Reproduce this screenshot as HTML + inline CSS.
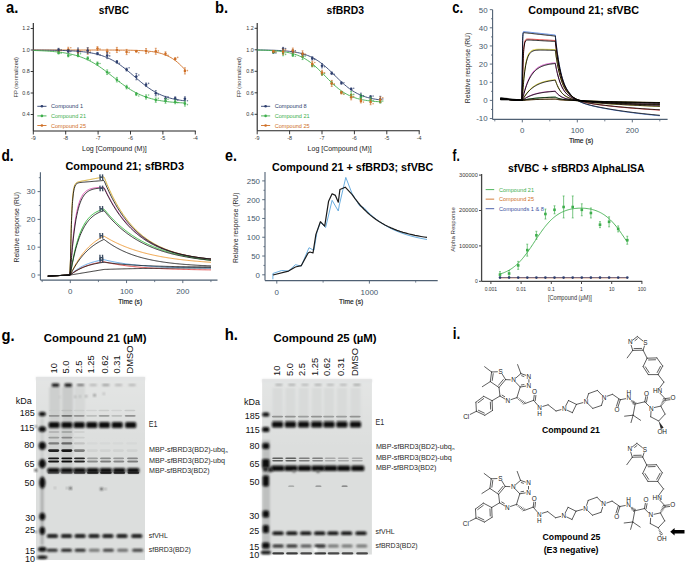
<!DOCTYPE html>
<html><head><meta charset="utf-8"><style>
html,body{margin:0;padding:0;background:#fff;}
svg{display:block;font-family:"Liberation Sans", sans-serif;}
</style></head><body>
<svg width="685" height="563" viewBox="0 0 685 563">
<rect width="685" height="563" fill="#fff"/>
<text x="6.1" y="13.1" font-size="16" fill="#000" font-weight="bold" text-anchor="start" textLength="12.3" lengthAdjust="spacingAndGlyphs" >a.</text>
<text x="98.8" y="13.6" font-size="11.5" fill="#000" font-weight="bold" text-anchor="start" textLength="30.2" lengthAdjust="spacingAndGlyphs" >sfVBC</text>
<text x="215.0" y="12.6" font-size="16" fill="#000" font-weight="bold" text-anchor="start" textLength="13.1" lengthAdjust="spacingAndGlyphs" >b.</text>
<text x="326.6" y="13.7" font-size="11.5" fill="#000" font-weight="bold" text-anchor="start" textLength="37.4" lengthAdjust="spacingAndGlyphs" >sfBRD3</text>
<text x="452.2" y="12.8" font-size="16" fill="#000" font-weight="bold" text-anchor="start" textLength="10.9" lengthAdjust="spacingAndGlyphs" >c.</text>
<text x="528.3" y="13.5" font-size="11.5" fill="#000" font-weight="bold" text-anchor="start" textLength="110.8" lengthAdjust="spacingAndGlyphs" >Compound 21; sfVBC</text>
<line x1="33.30" y1="23.12" x2="33.30" y2="131.00" stroke="#222" stroke-width="1.1" />
<line x1="33.30" y1="131.00" x2="195.80" y2="131.00" stroke="#222" stroke-width="1.1" />
<line x1="30.70" y1="114.50" x2="33.30" y2="114.50" stroke="#222" stroke-width="0.9" />
<text x="29.8" y="116.4" font-size="5.4" fill="#333" font-weight="normal" text-anchor="end" >0.4</text>
<line x1="30.70" y1="93.00" x2="33.30" y2="93.00" stroke="#222" stroke-width="0.9" />
<text x="29.8" y="94.9" font-size="5.4" fill="#333" font-weight="normal" text-anchor="end" >0.6</text>
<line x1="30.70" y1="71.50" x2="33.30" y2="71.50" stroke="#222" stroke-width="0.9" />
<text x="29.8" y="73.4" font-size="5.4" fill="#333" font-weight="normal" text-anchor="end" >0.8</text>
<line x1="30.70" y1="50.00" x2="33.30" y2="50.00" stroke="#222" stroke-width="0.9" />
<text x="29.8" y="51.9" font-size="5.4" fill="#333" font-weight="normal" text-anchor="end" >1.0</text>
<line x1="30.70" y1="28.50" x2="33.30" y2="28.50" stroke="#222" stroke-width="0.9" />
<text x="29.8" y="30.4" font-size="5.4" fill="#333" font-weight="normal" text-anchor="end" >1.2</text>
<line x1="33.30" y1="131.00" x2="33.30" y2="134.50" stroke="#222" stroke-width="0.9" />
<text x="33.3" y="140.3" font-size="5.4" fill="#333" font-weight="normal" text-anchor="middle" >-9</text>
<line x1="65.70" y1="131.00" x2="65.70" y2="134.50" stroke="#222" stroke-width="0.9" />
<text x="65.7" y="140.3" font-size="5.4" fill="#333" font-weight="normal" text-anchor="middle" >-8</text>
<line x1="98.10" y1="131.00" x2="98.10" y2="134.50" stroke="#222" stroke-width="0.9" />
<text x="98.1" y="140.3" font-size="5.4" fill="#333" font-weight="normal" text-anchor="middle" >-7</text>
<line x1="130.50" y1="131.00" x2="130.50" y2="134.50" stroke="#222" stroke-width="0.9" />
<text x="130.5" y="140.3" font-size="5.4" fill="#333" font-weight="normal" text-anchor="middle" >-6</text>
<line x1="162.90" y1="131.00" x2="162.90" y2="134.50" stroke="#222" stroke-width="0.9" />
<text x="162.9" y="140.3" font-size="5.4" fill="#333" font-weight="normal" text-anchor="middle" >-5</text>
<line x1="195.30" y1="131.00" x2="195.30" y2="134.50" stroke="#222" stroke-width="0.9" />
<text x="195.3" y="140.3" font-size="5.4" fill="#333" font-weight="normal" text-anchor="middle" >-4</text>
<text transform="translate(15.3,77.3) rotate(-90)" x="0" y="2.2" font-size="6.2" fill="#333" font-weight="normal" text-anchor="middle" textLength="40.3" lengthAdjust="spacingAndGlyphs">FP (normalized)</text>
<text x="82.0" y="151.2" font-size="6.6" fill="#222" font-weight="normal" text-anchor="start" textLength="64.7" lengthAdjust="spacingAndGlyphs" >Log [Compound (M)]</text>
<path d="M33.30,50.00 L34.92,50.00 L36.54,50.00 L38.16,50.00 L39.78,50.00 L41.40,50.00 L43.02,50.00 L44.64,50.00 L46.26,50.00 L47.88,50.00 L49.50,50.00 L51.12,50.00 L52.74,50.00 L54.36,50.00 L55.98,50.00 L57.60,50.00 L59.22,50.00 L60.84,50.00 L62.46,50.00 L64.08,50.00 L65.70,50.00 L67.32,50.00 L68.94,50.00 L70.56,50.00 L72.18,50.00 L73.80,50.00 L75.42,50.00 L77.04,50.00 L78.66,50.00 L80.28,50.00 L81.90,50.00 L83.52,50.00 L85.14,50.00 L86.76,50.00 L88.38,50.01 L90.00,50.01 L91.62,50.01 L93.24,50.01 L94.86,50.01 L96.48,50.01 L98.10,50.01 L99.72,50.02 L101.34,50.02 L102.96,50.02 L104.58,50.02 L106.20,50.03 L107.82,50.03 L109.44,50.04 L111.06,50.04 L112.68,50.05 L114.30,50.06 L115.92,50.07 L117.54,50.08 L119.16,50.09 L120.78,50.10 L122.40,50.12 L124.02,50.13 L125.64,50.16 L127.26,50.18 L128.88,50.21 L130.50,50.24 L132.12,50.28 L133.74,50.32 L135.36,50.37 L136.98,50.43 L138.60,50.49 L140.22,50.57 L141.84,50.65 L143.46,50.75 L145.08,50.87 L146.70,51.00 L148.32,51.16 L149.94,51.33 L151.56,51.53 L153.18,51.76 L154.80,52.03 L156.42,52.33 L158.04,52.67 L159.66,53.07 L161.28,53.51 L162.90,54.02 L164.52,54.59 L166.14,55.23 L167.76,55.96 L169.38,56.77 L171.00,57.67 L172.62,58.67 L174.24,59.77 L175.86,60.98 L177.48,62.30 L179.10,63.73 L180.72,65.26 L182.34,66.88 L183.96,68.60 L185.58,70.40" stroke="#cf6f26" stroke-width="0.9" fill="none" stroke-linejoin="round" />
<path d="M33.30,50.07 L34.92,50.08 L36.54,50.09 L38.16,50.10 L39.78,50.11 L41.40,50.12 L43.02,50.13 L44.64,50.15 L46.26,50.16 L47.88,50.18 L49.50,50.20 L51.12,50.23 L52.74,50.25 L54.36,50.28 L55.98,50.31 L57.60,50.34 L59.22,50.38 L60.84,50.42 L62.46,50.47 L64.08,50.52 L65.70,50.58 L67.32,50.65 L68.94,50.72 L70.56,50.80 L72.18,50.88 L73.80,50.98 L75.42,51.09 L77.04,51.21 L78.66,51.34 L80.28,51.49 L81.90,51.65 L83.52,51.83 L85.14,52.02 L86.76,52.24 L88.38,52.48 L90.00,52.74 L91.62,53.03 L93.24,53.35 L94.86,53.70 L96.48,54.09 L98.10,54.50 L99.72,54.96 L101.34,55.46 L102.96,56.00 L104.58,56.59 L106.20,57.23 L107.82,57.92 L109.44,58.66 L111.06,59.46 L112.68,60.31 L114.30,61.22 L115.92,62.19 L117.54,63.21 L119.16,64.29 L120.78,65.42 L122.40,66.61 L124.02,67.84 L125.64,69.11 L127.26,70.42 L128.88,71.77 L130.50,73.13 L132.12,74.52 L133.74,75.92 L135.36,77.32 L136.98,78.71 L138.60,80.09 L140.22,81.45 L141.84,82.78 L143.46,84.08 L145.08,85.34 L146.70,86.55 L148.32,87.71 L149.94,88.82 L151.56,89.88 L153.18,90.88 L154.80,91.83 L156.42,92.71 L158.04,93.54 L159.66,94.32 L161.28,95.04 L162.90,95.71 L164.52,96.32 L166.14,96.89 L167.76,97.42 L169.38,97.90 L171.00,98.34 L172.62,98.75 L174.24,99.12 L175.86,99.45 L177.48,99.76 L179.10,100.04 L180.72,100.29 L182.34,100.52 L183.96,100.73 L185.58,100.92" stroke="#2e3f6e" stroke-width="0.9" fill="none" stroke-linejoin="round" />
<path d="M33.30,50.48 L34.92,50.53 L36.54,50.58 L38.16,50.64 L39.78,50.71 L41.40,50.78 L43.02,50.85 L44.64,50.94 L46.26,51.03 L47.88,51.13 L49.50,51.24 L51.12,51.36 L52.74,51.49 L54.36,51.64 L55.98,51.80 L57.60,51.97 L59.22,52.16 L60.84,52.37 L62.46,52.59 L64.08,52.84 L65.70,53.11 L67.32,53.40 L68.94,53.72 L70.56,54.06 L72.18,54.44 L73.80,54.84 L75.42,55.28 L77.04,55.75 L78.66,56.26 L80.28,56.81 L81.90,57.40 L83.52,58.03 L85.14,58.71 L86.76,59.43 L88.38,60.19 L90.00,61.00 L91.62,61.86 L93.24,62.77 L94.86,63.73 L96.48,64.72 L98.10,65.77 L99.72,66.85 L101.34,67.98 L102.96,69.14 L104.58,70.33 L106.20,71.55 L107.82,72.80 L109.44,74.06 L111.06,75.34 L112.68,76.62 L114.30,77.90 L115.92,79.18 L117.54,80.45 L119.16,81.70 L120.78,82.93 L122.40,84.14 L124.02,85.31 L125.64,86.45 L127.26,87.55 L128.88,88.61 L130.50,89.63 L132.12,90.60 L133.74,91.53 L135.36,92.41 L136.98,93.24 L138.60,94.02 L140.22,94.76 L141.84,95.45 L143.46,96.10 L145.08,96.71 L146.70,97.27 L148.32,97.80 L149.94,98.28 L151.56,98.74 L153.18,99.15 L154.80,99.54 L156.42,99.90 L158.04,100.22 L159.66,100.53 L161.28,100.80 L162.90,101.06 L164.52,101.29 L166.14,101.51 L167.76,101.70 L169.38,101.88 L171.00,102.05 L172.62,102.20 L174.24,102.34 L175.86,102.46 L177.48,102.58 L179.10,102.68 L180.72,102.78 L182.34,102.86 L183.96,102.94 L185.58,103.02" stroke="#3eae4c" stroke-width="0.9" fill="none" stroke-linejoin="round" />
<line x1="58.57" y1="49.02" x2="58.57" y2="53.23" stroke="#cf6f26" stroke-width="0.7" />
<line x1="57.57" y1="49.02" x2="59.57" y2="49.02" stroke="#cf6f26" stroke-width="0.6" />
<line x1="57.57" y1="53.23" x2="59.57" y2="53.23" stroke="#cf6f26" stroke-width="0.6" />
<circle cx="58.6" cy="51.1" r="1.3" fill="#cf6f26"/>
<circle cx="61.1" cy="50.6" r="0.8" fill="#cf6f26" opacity="0.7"/>
<line x1="68.29" y1="47.25" x2="68.29" y2="51.86" stroke="#cf6f26" stroke-width="0.7" />
<line x1="67.29" y1="47.25" x2="69.29" y2="47.25" stroke="#cf6f26" stroke-width="0.6" />
<line x1="67.29" y1="51.86" x2="69.29" y2="51.86" stroke="#cf6f26" stroke-width="0.6" />
<circle cx="68.3" cy="49.6" r="1.3" fill="#cf6f26"/>
<circle cx="70.8" cy="47.8" r="0.8" fill="#cf6f26" opacity="0.7"/>
<line x1="78.01" y1="49.29" x2="78.01" y2="54.91" stroke="#cf6f26" stroke-width="0.7" />
<line x1="77.01" y1="49.29" x2="79.01" y2="49.29" stroke="#cf6f26" stroke-width="0.6" />
<line x1="77.01" y1="54.91" x2="79.01" y2="54.91" stroke="#cf6f26" stroke-width="0.6" />
<circle cx="78.0" cy="52.1" r="1.3" fill="#cf6f26"/>
<circle cx="80.5" cy="51.1" r="0.8" fill="#cf6f26" opacity="0.7"/>
<line x1="87.73" y1="47.96" x2="87.73" y2="54.34" stroke="#cf6f26" stroke-width="0.7" />
<line x1="86.73" y1="47.96" x2="88.73" y2="47.96" stroke="#cf6f26" stroke-width="0.6" />
<line x1="86.73" y1="54.34" x2="88.73" y2="54.34" stroke="#cf6f26" stroke-width="0.6" />
<circle cx="87.7" cy="51.1" r="1.3" fill="#cf6f26"/>
<circle cx="90.2" cy="51.0" r="0.8" fill="#cf6f26" opacity="0.7"/>
<line x1="97.45" y1="46.62" x2="97.45" y2="50.51" stroke="#cf6f26" stroke-width="0.7" />
<line x1="96.45" y1="46.62" x2="98.45" y2="46.62" stroke="#cf6f26" stroke-width="0.6" />
<line x1="96.45" y1="50.51" x2="98.45" y2="50.51" stroke="#cf6f26" stroke-width="0.6" />
<circle cx="97.5" cy="48.6" r="1.3" fill="#cf6f26"/>
<circle cx="100.0" cy="49.1" r="0.8" fill="#cf6f26" opacity="0.7"/>
<line x1="107.17" y1="49.21" x2="107.17" y2="53.86" stroke="#cf6f26" stroke-width="0.7" />
<line x1="106.17" y1="49.21" x2="108.17" y2="49.21" stroke="#cf6f26" stroke-width="0.6" />
<line x1="106.17" y1="53.86" x2="108.17" y2="53.86" stroke="#cf6f26" stroke-width="0.6" />
<circle cx="107.2" cy="51.5" r="1.3" fill="#cf6f26"/>
<circle cx="109.7" cy="53.0" r="0.8" fill="#cf6f26" opacity="0.7"/>
<line x1="116.89" y1="47.39" x2="116.89" y2="52.55" stroke="#cf6f26" stroke-width="0.7" />
<line x1="115.89" y1="47.39" x2="117.89" y2="47.39" stroke="#cf6f26" stroke-width="0.6" />
<line x1="115.89" y1="52.55" x2="117.89" y2="52.55" stroke="#cf6f26" stroke-width="0.6" />
<circle cx="116.9" cy="50.0" r="1.3" fill="#cf6f26"/>
<circle cx="119.4" cy="50.7" r="0.8" fill="#cf6f26" opacity="0.7"/>
<line x1="126.61" y1="49.42" x2="126.61" y2="54.66" stroke="#cf6f26" stroke-width="0.7" />
<line x1="125.61" y1="49.42" x2="127.61" y2="49.42" stroke="#cf6f26" stroke-width="0.6" />
<line x1="125.61" y1="54.66" x2="127.61" y2="54.66" stroke="#cf6f26" stroke-width="0.6" />
<circle cx="126.6" cy="52.0" r="1.3" fill="#cf6f26"/>
<circle cx="129.1" cy="52.4" r="0.8" fill="#cf6f26" opacity="0.7"/>
<line x1="136.33" y1="50.38" x2="136.33" y2="52.13" stroke="#cf6f26" stroke-width="0.7" />
<line x1="135.33" y1="50.38" x2="137.33" y2="50.38" stroke="#cf6f26" stroke-width="0.6" />
<line x1="135.33" y1="52.13" x2="137.33" y2="52.13" stroke="#cf6f26" stroke-width="0.6" />
<circle cx="136.3" cy="51.3" r="1.3" fill="#cf6f26"/>
<circle cx="138.8" cy="52.7" r="0.8" fill="#cf6f26" opacity="0.7"/>
<line x1="146.05" y1="48.54" x2="146.05" y2="53.59" stroke="#cf6f26" stroke-width="0.7" />
<line x1="145.05" y1="48.54" x2="147.05" y2="48.54" stroke="#cf6f26" stroke-width="0.6" />
<line x1="145.05" y1="53.59" x2="147.05" y2="53.59" stroke="#cf6f26" stroke-width="0.6" />
<circle cx="146.1" cy="51.1" r="1.3" fill="#cf6f26"/>
<circle cx="148.6" cy="52.6" r="0.8" fill="#cf6f26" opacity="0.7"/>
<line x1="155.77" y1="48.27" x2="155.77" y2="54.29" stroke="#cf6f26" stroke-width="0.7" />
<line x1="154.77" y1="48.27" x2="156.77" y2="48.27" stroke="#cf6f26" stroke-width="0.6" />
<line x1="154.77" y1="54.29" x2="156.77" y2="54.29" stroke="#cf6f26" stroke-width="0.6" />
<circle cx="155.8" cy="51.3" r="1.3" fill="#cf6f26"/>
<circle cx="158.3" cy="50.9" r="0.8" fill="#cf6f26" opacity="0.7"/>
<line x1="165.49" y1="51.81" x2="165.49" y2="55.54" stroke="#cf6f26" stroke-width="0.7" />
<line x1="164.49" y1="51.81" x2="166.49" y2="51.81" stroke="#cf6f26" stroke-width="0.6" />
<line x1="164.49" y1="55.54" x2="166.49" y2="55.54" stroke="#cf6f26" stroke-width="0.6" />
<circle cx="165.5" cy="53.7" r="1.3" fill="#cf6f26"/>
<circle cx="168.0" cy="55.4" r="0.8" fill="#cf6f26" opacity="0.7"/>
<line x1="175.21" y1="57.82" x2="175.21" y2="59.89" stroke="#cf6f26" stroke-width="0.7" />
<line x1="174.21" y1="57.82" x2="176.21" y2="57.82" stroke="#cf6f26" stroke-width="0.6" />
<line x1="174.21" y1="59.89" x2="176.21" y2="59.89" stroke="#cf6f26" stroke-width="0.6" />
<circle cx="175.2" cy="58.9" r="1.3" fill="#cf6f26"/>
<circle cx="177.7" cy="57.4" r="0.8" fill="#cf6f26" opacity="0.7"/>
<line x1="184.93" y1="67.77" x2="184.93" y2="74.01" stroke="#cf6f26" stroke-width="0.7" />
<line x1="183.93" y1="67.77" x2="185.93" y2="67.77" stroke="#cf6f26" stroke-width="0.6" />
<line x1="183.93" y1="74.01" x2="185.93" y2="74.01" stroke="#cf6f26" stroke-width="0.6" />
<circle cx="184.9" cy="70.9" r="1.3" fill="#cf6f26"/>
<circle cx="187.4" cy="70.6" r="0.8" fill="#cf6f26" opacity="0.7"/>
<line x1="58.57" y1="48.30" x2="58.57" y2="51.34" stroke="#2e3f6e" stroke-width="0.7" />
<line x1="57.57" y1="48.30" x2="59.57" y2="48.30" stroke="#2e3f6e" stroke-width="0.6" />
<line x1="57.57" y1="51.34" x2="59.57" y2="51.34" stroke="#2e3f6e" stroke-width="0.6" />
<circle cx="58.6" cy="49.8" r="1.3" fill="#2e3f6e"/>
<circle cx="61.1" cy="49.9" r="0.8" fill="#2e3f6e" opacity="0.7"/>
<line x1="68.29" y1="49.54" x2="68.29" y2="52.82" stroke="#2e3f6e" stroke-width="0.7" />
<line x1="67.29" y1="49.54" x2="69.29" y2="49.54" stroke="#2e3f6e" stroke-width="0.6" />
<line x1="67.29" y1="52.82" x2="69.29" y2="52.82" stroke="#2e3f6e" stroke-width="0.6" />
<circle cx="68.3" cy="51.2" r="1.3" fill="#2e3f6e"/>
<circle cx="70.8" cy="51.5" r="0.8" fill="#2e3f6e" opacity="0.7"/>
<line x1="78.01" y1="47.95" x2="78.01" y2="53.89" stroke="#2e3f6e" stroke-width="0.7" />
<line x1="77.01" y1="47.95" x2="79.01" y2="47.95" stroke="#2e3f6e" stroke-width="0.6" />
<line x1="77.01" y1="53.89" x2="79.01" y2="53.89" stroke="#2e3f6e" stroke-width="0.6" />
<circle cx="78.0" cy="50.9" r="1.3" fill="#2e3f6e"/>
<circle cx="80.5" cy="51.7" r="0.8" fill="#2e3f6e" opacity="0.7"/>
<line x1="87.73" y1="47.68" x2="87.73" y2="53.39" stroke="#2e3f6e" stroke-width="0.7" />
<line x1="86.73" y1="47.68" x2="88.73" y2="47.68" stroke="#2e3f6e" stroke-width="0.6" />
<line x1="86.73" y1="53.39" x2="88.73" y2="53.39" stroke="#2e3f6e" stroke-width="0.6" />
<circle cx="87.7" cy="50.5" r="1.3" fill="#2e3f6e"/>
<circle cx="90.2" cy="52.5" r="0.8" fill="#2e3f6e" opacity="0.7"/>
<line x1="97.45" y1="52.40" x2="97.45" y2="54.79" stroke="#2e3f6e" stroke-width="0.7" />
<line x1="96.45" y1="52.40" x2="98.45" y2="52.40" stroke="#2e3f6e" stroke-width="0.6" />
<line x1="96.45" y1="54.79" x2="98.45" y2="54.79" stroke="#2e3f6e" stroke-width="0.6" />
<circle cx="97.5" cy="53.6" r="1.3" fill="#2e3f6e"/>
<circle cx="100.0" cy="55.0" r="0.8" fill="#2e3f6e" opacity="0.7"/>
<line x1="107.17" y1="52.67" x2="107.17" y2="58.61" stroke="#2e3f6e" stroke-width="0.7" />
<line x1="106.17" y1="52.67" x2="108.17" y2="52.67" stroke="#2e3f6e" stroke-width="0.6" />
<line x1="106.17" y1="58.61" x2="108.17" y2="58.61" stroke="#2e3f6e" stroke-width="0.6" />
<circle cx="107.2" cy="55.6" r="1.3" fill="#2e3f6e"/>
<circle cx="109.7" cy="55.9" r="0.8" fill="#2e3f6e" opacity="0.7"/>
<line x1="116.89" y1="60.57" x2="116.89" y2="63.18" stroke="#2e3f6e" stroke-width="0.7" />
<line x1="115.89" y1="60.57" x2="117.89" y2="60.57" stroke="#2e3f6e" stroke-width="0.6" />
<line x1="115.89" y1="63.18" x2="117.89" y2="63.18" stroke="#2e3f6e" stroke-width="0.6" />
<circle cx="116.9" cy="61.9" r="1.3" fill="#2e3f6e"/>
<circle cx="119.4" cy="63.2" r="0.8" fill="#2e3f6e" opacity="0.7"/>
<line x1="126.61" y1="68.09" x2="126.61" y2="71.06" stroke="#2e3f6e" stroke-width="0.7" />
<line x1="125.61" y1="68.09" x2="127.61" y2="68.09" stroke="#2e3f6e" stroke-width="0.6" />
<line x1="125.61" y1="71.06" x2="127.61" y2="71.06" stroke="#2e3f6e" stroke-width="0.6" />
<circle cx="126.6" cy="69.6" r="1.3" fill="#2e3f6e"/>
<circle cx="129.1" cy="67.8" r="0.8" fill="#2e3f6e" opacity="0.7"/>
<line x1="136.33" y1="73.46" x2="136.33" y2="79.81" stroke="#2e3f6e" stroke-width="0.7" />
<line x1="135.33" y1="73.46" x2="137.33" y2="73.46" stroke="#2e3f6e" stroke-width="0.6" />
<line x1="135.33" y1="79.81" x2="137.33" y2="79.81" stroke="#2e3f6e" stroke-width="0.6" />
<circle cx="136.3" cy="76.6" r="1.3" fill="#2e3f6e"/>
<circle cx="138.8" cy="75.0" r="0.8" fill="#2e3f6e" opacity="0.7"/>
<line x1="146.05" y1="82.99" x2="146.05" y2="86.56" stroke="#2e3f6e" stroke-width="0.7" />
<line x1="145.05" y1="82.99" x2="147.05" y2="82.99" stroke="#2e3f6e" stroke-width="0.6" />
<line x1="145.05" y1="86.56" x2="147.05" y2="86.56" stroke="#2e3f6e" stroke-width="0.6" />
<circle cx="146.1" cy="84.8" r="1.3" fill="#2e3f6e"/>
<circle cx="148.6" cy="83.4" r="0.8" fill="#2e3f6e" opacity="0.7"/>
<line x1="155.77" y1="90.61" x2="155.77" y2="95.90" stroke="#2e3f6e" stroke-width="0.7" />
<line x1="154.77" y1="90.61" x2="156.77" y2="90.61" stroke="#2e3f6e" stroke-width="0.6" />
<line x1="154.77" y1="95.90" x2="156.77" y2="95.90" stroke="#2e3f6e" stroke-width="0.6" />
<circle cx="155.8" cy="93.3" r="1.3" fill="#2e3f6e"/>
<circle cx="158.3" cy="94.7" r="0.8" fill="#2e3f6e" opacity="0.7"/>
<line x1="165.49" y1="96.36" x2="165.49" y2="100.91" stroke="#2e3f6e" stroke-width="0.7" />
<line x1="164.49" y1="96.36" x2="166.49" y2="96.36" stroke="#2e3f6e" stroke-width="0.6" />
<line x1="164.49" y1="100.91" x2="166.49" y2="100.91" stroke="#2e3f6e" stroke-width="0.6" />
<circle cx="165.5" cy="98.6" r="1.3" fill="#2e3f6e"/>
<circle cx="168.0" cy="96.8" r="0.8" fill="#2e3f6e" opacity="0.7"/>
<line x1="175.21" y1="96.79" x2="175.21" y2="99.98" stroke="#2e3f6e" stroke-width="0.7" />
<line x1="174.21" y1="96.79" x2="176.21" y2="96.79" stroke="#2e3f6e" stroke-width="0.6" />
<line x1="174.21" y1="99.98" x2="176.21" y2="99.98" stroke="#2e3f6e" stroke-width="0.6" />
<circle cx="175.2" cy="98.4" r="1.3" fill="#2e3f6e"/>
<circle cx="177.7" cy="99.9" r="0.8" fill="#2e3f6e" opacity="0.7"/>
<line x1="184.93" y1="96.77" x2="184.93" y2="100.79" stroke="#2e3f6e" stroke-width="0.7" />
<line x1="183.93" y1="96.77" x2="185.93" y2="96.77" stroke="#2e3f6e" stroke-width="0.6" />
<line x1="183.93" y1="100.79" x2="185.93" y2="100.79" stroke="#2e3f6e" stroke-width="0.6" />
<circle cx="184.9" cy="98.8" r="1.3" fill="#2e3f6e"/>
<circle cx="187.4" cy="100.8" r="0.8" fill="#2e3f6e" opacity="0.7"/>
<line x1="58.57" y1="51.92" x2="58.57" y2="53.89" stroke="#3eae4c" stroke-width="0.7" />
<line x1="57.57" y1="51.92" x2="59.57" y2="51.92" stroke="#3eae4c" stroke-width="0.6" />
<line x1="57.57" y1="53.89" x2="59.57" y2="53.89" stroke="#3eae4c" stroke-width="0.6" />
<circle cx="58.6" cy="52.9" r="1.3" fill="#3eae4c"/>
<circle cx="61.1" cy="53.3" r="0.8" fill="#3eae4c" opacity="0.7"/>
<line x1="68.29" y1="54.33" x2="68.29" y2="56.88" stroke="#3eae4c" stroke-width="0.7" />
<line x1="67.29" y1="54.33" x2="69.29" y2="54.33" stroke="#3eae4c" stroke-width="0.6" />
<line x1="67.29" y1="56.88" x2="69.29" y2="56.88" stroke="#3eae4c" stroke-width="0.6" />
<circle cx="68.3" cy="55.6" r="1.3" fill="#3eae4c"/>
<circle cx="70.8" cy="55.2" r="0.8" fill="#3eae4c" opacity="0.7"/>
<line x1="78.01" y1="54.40" x2="78.01" y2="56.75" stroke="#3eae4c" stroke-width="0.7" />
<line x1="77.01" y1="54.40" x2="79.01" y2="54.40" stroke="#3eae4c" stroke-width="0.6" />
<line x1="77.01" y1="56.75" x2="79.01" y2="56.75" stroke="#3eae4c" stroke-width="0.6" />
<circle cx="78.0" cy="55.6" r="1.3" fill="#3eae4c"/>
<circle cx="80.5" cy="53.7" r="0.8" fill="#3eae4c" opacity="0.7"/>
<line x1="87.73" y1="56.75" x2="87.73" y2="59.85" stroke="#3eae4c" stroke-width="0.7" />
<line x1="86.73" y1="56.75" x2="88.73" y2="56.75" stroke="#3eae4c" stroke-width="0.6" />
<line x1="86.73" y1="59.85" x2="88.73" y2="59.85" stroke="#3eae4c" stroke-width="0.6" />
<circle cx="87.7" cy="58.3" r="1.3" fill="#3eae4c"/>
<circle cx="90.2" cy="60.1" r="0.8" fill="#3eae4c" opacity="0.7"/>
<line x1="97.45" y1="61.93" x2="97.45" y2="65.35" stroke="#3eae4c" stroke-width="0.7" />
<line x1="96.45" y1="61.93" x2="98.45" y2="61.93" stroke="#3eae4c" stroke-width="0.6" />
<line x1="96.45" y1="65.35" x2="98.45" y2="65.35" stroke="#3eae4c" stroke-width="0.6" />
<circle cx="97.5" cy="63.6" r="1.3" fill="#3eae4c"/>
<circle cx="100.0" cy="63.5" r="0.8" fill="#3eae4c" opacity="0.7"/>
<line x1="107.17" y1="69.87" x2="107.17" y2="74.56" stroke="#3eae4c" stroke-width="0.7" />
<line x1="106.17" y1="69.87" x2="108.17" y2="69.87" stroke="#3eae4c" stroke-width="0.6" />
<line x1="106.17" y1="74.56" x2="108.17" y2="74.56" stroke="#3eae4c" stroke-width="0.6" />
<circle cx="107.2" cy="72.2" r="1.3" fill="#3eae4c"/>
<circle cx="109.7" cy="72.6" r="0.8" fill="#3eae4c" opacity="0.7"/>
<line x1="116.89" y1="77.40" x2="116.89" y2="81.98" stroke="#3eae4c" stroke-width="0.7" />
<line x1="115.89" y1="77.40" x2="117.89" y2="77.40" stroke="#3eae4c" stroke-width="0.6" />
<line x1="115.89" y1="81.98" x2="117.89" y2="81.98" stroke="#3eae4c" stroke-width="0.6" />
<circle cx="116.9" cy="79.7" r="1.3" fill="#3eae4c"/>
<circle cx="119.4" cy="81.5" r="0.8" fill="#3eae4c" opacity="0.7"/>
<line x1="126.61" y1="85.25" x2="126.61" y2="88.92" stroke="#3eae4c" stroke-width="0.7" />
<line x1="125.61" y1="85.25" x2="127.61" y2="85.25" stroke="#3eae4c" stroke-width="0.6" />
<line x1="125.61" y1="88.92" x2="127.61" y2="88.92" stroke="#3eae4c" stroke-width="0.6" />
<circle cx="126.6" cy="87.1" r="1.3" fill="#3eae4c"/>
<circle cx="129.1" cy="88.0" r="0.8" fill="#3eae4c" opacity="0.7"/>
<line x1="136.33" y1="92.52" x2="136.33" y2="95.56" stroke="#3eae4c" stroke-width="0.7" />
<line x1="135.33" y1="92.52" x2="137.33" y2="92.52" stroke="#3eae4c" stroke-width="0.6" />
<line x1="135.33" y1="95.56" x2="137.33" y2="95.56" stroke="#3eae4c" stroke-width="0.6" />
<circle cx="136.3" cy="94.0" r="1.3" fill="#3eae4c"/>
<circle cx="138.8" cy="96.0" r="0.8" fill="#3eae4c" opacity="0.7"/>
<line x1="146.05" y1="94.84" x2="146.05" y2="99.08" stroke="#3eae4c" stroke-width="0.7" />
<line x1="145.05" y1="94.84" x2="147.05" y2="94.84" stroke="#3eae4c" stroke-width="0.6" />
<line x1="145.05" y1="99.08" x2="147.05" y2="99.08" stroke="#3eae4c" stroke-width="0.6" />
<circle cx="146.1" cy="97.0" r="1.3" fill="#3eae4c"/>
<circle cx="148.6" cy="95.0" r="0.8" fill="#3eae4c" opacity="0.7"/>
<line x1="155.77" y1="97.93" x2="155.77" y2="102.31" stroke="#3eae4c" stroke-width="0.7" />
<line x1="154.77" y1="97.93" x2="156.77" y2="97.93" stroke="#3eae4c" stroke-width="0.6" />
<line x1="154.77" y1="102.31" x2="156.77" y2="102.31" stroke="#3eae4c" stroke-width="0.6" />
<circle cx="155.8" cy="100.1" r="1.3" fill="#3eae4c"/>
<circle cx="158.3" cy="98.2" r="0.8" fill="#3eae4c" opacity="0.7"/>
<line x1="165.49" y1="98.61" x2="165.49" y2="103.24" stroke="#3eae4c" stroke-width="0.7" />
<line x1="164.49" y1="98.61" x2="166.49" y2="98.61" stroke="#3eae4c" stroke-width="0.6" />
<line x1="164.49" y1="103.24" x2="166.49" y2="103.24" stroke="#3eae4c" stroke-width="0.6" />
<circle cx="165.5" cy="100.9" r="1.3" fill="#3eae4c"/>
<circle cx="168.0" cy="99.2" r="0.8" fill="#3eae4c" opacity="0.7"/>
<line x1="175.21" y1="99.95" x2="175.21" y2="103.79" stroke="#3eae4c" stroke-width="0.7" />
<line x1="174.21" y1="99.95" x2="176.21" y2="99.95" stroke="#3eae4c" stroke-width="0.6" />
<line x1="174.21" y1="103.79" x2="176.21" y2="103.79" stroke="#3eae4c" stroke-width="0.6" />
<circle cx="175.2" cy="101.9" r="1.3" fill="#3eae4c"/>
<circle cx="177.7" cy="102.6" r="0.8" fill="#3eae4c" opacity="0.7"/>
<line x1="184.93" y1="101.13" x2="184.93" y2="106.12" stroke="#3eae4c" stroke-width="0.7" />
<line x1="183.93" y1="101.13" x2="185.93" y2="101.13" stroke="#3eae4c" stroke-width="0.6" />
<line x1="183.93" y1="106.12" x2="185.93" y2="106.12" stroke="#3eae4c" stroke-width="0.6" />
<circle cx="184.9" cy="103.6" r="1.3" fill="#3eae4c"/>
<circle cx="187.4" cy="104.6" r="0.8" fill="#3eae4c" opacity="0.7"/>
<line x1="37.30" y1="106.30" x2="46.50" y2="106.30" stroke="#2e3f6e" stroke-width="0.9" />
<circle cx="41.9" cy="106.3" r="1.3" fill="#2e3f6e"/>
<text x="51.0" y="108.4" font-size="5.9" fill="#2e3f6e" font-weight="normal" text-anchor="start" textLength="32.0" lengthAdjust="spacingAndGlyphs" >Compound 1</text>
<line x1="37.30" y1="115.90" x2="46.50" y2="115.90" stroke="#3eae4c" stroke-width="0.9" />
<circle cx="41.9" cy="115.9" r="1.3" fill="#3eae4c"/>
<text x="51.0" y="118.0" font-size="5.9" fill="#3eae4c" font-weight="normal" text-anchor="start" textLength="35.0" lengthAdjust="spacingAndGlyphs" >Compound 21</text>
<line x1="37.30" y1="125.50" x2="46.50" y2="125.50" stroke="#cf6f26" stroke-width="0.9" />
<circle cx="41.9" cy="125.5" r="1.3" fill="#cf6f26"/>
<text x="51.0" y="127.6" font-size="5.9" fill="#cf6f26" font-weight="normal" text-anchor="start" textLength="35.0" lengthAdjust="spacingAndGlyphs" >Compound 25</text>
<line x1="257.20" y1="22.92" x2="257.20" y2="130.80" stroke="#222" stroke-width="1.1" />
<line x1="257.20" y1="130.80" x2="419.70" y2="130.80" stroke="#222" stroke-width="1.1" />
<line x1="254.60" y1="114.30" x2="257.20" y2="114.30" stroke="#222" stroke-width="0.9" />
<text x="253.7" y="116.2" font-size="5.4" fill="#333" font-weight="normal" text-anchor="end" >0.4</text>
<line x1="254.60" y1="92.80" x2="257.20" y2="92.80" stroke="#222" stroke-width="0.9" />
<text x="253.7" y="94.7" font-size="5.4" fill="#333" font-weight="normal" text-anchor="end" >0.6</text>
<line x1="254.60" y1="71.30" x2="257.20" y2="71.30" stroke="#222" stroke-width="0.9" />
<text x="253.7" y="73.2" font-size="5.4" fill="#333" font-weight="normal" text-anchor="end" >0.8</text>
<line x1="254.60" y1="49.80" x2="257.20" y2="49.80" stroke="#222" stroke-width="0.9" />
<text x="253.7" y="51.7" font-size="5.4" fill="#333" font-weight="normal" text-anchor="end" >1.0</text>
<line x1="254.60" y1="28.30" x2="257.20" y2="28.30" stroke="#222" stroke-width="0.9" />
<text x="253.7" y="30.2" font-size="5.4" fill="#333" font-weight="normal" text-anchor="end" >1.2</text>
<line x1="257.20" y1="130.80" x2="257.20" y2="134.30" stroke="#222" stroke-width="0.9" />
<text x="257.2" y="140.1" font-size="5.4" fill="#333" font-weight="normal" text-anchor="middle" >-9</text>
<line x1="289.60" y1="130.80" x2="289.60" y2="134.30" stroke="#222" stroke-width="0.9" />
<text x="289.6" y="140.1" font-size="5.4" fill="#333" font-weight="normal" text-anchor="middle" >-8</text>
<line x1="322.00" y1="130.80" x2="322.00" y2="134.30" stroke="#222" stroke-width="0.9" />
<text x="322.0" y="140.1" font-size="5.4" fill="#333" font-weight="normal" text-anchor="middle" >-7</text>
<line x1="354.40" y1="130.80" x2="354.40" y2="134.30" stroke="#222" stroke-width="0.9" />
<text x="354.4" y="140.1" font-size="5.4" fill="#333" font-weight="normal" text-anchor="middle" >-6</text>
<line x1="386.80" y1="130.80" x2="386.80" y2="134.30" stroke="#222" stroke-width="0.9" />
<text x="386.8" y="140.1" font-size="5.4" fill="#333" font-weight="normal" text-anchor="middle" >-5</text>
<line x1="419.20" y1="130.80" x2="419.20" y2="134.30" stroke="#222" stroke-width="0.9" />
<text x="419.2" y="140.1" font-size="5.4" fill="#333" font-weight="normal" text-anchor="middle" >-4</text>
<text transform="translate(238.7,77.3) rotate(-90)" x="0" y="2.2" font-size="6.2" fill="#333" font-weight="normal" text-anchor="middle" textLength="40.3" lengthAdjust="spacingAndGlyphs">FP (normalized)</text>
<text x="307.6" y="151.0" font-size="6.6" fill="#222" font-weight="normal" text-anchor="start" textLength="64.2" lengthAdjust="spacingAndGlyphs" >Log [Compound (M)]</text>
<path d="M257.20,49.93 L258.82,49.95 L260.44,49.97 L262.06,49.99 L263.68,50.02 L265.30,50.04 L266.92,50.08 L268.54,50.11 L270.16,50.15 L271.78,50.20 L273.40,50.25 L275.02,50.31 L276.64,50.38 L278.26,50.46 L279.88,50.54 L281.50,50.64 L283.12,50.75 L284.74,50.87 L286.36,51.01 L287.98,51.16 L289.60,51.34 L291.22,51.54 L292.84,51.76 L294.46,52.01 L296.08,52.28 L297.70,52.60 L299.32,52.94 L300.94,53.33 L302.56,53.76 L304.18,54.24 L305.80,54.77 L307.42,55.36 L309.04,56.01 L310.66,56.72 L312.28,57.50 L313.90,58.35 L315.52,59.27 L317.14,60.27 L318.76,61.35 L320.38,62.50 L322.00,63.73 L323.62,65.03 L325.24,66.40 L326.86,67.83 L328.48,69.31 L330.10,70.84 L331.72,72.41 L333.34,74.00 L334.96,75.60 L336.58,77.20 L338.20,78.79 L339.82,80.36 L341.44,81.89 L343.06,83.37 L344.68,84.80 L346.30,86.17 L347.92,87.47 L349.54,88.70 L351.16,89.85 L352.78,90.93 L354.40,91.93 L356.02,92.85 L357.64,93.70 L359.26,94.48 L360.88,95.19 L362.50,95.84 L364.12,96.43 L365.74,96.96 L367.36,97.44 L368.98,97.87 L370.60,98.26 L372.22,98.60 L373.84,98.92 L375.46,99.19 L377.08,99.44 L378.70,99.66 L380.32,99.86" stroke="#2e3f6e" stroke-width="0.9" fill="none" stroke-linejoin="round" />
<path d="M257.20,50.06 L258.82,50.09 L260.44,50.13 L262.06,50.17 L263.68,50.22 L265.30,50.28 L266.92,50.35 L268.54,50.42 L270.16,50.50 L271.78,50.59 L273.40,50.70 L275.02,50.82 L276.64,50.95 L278.26,51.11 L279.88,51.28 L281.50,51.47 L283.12,51.69 L284.74,51.93 L286.36,52.21 L287.98,52.51 L289.60,52.86 L291.22,53.25 L292.84,53.68 L294.46,54.16 L296.08,54.69 L297.70,55.28 L299.32,55.94 L300.94,56.66 L302.56,57.45 L304.18,58.31 L305.80,59.26 L307.42,60.28 L309.04,61.38 L310.66,62.57 L312.28,63.83 L313.90,65.17 L315.52,66.59 L317.14,68.07 L318.76,69.61 L320.38,71.19 L322.00,72.82 L323.62,74.47 L325.24,76.14 L326.86,77.80 L328.48,79.46 L330.10,81.08 L331.72,82.67 L333.34,84.21 L334.96,85.69 L336.58,87.10 L338.20,88.44 L339.82,89.71 L341.44,90.89 L343.06,92.00 L344.68,93.02 L346.30,93.96 L347.92,94.83 L349.54,95.62 L351.16,96.34 L352.78,96.99 L354.40,97.59 L356.02,98.12 L357.64,98.60 L359.26,99.03 L360.88,99.42 L362.50,99.76 L364.12,100.07 L365.74,100.34 L367.36,100.59 L368.98,100.81 L370.60,101.00 L372.22,101.17 L373.84,101.32 L375.46,101.46 L377.08,101.58 L378.70,101.68 L380.32,101.77" stroke="#3eae4c" stroke-width="0.9" fill="none" stroke-linejoin="round" />
<line x1="273.40" y1="51.36" x2="273.40" y2="53.25" stroke="#2e3f6e" stroke-width="0.7" />
<line x1="272.40" y1="51.36" x2="274.40" y2="51.36" stroke="#2e3f6e" stroke-width="0.6" />
<line x1="272.40" y1="53.25" x2="274.40" y2="53.25" stroke="#2e3f6e" stroke-width="0.6" />
<circle cx="273.4" cy="52.3" r="1.3" fill="#2e3f6e"/>
<circle cx="275.9" cy="53.0" r="0.8" fill="#2e3f6e" opacity="0.7"/>
<line x1="283.12" y1="47.35" x2="283.12" y2="50.16" stroke="#2e3f6e" stroke-width="0.7" />
<line x1="282.12" y1="47.35" x2="284.12" y2="47.35" stroke="#2e3f6e" stroke-width="0.6" />
<line x1="282.12" y1="50.16" x2="284.12" y2="50.16" stroke="#2e3f6e" stroke-width="0.6" />
<circle cx="283.1" cy="48.8" r="1.3" fill="#2e3f6e"/>
<circle cx="285.6" cy="48.6" r="0.8" fill="#2e3f6e" opacity="0.7"/>
<line x1="292.84" y1="49.79" x2="292.84" y2="52.93" stroke="#2e3f6e" stroke-width="0.7" />
<line x1="291.84" y1="49.79" x2="293.84" y2="49.79" stroke="#2e3f6e" stroke-width="0.6" />
<line x1="291.84" y1="52.93" x2="293.84" y2="52.93" stroke="#2e3f6e" stroke-width="0.6" />
<circle cx="292.8" cy="51.4" r="1.3" fill="#2e3f6e"/>
<circle cx="295.3" cy="50.8" r="0.8" fill="#2e3f6e" opacity="0.7"/>
<line x1="302.56" y1="52.88" x2="302.56" y2="56.25" stroke="#2e3f6e" stroke-width="0.7" />
<line x1="301.56" y1="52.88" x2="303.56" y2="52.88" stroke="#2e3f6e" stroke-width="0.6" />
<line x1="301.56" y1="56.25" x2="303.56" y2="56.25" stroke="#2e3f6e" stroke-width="0.6" />
<circle cx="302.6" cy="54.6" r="1.3" fill="#2e3f6e"/>
<circle cx="305.1" cy="55.0" r="0.8" fill="#2e3f6e" opacity="0.7"/>
<line x1="312.28" y1="56.65" x2="312.28" y2="60.06" stroke="#2e3f6e" stroke-width="0.7" />
<line x1="311.28" y1="56.65" x2="313.28" y2="56.65" stroke="#2e3f6e" stroke-width="0.6" />
<line x1="311.28" y1="60.06" x2="313.28" y2="60.06" stroke="#2e3f6e" stroke-width="0.6" />
<circle cx="312.3" cy="58.4" r="1.3" fill="#2e3f6e"/>
<circle cx="314.8" cy="59.4" r="0.8" fill="#2e3f6e" opacity="0.7"/>
<line x1="322.00" y1="63.60" x2="322.00" y2="67.93" stroke="#2e3f6e" stroke-width="0.7" />
<line x1="321.00" y1="63.60" x2="323.00" y2="63.60" stroke="#2e3f6e" stroke-width="0.6" />
<line x1="321.00" y1="67.93" x2="323.00" y2="67.93" stroke="#2e3f6e" stroke-width="0.6" />
<circle cx="322.0" cy="65.8" r="1.3" fill="#2e3f6e"/>
<circle cx="324.5" cy="66.7" r="0.8" fill="#2e3f6e" opacity="0.7"/>
<line x1="331.72" y1="71.89" x2="331.72" y2="74.56" stroke="#2e3f6e" stroke-width="0.7" />
<line x1="330.72" y1="71.89" x2="332.72" y2="71.89" stroke="#2e3f6e" stroke-width="0.6" />
<line x1="330.72" y1="74.56" x2="332.72" y2="74.56" stroke="#2e3f6e" stroke-width="0.6" />
<circle cx="331.7" cy="73.2" r="1.3" fill="#2e3f6e"/>
<circle cx="334.2" cy="74.4" r="0.8" fill="#2e3f6e" opacity="0.7"/>
<line x1="341.44" y1="81.76" x2="341.44" y2="84.26" stroke="#2e3f6e" stroke-width="0.7" />
<line x1="340.44" y1="81.76" x2="342.44" y2="81.76" stroke="#2e3f6e" stroke-width="0.6" />
<line x1="340.44" y1="84.26" x2="342.44" y2="84.26" stroke="#2e3f6e" stroke-width="0.6" />
<circle cx="341.4" cy="83.0" r="1.3" fill="#2e3f6e"/>
<circle cx="343.9" cy="82.8" r="0.8" fill="#2e3f6e" opacity="0.7"/>
<line x1="351.16" y1="87.95" x2="351.16" y2="90.04" stroke="#2e3f6e" stroke-width="0.7" />
<line x1="350.16" y1="87.95" x2="352.16" y2="87.95" stroke="#2e3f6e" stroke-width="0.6" />
<line x1="350.16" y1="90.04" x2="352.16" y2="90.04" stroke="#2e3f6e" stroke-width="0.6" />
<circle cx="351.2" cy="89.0" r="1.3" fill="#2e3f6e"/>
<circle cx="353.7" cy="88.3" r="0.8" fill="#2e3f6e" opacity="0.7"/>
<line x1="360.88" y1="93.11" x2="360.88" y2="98.71" stroke="#2e3f6e" stroke-width="0.7" />
<line x1="359.88" y1="93.11" x2="361.88" y2="93.11" stroke="#2e3f6e" stroke-width="0.6" />
<line x1="359.88" y1="98.71" x2="361.88" y2="98.71" stroke="#2e3f6e" stroke-width="0.6" />
<circle cx="360.9" cy="95.9" r="1.3" fill="#2e3f6e"/>
<circle cx="363.4" cy="95.7" r="0.8" fill="#2e3f6e" opacity="0.7"/>
<line x1="370.60" y1="95.52" x2="370.60" y2="97.93" stroke="#2e3f6e" stroke-width="0.7" />
<line x1="369.60" y1="95.52" x2="371.60" y2="95.52" stroke="#2e3f6e" stroke-width="0.6" />
<line x1="369.60" y1="97.93" x2="371.60" y2="97.93" stroke="#2e3f6e" stroke-width="0.6" />
<circle cx="370.6" cy="96.7" r="1.3" fill="#2e3f6e"/>
<circle cx="373.1" cy="96.1" r="0.8" fill="#2e3f6e" opacity="0.7"/>
<line x1="380.32" y1="96.29" x2="380.32" y2="102.14" stroke="#2e3f6e" stroke-width="0.7" />
<line x1="379.32" y1="96.29" x2="381.32" y2="96.29" stroke="#2e3f6e" stroke-width="0.6" />
<line x1="379.32" y1="102.14" x2="381.32" y2="102.14" stroke="#2e3f6e" stroke-width="0.6" />
<circle cx="380.3" cy="99.2" r="1.3" fill="#2e3f6e"/>
<circle cx="382.8" cy="99.0" r="0.8" fill="#2e3f6e" opacity="0.7"/>
<line x1="273.40" y1="50.79" x2="273.40" y2="52.97" stroke="#3eae4c" stroke-width="0.7" />
<line x1="272.40" y1="50.79" x2="274.40" y2="50.79" stroke="#3eae4c" stroke-width="0.6" />
<line x1="272.40" y1="52.97" x2="274.40" y2="52.97" stroke="#3eae4c" stroke-width="0.6" />
<circle cx="273.4" cy="51.9" r="1.3" fill="#3eae4c"/>
<circle cx="275.9" cy="52.0" r="0.8" fill="#3eae4c" opacity="0.7"/>
<line x1="283.12" y1="50.28" x2="283.12" y2="55.75" stroke="#3eae4c" stroke-width="0.7" />
<line x1="282.12" y1="50.28" x2="284.12" y2="50.28" stroke="#3eae4c" stroke-width="0.6" />
<line x1="282.12" y1="55.75" x2="284.12" y2="55.75" stroke="#3eae4c" stroke-width="0.6" />
<circle cx="283.1" cy="53.0" r="1.3" fill="#3eae4c"/>
<circle cx="285.6" cy="54.4" r="0.8" fill="#3eae4c" opacity="0.7"/>
<line x1="292.84" y1="53.57" x2="292.84" y2="56.51" stroke="#3eae4c" stroke-width="0.7" />
<line x1="291.84" y1="53.57" x2="293.84" y2="53.57" stroke="#3eae4c" stroke-width="0.6" />
<line x1="291.84" y1="56.51" x2="293.84" y2="56.51" stroke="#3eae4c" stroke-width="0.6" />
<circle cx="292.8" cy="55.0" r="1.3" fill="#3eae4c"/>
<circle cx="295.3" cy="56.3" r="0.8" fill="#3eae4c" opacity="0.7"/>
<line x1="302.56" y1="54.10" x2="302.56" y2="59.57" stroke="#3eae4c" stroke-width="0.7" />
<line x1="301.56" y1="54.10" x2="303.56" y2="54.10" stroke="#3eae4c" stroke-width="0.6" />
<line x1="301.56" y1="59.57" x2="303.56" y2="59.57" stroke="#3eae4c" stroke-width="0.6" />
<circle cx="302.6" cy="56.8" r="1.3" fill="#3eae4c"/>
<circle cx="305.1" cy="56.2" r="0.8" fill="#3eae4c" opacity="0.7"/>
<line x1="312.28" y1="63.92" x2="312.28" y2="66.92" stroke="#3eae4c" stroke-width="0.7" />
<line x1="311.28" y1="63.92" x2="313.28" y2="63.92" stroke="#3eae4c" stroke-width="0.6" />
<line x1="311.28" y1="66.92" x2="313.28" y2="66.92" stroke="#3eae4c" stroke-width="0.6" />
<circle cx="312.3" cy="65.4" r="1.3" fill="#3eae4c"/>
<circle cx="314.8" cy="66.6" r="0.8" fill="#3eae4c" opacity="0.7"/>
<line x1="322.00" y1="72.17" x2="322.00" y2="75.43" stroke="#3eae4c" stroke-width="0.7" />
<line x1="321.00" y1="72.17" x2="323.00" y2="72.17" stroke="#3eae4c" stroke-width="0.6" />
<line x1="321.00" y1="75.43" x2="323.00" y2="75.43" stroke="#3eae4c" stroke-width="0.6" />
<circle cx="322.0" cy="73.8" r="1.3" fill="#3eae4c"/>
<circle cx="324.5" cy="73.5" r="0.8" fill="#3eae4c" opacity="0.7"/>
<line x1="331.72" y1="81.23" x2="331.72" y2="84.80" stroke="#3eae4c" stroke-width="0.7" />
<line x1="330.72" y1="81.23" x2="332.72" y2="81.23" stroke="#3eae4c" stroke-width="0.6" />
<line x1="330.72" y1="84.80" x2="332.72" y2="84.80" stroke="#3eae4c" stroke-width="0.6" />
<circle cx="331.7" cy="83.0" r="1.3" fill="#3eae4c"/>
<circle cx="334.2" cy="84.7" r="0.8" fill="#3eae4c" opacity="0.7"/>
<line x1="341.44" y1="91.56" x2="341.44" y2="93.18" stroke="#3eae4c" stroke-width="0.7" />
<line x1="340.44" y1="91.56" x2="342.44" y2="91.56" stroke="#3eae4c" stroke-width="0.6" />
<line x1="340.44" y1="93.18" x2="342.44" y2="93.18" stroke="#3eae4c" stroke-width="0.6" />
<circle cx="341.4" cy="92.4" r="1.3" fill="#3eae4c"/>
<circle cx="343.9" cy="94.1" r="0.8" fill="#3eae4c" opacity="0.7"/>
<line x1="351.16" y1="91.54" x2="351.16" y2="97.87" stroke="#3eae4c" stroke-width="0.7" />
<line x1="350.16" y1="91.54" x2="352.16" y2="91.54" stroke="#3eae4c" stroke-width="0.6" />
<line x1="350.16" y1="97.87" x2="352.16" y2="97.87" stroke="#3eae4c" stroke-width="0.6" />
<circle cx="351.2" cy="94.7" r="1.3" fill="#3eae4c"/>
<circle cx="353.7" cy="94.4" r="0.8" fill="#3eae4c" opacity="0.7"/>
<line x1="360.88" y1="94.45" x2="360.88" y2="100.51" stroke="#3eae4c" stroke-width="0.7" />
<line x1="359.88" y1="94.45" x2="361.88" y2="94.45" stroke="#3eae4c" stroke-width="0.6" />
<line x1="359.88" y1="100.51" x2="361.88" y2="100.51" stroke="#3eae4c" stroke-width="0.6" />
<circle cx="360.9" cy="97.5" r="1.3" fill="#3eae4c"/>
<circle cx="363.4" cy="96.4" r="0.8" fill="#3eae4c" opacity="0.7"/>
<line x1="370.60" y1="97.13" x2="370.60" y2="102.75" stroke="#3eae4c" stroke-width="0.7" />
<line x1="369.60" y1="97.13" x2="371.60" y2="97.13" stroke="#3eae4c" stroke-width="0.6" />
<line x1="369.60" y1="102.75" x2="371.60" y2="102.75" stroke="#3eae4c" stroke-width="0.6" />
<circle cx="370.6" cy="99.9" r="1.3" fill="#3eae4c"/>
<circle cx="373.1" cy="100.6" r="0.8" fill="#3eae4c" opacity="0.7"/>
<line x1="380.32" y1="100.20" x2="380.32" y2="103.19" stroke="#3eae4c" stroke-width="0.7" />
<line x1="379.32" y1="100.20" x2="381.32" y2="100.20" stroke="#3eae4c" stroke-width="0.6" />
<line x1="379.32" y1="103.19" x2="381.32" y2="103.19" stroke="#3eae4c" stroke-width="0.6" />
<circle cx="380.3" cy="101.7" r="1.3" fill="#3eae4c"/>
<circle cx="382.8" cy="101.1" r="0.8" fill="#3eae4c" opacity="0.7"/>
<line x1="273.40" y1="50.43" x2="273.40" y2="52.36" stroke="#cf6f26" stroke-width="0.7" />
<line x1="272.40" y1="50.43" x2="274.40" y2="50.43" stroke="#cf6f26" stroke-width="0.6" />
<line x1="272.40" y1="52.36" x2="274.40" y2="52.36" stroke="#cf6f26" stroke-width="0.6" />
<circle cx="273.4" cy="51.4" r="1.3" fill="#cf6f26"/>
<circle cx="275.9" cy="51.8" r="0.8" fill="#cf6f26" opacity="0.7"/>
<line x1="283.12" y1="49.00" x2="283.12" y2="54.49" stroke="#cf6f26" stroke-width="0.7" />
<line x1="282.12" y1="49.00" x2="284.12" y2="49.00" stroke="#cf6f26" stroke-width="0.6" />
<line x1="282.12" y1="54.49" x2="284.12" y2="54.49" stroke="#cf6f26" stroke-width="0.6" />
<circle cx="283.1" cy="51.7" r="1.3" fill="#cf6f26"/>
<circle cx="285.6" cy="49.9" r="0.8" fill="#cf6f26" opacity="0.7"/>
<line x1="292.84" y1="48.06" x2="292.84" y2="52.99" stroke="#cf6f26" stroke-width="0.7" />
<line x1="291.84" y1="48.06" x2="293.84" y2="48.06" stroke="#cf6f26" stroke-width="0.6" />
<line x1="291.84" y1="52.99" x2="293.84" y2="52.99" stroke="#cf6f26" stroke-width="0.6" />
<circle cx="292.8" cy="50.5" r="1.3" fill="#cf6f26"/>
<circle cx="295.3" cy="52.2" r="0.8" fill="#cf6f26" opacity="0.7"/>
<line x1="302.56" y1="50.79" x2="302.56" y2="56.71" stroke="#cf6f26" stroke-width="0.7" />
<line x1="301.56" y1="50.79" x2="303.56" y2="50.79" stroke="#cf6f26" stroke-width="0.6" />
<line x1="301.56" y1="56.71" x2="303.56" y2="56.71" stroke="#cf6f26" stroke-width="0.6" />
<circle cx="302.6" cy="53.7" r="1.3" fill="#cf6f26"/>
<circle cx="305.1" cy="54.1" r="0.8" fill="#cf6f26" opacity="0.7"/>
<line x1="312.28" y1="61.27" x2="312.28" y2="66.45" stroke="#cf6f26" stroke-width="0.7" />
<line x1="311.28" y1="61.27" x2="313.28" y2="61.27" stroke="#cf6f26" stroke-width="0.6" />
<line x1="311.28" y1="66.45" x2="313.28" y2="66.45" stroke="#cf6f26" stroke-width="0.6" />
<circle cx="312.3" cy="63.9" r="1.3" fill="#cf6f26"/>
<circle cx="314.8" cy="62.5" r="0.8" fill="#cf6f26" opacity="0.7"/>
<line x1="322.00" y1="70.24" x2="322.00" y2="75.02" stroke="#cf6f26" stroke-width="0.7" />
<line x1="321.00" y1="70.24" x2="323.00" y2="70.24" stroke="#cf6f26" stroke-width="0.6" />
<line x1="321.00" y1="75.02" x2="323.00" y2="75.02" stroke="#cf6f26" stroke-width="0.6" />
<circle cx="322.0" cy="72.6" r="1.3" fill="#cf6f26"/>
<circle cx="324.5" cy="72.7" r="0.8" fill="#cf6f26" opacity="0.7"/>
<line x1="331.72" y1="80.42" x2="331.72" y2="86.52" stroke="#cf6f26" stroke-width="0.7" />
<line x1="330.72" y1="80.42" x2="332.72" y2="80.42" stroke="#cf6f26" stroke-width="0.6" />
<line x1="330.72" y1="86.52" x2="332.72" y2="86.52" stroke="#cf6f26" stroke-width="0.6" />
<circle cx="331.7" cy="83.5" r="1.3" fill="#cf6f26"/>
<circle cx="334.2" cy="83.9" r="0.8" fill="#cf6f26" opacity="0.7"/>
<line x1="341.44" y1="91.24" x2="341.44" y2="94.05" stroke="#cf6f26" stroke-width="0.7" />
<line x1="340.44" y1="91.24" x2="342.44" y2="91.24" stroke="#cf6f26" stroke-width="0.6" />
<line x1="340.44" y1="94.05" x2="342.44" y2="94.05" stroke="#cf6f26" stroke-width="0.6" />
<circle cx="341.4" cy="92.6" r="1.3" fill="#cf6f26"/>
<circle cx="343.9" cy="94.1" r="0.8" fill="#cf6f26" opacity="0.7"/>
<line x1="351.16" y1="94.51" x2="351.16" y2="99.86" stroke="#cf6f26" stroke-width="0.7" />
<line x1="350.16" y1="94.51" x2="352.16" y2="94.51" stroke="#cf6f26" stroke-width="0.6" />
<line x1="350.16" y1="99.86" x2="352.16" y2="99.86" stroke="#cf6f26" stroke-width="0.6" />
<circle cx="351.2" cy="97.2" r="1.3" fill="#cf6f26"/>
<circle cx="353.7" cy="96.6" r="0.8" fill="#cf6f26" opacity="0.7"/>
<line x1="360.88" y1="98.77" x2="360.88" y2="102.94" stroke="#cf6f26" stroke-width="0.7" />
<line x1="359.88" y1="98.77" x2="361.88" y2="98.77" stroke="#cf6f26" stroke-width="0.6" />
<line x1="359.88" y1="102.94" x2="361.88" y2="102.94" stroke="#cf6f26" stroke-width="0.6" />
<circle cx="360.9" cy="100.9" r="1.3" fill="#cf6f26"/>
<circle cx="363.4" cy="102.1" r="0.8" fill="#cf6f26" opacity="0.7"/>
<line x1="370.60" y1="99.34" x2="370.60" y2="104.74" stroke="#cf6f26" stroke-width="0.7" />
<line x1="369.60" y1="99.34" x2="371.60" y2="99.34" stroke="#cf6f26" stroke-width="0.6" />
<line x1="369.60" y1="104.74" x2="371.60" y2="104.74" stroke="#cf6f26" stroke-width="0.6" />
<circle cx="370.6" cy="102.0" r="1.3" fill="#cf6f26"/>
<circle cx="373.1" cy="103.7" r="0.8" fill="#cf6f26" opacity="0.7"/>
<line x1="380.32" y1="96.99" x2="380.32" y2="102.54" stroke="#cf6f26" stroke-width="0.7" />
<line x1="379.32" y1="96.99" x2="381.32" y2="96.99" stroke="#cf6f26" stroke-width="0.6" />
<line x1="379.32" y1="102.54" x2="381.32" y2="102.54" stroke="#cf6f26" stroke-width="0.6" />
<circle cx="380.3" cy="99.8" r="1.3" fill="#cf6f26"/>
<circle cx="382.8" cy="97.8" r="0.8" fill="#cf6f26" opacity="0.7"/>
<line x1="261.00" y1="106.30" x2="270.20" y2="106.30" stroke="#2e3f6e" stroke-width="0.9" />
<circle cx="265.6" cy="106.3" r="1.3" fill="#2e3f6e"/>
<text x="274.7" y="108.4" font-size="5.9" fill="#2e3f6e" font-weight="normal" text-anchor="start" textLength="32.0" lengthAdjust="spacingAndGlyphs" >Compound 8</text>
<line x1="261.00" y1="115.90" x2="270.20" y2="115.90" stroke="#3eae4c" stroke-width="0.9" />
<circle cx="265.6" cy="115.9" r="1.3" fill="#3eae4c"/>
<text x="274.7" y="118.0" font-size="5.9" fill="#3eae4c" font-weight="normal" text-anchor="start" textLength="35.0" lengthAdjust="spacingAndGlyphs" >Compound 21</text>
<line x1="261.00" y1="125.50" x2="270.20" y2="125.50" stroke="#cf6f26" stroke-width="0.9" />
<circle cx="265.6" cy="125.5" r="1.3" fill="#cf6f26"/>
<text x="274.7" y="127.6" font-size="5.9" fill="#cf6f26" font-weight="normal" text-anchor="start" textLength="35.0" lengthAdjust="spacingAndGlyphs" >Compound 25</text>
<line x1="492.60" y1="9.65" x2="492.60" y2="119.40" stroke="#4f6073" stroke-width="1.1" />
<line x1="492.60" y1="119.40" x2="667.60" y2="119.40" stroke="#4f6073" stroke-width="1.1" />
<line x1="489.80" y1="9.65" x2="492.60" y2="9.65" stroke="#4f6073" stroke-width="0.9" />
<text x="487.6" y="12.5" font-size="7.9" fill="#46586b" font-weight="normal" text-anchor="end" >50</text>
<line x1="489.80" y1="27.80" x2="492.60" y2="27.80" stroke="#4f6073" stroke-width="0.9" />
<text x="487.6" y="30.6" font-size="7.9" fill="#46586b" font-weight="normal" text-anchor="end" >40</text>
<line x1="489.80" y1="45.95" x2="492.60" y2="45.95" stroke="#4f6073" stroke-width="0.9" />
<text x="487.6" y="48.8" font-size="7.9" fill="#46586b" font-weight="normal" text-anchor="end" >30</text>
<line x1="489.80" y1="64.10" x2="492.60" y2="64.10" stroke="#4f6073" stroke-width="0.9" />
<text x="487.6" y="66.9" font-size="7.9" fill="#46586b" font-weight="normal" text-anchor="end" >20</text>
<line x1="489.80" y1="82.25" x2="492.60" y2="82.25" stroke="#4f6073" stroke-width="0.9" />
<text x="487.6" y="85.0" font-size="7.9" fill="#46586b" font-weight="normal" text-anchor="end" >10</text>
<line x1="489.80" y1="100.40" x2="492.60" y2="100.40" stroke="#4f6073" stroke-width="0.9" />
<text x="487.6" y="103.2" font-size="7.9" fill="#46586b" font-weight="normal" text-anchor="end" >0</text>
<line x1="489.80" y1="118.55" x2="492.60" y2="118.55" stroke="#4f6073" stroke-width="0.9" />
<text x="487.6" y="121.4" font-size="7.9" fill="#46586b" font-weight="normal" text-anchor="end" >-10</text>
<line x1="491.00" y1="18.73" x2="492.60" y2="18.73" stroke="#4f6073" stroke-width="0.8" />
<line x1="491.00" y1="36.88" x2="492.60" y2="36.88" stroke="#4f6073" stroke-width="0.8" />
<line x1="491.00" y1="55.03" x2="492.60" y2="55.03" stroke="#4f6073" stroke-width="0.8" />
<line x1="491.00" y1="73.18" x2="492.60" y2="73.18" stroke="#4f6073" stroke-width="0.8" />
<line x1="491.00" y1="91.33" x2="492.60" y2="91.33" stroke="#4f6073" stroke-width="0.8" />
<line x1="491.00" y1="109.48" x2="492.60" y2="109.48" stroke="#4f6073" stroke-width="0.8" />
<line x1="522.30" y1="119.40" x2="522.30" y2="122.40" stroke="#4f6073" stroke-width="0.9" />
<text x="522.3" y="133.4" font-size="7.9" fill="#46586b" font-weight="normal" text-anchor="middle" >0</text>
<line x1="577.30" y1="119.40" x2="577.30" y2="122.40" stroke="#4f6073" stroke-width="0.9" />
<text x="577.3" y="133.4" font-size="7.9" fill="#46586b" font-weight="normal" text-anchor="middle" >100</text>
<line x1="632.30" y1="119.40" x2="632.30" y2="122.40" stroke="#4f6073" stroke-width="0.9" />
<text x="632.3" y="133.4" font-size="7.9" fill="#46586b" font-weight="normal" text-anchor="middle" >200</text>
<line x1="494.80" y1="119.40" x2="494.80" y2="121.40" stroke="#4f6073" stroke-width="0.8" />
<line x1="549.80" y1="119.40" x2="549.80" y2="121.40" stroke="#4f6073" stroke-width="0.8" />
<line x1="604.80" y1="119.40" x2="604.80" y2="121.40" stroke="#4f6073" stroke-width="0.8" />
<line x1="659.80" y1="119.40" x2="659.80" y2="121.40" stroke="#4f6073" stroke-width="0.8" />
<text transform="translate(467.1,68.0) rotate(-90)" x="0" y="2.4" font-size="7.0" fill="#2a2a2a" font-weight="normal" text-anchor="middle" textLength="70.5" lengthAdjust="spacingAndGlyphs">Relative response (RU)</text>
<text x="568.9" y="142.9" font-size="7.2" fill="#111" font-weight="normal" text-anchor="start" textLength="24.4" lengthAdjust="spacingAndGlyphs" stroke="#111" stroke-width="0.15">Time (s)</text>
<path d="M500.30,98.95 L501.12,99.00 L501.95,99.06 L502.77,99.11 L503.60,99.17 L504.42,99.22 L505.25,99.27 L506.07,99.33 L506.90,99.38 L507.72,99.44 L508.55,99.49 L509.37,99.55 L510.20,99.60 L511.02,99.66 L511.85,99.71 L512.67,99.76 L513.50,99.82 L514.32,99.87 L515.15,99.93 L515.97,99.98 L516.80,100.04 L517.62,100.09 L518.45,100.15 L519.27,100.20 L520.10,100.25 L520.92,100.31 L521.75,100.36 L522.57,46.85 L522.71,38.74 L522.85,34.92 L522.99,33.13 L523.12,32.29 L523.26,31.90 L523.40,31.72 L523.54,31.65 L523.67,31.62 L523.81,31.61 L523.95,31.62 L524.77,31.70 L525.60,31.79 L526.42,31.88 L527.25,31.97 L528.07,32.07 L528.90,32.16 L529.72,32.25 L530.55,32.34 L531.38,32.43 L532.20,32.52 L533.02,32.61 L533.85,32.70 L534.67,32.79 L535.50,32.88 L536.32,32.97 L537.15,33.06 L537.97,33.15 L538.80,33.25 L539.62,33.34 L540.45,33.43 L541.27,33.52 L542.10,33.61 L542.92,33.70 L543.75,33.79 L544.57,33.88 L545.40,33.97 L546.22,34.06 L547.05,34.15 L547.88,34.24 L548.70,34.33 L549.52,34.42 L550.35,34.52 L551.17,34.61 L552.00,34.70 L552.82,34.79 L553.65,34.88 L554.47,34.97 L555.30,35.06 L555.44,36.43 L555.57,37.78 L555.71,39.10 L555.85,40.38 L555.99,41.65 L556.12,42.88 L556.26,44.09 L556.40,45.27 L556.54,46.43 L556.67,47.57 L556.81,48.68 L556.95,49.77 L557.09,50.83 L557.22,51.87 L557.36,52.89 L557.50,53.89 L558.32,59.46 L559.15,64.36 L559.97,68.68 L560.80,72.47 L561.62,75.82 L562.45,78.76 L563.27,81.35 L564.10,83.63 L564.92,85.64 L565.75,87.40 L566.57,88.96 L567.40,90.33 L568.22,91.54 L569.05,92.60 L569.88,93.76 L570.70,94.81 L571.52,95.76 L572.35,96.62 L573.17,97.40 L574.00,98.11 L574.82,98.76 L575.65,99.36 L576.47,99.91 L577.30,100.41 L578.12,100.88 L578.95,101.32 L579.77,101.72 L580.60,102.10 L581.42,102.46 L582.25,102.79 L583.07,103.11 L583.90,103.41 L584.72,103.70 L585.55,103.97 L586.38,104.23 L587.20,104.48 L588.02,104.72 L588.85,104.95 L589.67,105.18 L590.50,105.39 L591.32,105.60 L592.15,105.81 L592.97,106.01 L593.80,106.20 L594.62,106.39 L595.45,106.58 L596.27,106.76 L597.10,106.94 L597.92,107.12 L598.75,107.29 L599.57,107.46 L600.40,107.63 L601.22,107.79 L602.05,107.95 L602.88,108.11 L603.70,108.27 L604.52,108.42 L605.35,108.58 L606.17,108.73 L607.00,108.88 L607.82,109.02 L608.65,109.17 L609.47,109.31 L610.30,109.46 L611.12,109.60 L611.95,109.74 L612.77,109.87 L613.60,110.01 L614.42,110.14 L615.25,110.28 L616.07,110.41 L616.90,110.54 L617.72,110.67 L618.55,110.80 L619.38,110.92 L620.20,111.05 L621.02,111.17 L621.85,111.29 L622.67,111.42 L623.50,111.54 L624.32,111.65 L625.15,111.77 L625.97,111.89 L626.80,112.00 L627.62,112.12 L628.45,112.23 L629.27,112.34 L630.10,112.45 L630.92,112.56 L631.75,112.67 L632.57,112.78 L633.40,112.88 L634.22,112.99 L635.05,113.09 L635.88,113.20 L636.70,113.30 L637.52,113.40 L638.35,113.50 L639.17,113.60 L640.00,113.70 L640.82,113.79 L641.65,113.89 L642.47,113.98 L643.30,114.08 L644.12,114.17 L644.95,114.26 L645.77,114.36 L646.60,114.45 L647.42,114.54 L648.25,114.62 L649.07,114.71 L649.90,114.80 L650.72,114.89 L651.55,114.97 L652.38,115.06 L653.20,115.14 L654.02,115.22 L654.85,115.30 L655.67,115.38 L656.50,115.46 L657.32,115.54 L658.15,115.62 L658.97,115.70 L659.80,115.78" stroke="#3a6fd8" stroke-width="0.85" fill="none" stroke-linejoin="round" />
<path d="M500.30,98.95 L501.12,99.00 L501.95,99.06 L502.77,99.11 L503.60,99.17 L504.42,99.22 L505.25,99.27 L506.07,99.33 L506.90,99.38 L507.72,99.44 L508.55,99.49 L509.37,99.55 L510.20,99.60 L511.02,99.66 L511.85,99.71 L512.67,99.76 L513.50,99.82 L514.32,99.87 L515.15,99.93 L515.97,99.98 L516.80,100.04 L517.62,100.09 L518.45,100.15 L519.27,100.20 L520.10,100.25 L520.92,100.31 L521.75,100.36 L522.57,82.19 L522.71,75.22 L522.85,69.36 L522.99,64.45 L523.12,60.33 L523.26,56.87 L523.40,53.97 L523.54,51.53 L523.67,49.49 L523.81,47.78 L523.95,46.34 L524.77,41.47 L525.60,39.80 L526.42,39.24 L527.25,39.08 L528.07,39.05 L528.90,39.07 L529.72,39.10 L530.55,39.15 L531.38,39.19 L532.20,39.23 L533.02,39.28 L533.85,39.33 L534.67,39.37 L535.50,39.42 L536.32,39.46 L537.15,39.51 L537.97,39.55 L538.80,39.60 L539.62,39.64 L540.45,39.69 L541.27,39.73 L542.10,39.78 L542.92,39.82 L543.75,39.87 L544.57,39.92 L545.40,39.96 L546.22,40.01 L547.05,40.05 L547.88,40.10 L548.70,40.14 L549.52,40.19 L550.35,40.23 L551.17,40.28 L552.00,40.32 L552.82,40.37 L553.65,40.41 L554.47,40.46 L555.30,40.51 L555.44,41.76 L555.57,43.00 L555.71,44.20 L555.85,45.39 L555.99,46.54 L556.12,47.67 L556.26,48.78 L556.40,49.87 L556.54,50.93 L556.67,51.97 L556.81,52.99 L556.95,53.99 L557.09,54.96 L557.22,55.92 L557.36,56.85 L557.50,57.77 L558.32,62.87 L559.15,67.36 L559.97,71.32 L560.80,74.80 L561.62,77.86 L562.45,80.56 L563.27,82.94 L564.10,85.03 L564.92,86.87 L565.75,88.49 L566.57,89.91 L567.40,91.17 L568.22,92.27 L569.05,93.25 L569.88,94.25 L570.70,95.14 L571.52,95.95 L572.35,96.67 L573.17,97.33 L574.00,97.92 L574.82,98.45 L575.65,98.94 L576.47,99.38 L577.30,99.78 L578.12,100.15 L578.95,100.49 L579.77,100.81 L580.60,101.10 L581.42,101.37 L582.25,101.62 L583.07,101.85 L583.90,102.07 L584.72,102.28 L585.55,102.47 L586.38,102.66 L587.20,102.83 L588.02,103.00 L588.85,103.16 L589.67,103.32 L590.50,103.46 L591.32,103.61 L592.15,103.74 L592.97,103.88 L593.80,104.01 L594.62,104.13 L595.45,104.26 L596.27,104.37 L597.10,104.49 L597.92,104.61 L598.75,104.72 L599.57,104.83 L600.40,104.93 L601.22,105.04 L602.05,105.14 L602.88,105.25 L603.70,105.35 L604.52,105.44 L605.35,105.54 L606.17,105.64 L607.00,105.73 L607.82,105.83 L608.65,105.92 L609.47,106.01 L610.30,106.10 L611.12,106.19 L611.95,106.28 L612.77,106.37 L613.60,106.45 L614.42,106.54 L615.25,106.62 L616.07,106.70 L616.90,106.79 L617.72,106.87 L618.55,106.95 L619.38,107.03 L620.20,107.11 L621.02,107.18 L621.85,107.26 L622.67,107.34 L623.50,107.41 L624.32,107.49 L625.15,107.56 L625.97,107.64 L626.80,107.71 L627.62,107.78 L628.45,107.85 L629.27,107.92 L630.10,107.99 L630.92,108.06 L631.75,108.13 L632.57,108.20 L633.40,108.26 L634.22,108.33 L635.05,108.40 L635.88,108.46 L636.70,108.52 L637.52,108.59 L638.35,108.65 L639.17,108.71 L640.00,108.78 L640.82,108.84 L641.65,108.90 L642.47,108.96 L643.30,109.02 L644.12,109.08 L644.95,109.13 L645.77,109.19 L646.60,109.25 L647.42,109.30 L648.25,109.36 L649.07,109.42 L649.90,109.47 L650.72,109.52 L651.55,109.58 L652.38,109.63 L653.20,109.68 L654.02,109.74 L654.85,109.79 L655.67,109.84 L656.50,109.89 L657.32,109.94 L658.15,109.99 L658.97,110.04 L659.80,110.09" stroke="#e02020" stroke-width="0.85" fill="none" stroke-linejoin="round" />
<path d="M500.30,98.95 L501.12,99.00 L501.95,99.06 L502.77,99.11 L503.60,99.17 L504.42,99.22 L505.25,99.27 L506.07,99.33 L506.90,99.38 L507.72,99.44 L508.55,99.49 L509.37,99.55 L510.20,99.60 L511.02,99.66 L511.85,99.71 L512.67,99.76 L513.50,99.82 L514.32,99.87 L515.15,99.93 L515.97,99.98 L516.80,100.04 L517.62,100.09 L518.45,100.15 L519.27,100.20 L520.10,100.25 L520.92,100.31 L521.75,100.36 L522.57,95.49 L522.71,93.21 L522.85,91.04 L522.99,88.98 L523.12,87.02 L523.26,85.15 L523.40,83.38 L523.54,81.69 L523.67,80.08 L523.81,78.56 L523.95,77.11 L524.77,69.77 L525.60,64.34 L526.42,60.33 L527.25,57.36 L528.07,55.17 L528.90,53.55 L529.72,52.35 L530.55,51.47 L531.38,50.83 L532.20,50.36 L533.02,50.01 L533.85,49.77 L534.67,49.59 L535.50,49.46 L536.32,49.37 L537.15,49.31 L537.97,49.28 L538.80,49.25 L539.62,49.24 L540.45,49.24 L541.27,49.25 L542.10,49.26 L542.92,49.27 L543.75,49.28 L544.57,49.30 L545.40,49.32 L546.22,49.34 L547.05,49.36 L547.88,49.38 L548.70,49.40 L549.52,49.42 L550.35,49.45 L551.17,49.47 L552.00,49.49 L552.82,49.51 L553.65,49.54 L554.47,49.56 L555.30,49.58 L555.44,50.65 L555.57,51.69 L555.71,52.72 L555.85,53.72 L555.99,54.70 L556.12,55.66 L556.26,56.60 L556.40,57.53 L556.54,58.43 L556.67,59.31 L556.81,60.17 L556.95,61.02 L557.09,61.85 L557.22,62.66 L557.36,63.45 L557.50,64.23 L558.32,68.56 L559.15,72.37 L559.97,75.73 L560.80,78.68 L561.62,81.28 L562.45,83.57 L563.27,85.58 L564.10,87.36 L564.92,88.92 L565.75,90.29 L566.57,91.50 L567.40,92.57 L568.22,93.51 L569.05,94.33 L569.88,95.15 L570.70,95.88 L571.52,96.53 L572.35,97.11 L573.17,97.63 L574.00,98.10 L574.82,98.53 L575.65,98.91 L576.47,99.25 L577.30,99.57 L578.12,99.85 L578.95,100.11 L579.77,100.35 L580.60,100.57 L581.42,100.77 L582.25,100.95 L583.07,101.12 L583.90,101.28 L584.72,101.43 L585.55,101.57 L586.38,101.70 L587.20,101.82 L588.02,101.94 L588.85,102.05 L589.67,102.16 L590.50,102.26 L591.32,102.35 L592.15,102.45 L592.97,102.53 L593.80,102.62 L594.62,102.70 L595.45,102.78 L596.27,102.86 L597.10,102.94 L597.92,103.01 L598.75,103.08 L599.57,103.15 L600.40,103.22 L601.22,103.29 L602.05,103.35 L602.88,103.42 L603.70,103.48 L604.52,103.55 L605.35,103.61 L606.17,103.67 L607.00,103.73 L607.82,103.79 L608.65,103.85 L609.47,103.90 L610.30,103.96 L611.12,104.02 L611.95,104.07 L612.77,104.13 L613.60,104.18 L614.42,104.23 L615.25,104.29 L616.07,104.34 L616.90,104.39 L617.72,104.44 L618.55,104.49 L619.38,104.54 L620.20,104.59 L621.02,104.64 L621.85,104.69 L622.67,104.74 L623.50,104.78 L624.32,104.83 L625.15,104.88 L625.97,104.92 L626.80,104.97 L627.62,105.01 L628.45,105.06 L629.27,105.10 L630.10,105.14 L630.92,105.19 L631.75,105.23 L632.57,105.27 L633.40,105.31 L634.22,105.36 L635.05,105.40 L635.88,105.44 L636.70,105.48 L637.52,105.52 L638.35,105.56 L639.17,105.60 L640.00,105.63 L640.82,105.67 L641.65,105.71 L642.47,105.75 L643.30,105.79 L644.12,105.82 L644.95,105.86 L645.77,105.89 L646.60,105.93 L647.42,105.97 L648.25,106.00 L649.07,106.03 L649.90,106.07 L650.72,106.10 L651.55,106.14 L652.38,106.17 L653.20,106.20 L654.02,106.24 L654.85,106.27 L655.67,106.30 L656.50,106.33 L657.32,106.36 L658.15,106.39 L658.97,106.42 L659.80,106.45" stroke="#d8d020" stroke-width="0.85" fill="none" stroke-linejoin="round" />
<path d="M500.30,98.95 L501.12,99.00 L501.95,99.06 L502.77,99.11 L503.60,99.17 L504.42,99.22 L505.25,99.27 L506.07,99.33 L506.90,99.38 L507.72,99.44 L508.55,99.49 L509.37,99.55 L510.20,99.60 L511.02,99.66 L511.85,99.71 L512.67,99.76 L513.50,99.82 L514.32,99.87 L515.15,99.93 L515.97,99.98 L516.80,100.04 L517.62,100.09 L518.45,100.15 L519.27,100.20 L520.10,100.25 L520.92,100.31 L521.75,100.36 L522.57,99.09 L522.71,98.45 L522.85,97.82 L522.99,97.21 L523.12,96.60 L523.26,96.01 L523.40,95.42 L523.54,94.85 L523.67,94.28 L523.81,93.73 L523.95,93.18 L524.77,90.10 L525.60,87.33 L526.42,84.83 L527.25,82.58 L528.07,80.56 L528.90,78.74 L529.72,77.10 L530.55,75.62 L531.38,74.29 L532.20,73.10 L533.02,72.02 L533.85,71.05 L534.67,70.18 L535.50,69.39 L536.32,68.68 L537.15,68.04 L537.97,67.47 L538.80,66.95 L539.62,66.49 L540.45,66.07 L541.27,65.69 L542.10,65.35 L542.92,65.05 L543.75,64.77 L544.57,64.52 L545.40,64.30 L546.22,64.10 L547.05,63.92 L547.88,63.76 L548.70,63.61 L549.52,63.48 L550.35,63.36 L551.17,63.25 L552.00,63.15 L552.82,63.07 L553.65,62.99 L554.47,62.92 L555.30,62.86 L555.44,63.65 L555.57,64.42 L555.71,65.18 L555.85,65.92 L555.99,66.64 L556.12,67.35 L556.26,68.05 L556.40,68.73 L556.54,69.39 L556.67,70.04 L556.81,70.68 L556.95,71.31 L557.09,71.92 L557.22,72.52 L557.36,73.10 L557.50,73.68 L558.32,76.88 L559.15,79.69 L559.97,82.17 L560.80,84.35 L561.62,86.27 L562.45,87.97 L563.27,89.45 L564.10,90.76 L564.92,91.92 L565.75,92.93 L566.57,93.83 L567.40,94.61 L568.22,95.31 L569.05,95.92 L569.88,96.53 L570.70,97.07 L571.52,97.56 L572.35,97.99 L573.17,98.38 L574.00,98.74 L574.82,99.05 L575.65,99.34 L576.47,99.60 L577.30,99.84 L578.12,100.05 L578.95,100.25 L579.77,100.43 L580.60,100.60 L581.42,100.75 L582.25,100.89 L583.07,101.02 L583.90,101.14 L584.72,101.26 L585.55,101.37 L586.38,101.47 L587.20,101.56 L588.02,101.65 L588.85,101.74 L589.67,101.82 L590.50,101.90 L591.32,101.97 L592.15,102.05 L592.97,102.12 L593.80,102.18 L594.62,102.25 L595.45,102.31 L596.27,102.37 L597.10,102.43 L597.92,102.49 L598.75,102.55 L599.57,102.61 L600.40,102.66 L601.22,102.71 L602.05,102.77 L602.88,102.82 L603.70,102.87 L604.52,102.92 L605.35,102.97 L606.17,103.02 L607.00,103.06 L607.82,103.11 L608.65,103.16 L609.47,103.20 L610.30,103.25 L611.12,103.29 L611.95,103.34 L612.77,103.38 L613.60,103.42 L614.42,103.47 L615.25,103.51 L616.07,103.55 L616.90,103.59 L617.72,103.63 L618.55,103.67 L619.38,103.71 L620.20,103.75 L621.02,103.79 L621.85,103.83 L622.67,103.87 L623.50,103.91 L624.32,103.94 L625.15,103.98 L625.97,104.02 L626.80,104.05 L627.62,104.09 L628.45,104.13 L629.27,104.16 L630.10,104.20 L630.92,104.23 L631.75,104.26 L632.57,104.30 L633.40,104.33 L634.22,104.36 L635.05,104.40 L635.88,104.43 L636.70,104.46 L637.52,104.49 L638.35,104.53 L639.17,104.56 L640.00,104.59 L640.82,104.62 L641.65,104.65 L642.47,104.68 L643.30,104.71 L644.12,104.74 L644.95,104.77 L645.77,104.80 L646.60,104.82 L647.42,104.85 L648.25,104.88 L649.07,104.91 L649.90,104.94 L650.72,104.96 L651.55,104.99 L652.38,105.02 L653.20,105.04 L654.02,105.07 L654.85,105.09 L655.67,105.12 L656.50,105.14 L657.32,105.17 L658.15,105.19 L658.97,105.22 L659.80,105.24" stroke="#d040c0" stroke-width="0.85" fill="none" stroke-linejoin="round" />
<path d="M500.30,98.95 L501.12,99.00 L501.95,99.06 L502.77,99.11 L503.60,99.17 L504.42,99.22 L505.25,99.27 L506.07,99.33 L506.90,99.38 L507.72,99.44 L508.55,99.49 L509.37,99.55 L510.20,99.60 L511.02,99.66 L511.85,99.71 L512.67,99.76 L513.50,99.82 L514.32,99.87 L515.15,99.93 L515.97,99.98 L516.80,100.04 L517.62,100.09 L518.45,100.15 L519.27,100.20 L520.10,100.25 L520.92,100.31 L521.75,100.36 L522.57,99.86 L522.71,99.60 L522.85,99.34 L522.99,99.08 L523.12,98.83 L523.26,98.58 L523.40,98.33 L523.54,98.08 L523.67,97.84 L523.81,97.60 L523.95,97.37 L524.77,96.01 L525.60,94.76 L526.42,93.59 L527.25,92.51 L528.07,91.50 L528.90,90.57 L529.72,89.71 L530.55,88.91 L531.38,88.16 L532.20,87.48 L533.02,86.84 L533.85,86.24 L534.67,85.69 L535.50,85.18 L536.32,84.71 L537.15,84.27 L537.97,83.86 L538.80,83.48 L539.62,83.13 L540.45,82.80 L541.27,82.50 L542.10,82.22 L542.92,81.96 L543.75,81.72 L544.57,81.49 L545.40,81.29 L546.22,81.09 L547.05,80.92 L547.88,80.75 L548.70,80.60 L549.52,80.45 L550.35,80.32 L551.17,80.20 L552.00,80.08 L552.82,79.98 L553.65,79.88 L554.47,79.79 L555.30,79.70 L555.44,80.14 L555.57,80.57 L555.71,80.98 L555.85,81.39 L555.99,81.79 L556.12,82.18 L556.26,82.56 L556.40,82.94 L556.54,83.31 L556.67,83.67 L556.81,84.02 L556.95,84.36 L557.09,84.70 L557.22,85.03 L557.36,85.35 L557.50,85.67 L558.32,87.43 L559.15,88.99 L559.97,90.35 L560.80,91.55 L561.62,92.61 L562.45,93.55 L563.27,94.37 L564.10,95.09 L564.92,95.72 L565.75,96.28 L566.57,96.78 L567.40,97.21 L568.22,97.59 L569.05,97.93 L569.88,98.29 L570.70,98.61 L571.52,98.90 L572.35,99.16 L573.17,99.40 L574.00,99.62 L574.82,99.82 L575.65,100.00 L576.47,100.16 L577.30,100.31 L578.12,100.45 L578.95,100.58 L579.77,100.70 L580.60,100.82 L581.42,100.92 L582.25,101.02 L583.07,101.11 L583.90,101.20 L584.72,101.28 L585.55,101.36 L586.38,101.43 L587.20,101.50 L588.02,101.57 L588.85,101.64 L589.67,101.70 L590.50,101.76 L591.32,101.82 L592.15,101.88 L592.97,101.94 L593.80,101.99 L594.62,102.05 L595.45,102.10 L596.27,102.15 L597.10,102.20 L597.92,102.25 L598.75,102.30 L599.57,102.34 L600.40,102.39 L601.22,102.43 L602.05,102.48 L602.88,102.52 L603.70,102.57 L604.52,102.61 L605.35,102.65 L606.17,102.69 L607.00,102.74 L607.82,102.78 L608.65,102.82 L609.47,102.86 L610.30,102.90 L611.12,102.93 L611.95,102.97 L612.77,103.01 L613.60,103.05 L614.42,103.09 L615.25,103.12 L616.07,103.16 L616.90,103.19 L617.72,103.23 L618.55,103.26 L619.38,103.30 L620.20,103.33 L621.02,103.37 L621.85,103.40 L622.67,103.44 L623.50,103.47 L624.32,103.50 L625.15,103.53 L625.97,103.57 L626.80,103.60 L627.62,103.63 L628.45,103.66 L629.27,103.69 L630.10,103.72 L630.92,103.75 L631.75,103.78 L632.57,103.81 L633.40,103.84 L634.22,103.87 L635.05,103.90 L635.88,103.93 L636.70,103.95 L637.52,103.98 L638.35,104.01 L639.17,104.04 L640.00,104.06 L640.82,104.09 L641.65,104.12 L642.47,104.14 L643.30,104.17 L644.12,104.20 L644.95,104.22 L645.77,104.25 L646.60,104.27 L647.42,104.30 L648.25,104.32 L649.07,104.34 L649.90,104.37 L650.72,104.39 L651.55,104.42 L652.38,104.44 L653.20,104.46 L654.02,104.48 L654.85,104.51 L655.67,104.53 L656.50,104.55 L657.32,104.57 L658.15,104.60 L658.97,104.62 L659.80,104.64" stroke="#d8d020" stroke-width="0.85" fill="none" stroke-linejoin="round" />
<path d="M500.30,98.95 L501.12,99.00 L501.95,99.06 L502.77,99.11 L503.60,99.17 L504.42,99.22 L505.25,99.27 L506.07,99.33 L506.90,99.38 L507.72,99.44 L508.55,99.49 L509.37,99.55 L510.20,99.60 L511.02,99.66 L511.85,99.71 L512.67,99.76 L513.50,99.82 L514.32,99.87 L515.15,99.93 L515.97,99.98 L516.80,100.04 L517.62,100.09 L518.45,100.15 L519.27,100.20 L520.10,100.25 L520.92,100.31 L521.75,100.36 L522.57,100.18 L522.71,100.07 L522.85,99.96 L522.99,99.85 L523.12,99.75 L523.26,99.64 L523.40,99.54 L523.54,99.44 L523.67,99.34 L523.81,99.24 L523.95,99.14 L524.77,98.57 L525.60,98.04 L526.42,97.54 L527.25,97.08 L528.07,96.64 L528.90,96.23 L529.72,95.86 L530.55,95.50 L531.38,95.17 L532.20,94.86 L533.02,94.57 L533.85,94.30 L534.67,94.04 L535.50,93.81 L536.32,93.59 L537.15,93.38 L537.97,93.19 L538.80,93.01 L539.62,92.84 L540.45,92.68 L541.27,92.53 L542.10,92.39 L542.92,92.26 L543.75,92.14 L544.57,92.03 L545.40,91.93 L546.22,91.83 L547.05,91.74 L547.88,91.65 L548.70,91.57 L549.52,91.49 L550.35,91.42 L551.17,91.36 L552.00,91.30 L552.82,91.24 L553.65,91.19 L554.47,91.14 L555.30,91.09 L555.44,91.28 L555.57,91.48 L555.71,91.66 L555.85,91.85 L555.99,92.03 L556.12,92.20 L556.26,92.38 L556.40,92.54 L556.54,92.71 L556.67,92.87 L556.81,93.03 L556.95,93.18 L557.09,93.34 L557.22,93.48 L557.36,93.63 L557.50,93.77 L558.32,94.57 L559.15,95.26 L559.97,95.88 L560.80,96.42 L561.62,96.90 L562.45,97.32 L563.27,97.69 L564.10,98.01 L564.92,98.30 L565.75,98.55 L566.57,98.77 L567.40,98.96 L568.22,99.14 L569.05,99.29 L569.88,99.47 L570.70,99.63 L571.52,99.78 L572.35,99.91 L573.17,100.03 L574.00,100.15 L574.82,100.25 L575.65,100.35 L576.47,100.44 L577.30,100.52 L578.12,100.60 L578.95,100.67 L579.77,100.74 L580.60,100.81 L581.42,100.87 L582.25,100.93 L583.07,100.98 L583.90,101.04 L584.72,101.09 L585.55,101.14 L586.38,101.18 L587.20,101.23 L588.02,101.27 L588.85,101.32 L589.67,101.36 L590.50,101.40 L591.32,101.44 L592.15,101.48 L592.97,101.51 L593.80,101.55 L594.62,101.59 L595.45,101.62 L596.27,101.66 L597.10,101.69 L597.92,101.73 L598.75,101.76 L599.57,101.79 L600.40,101.83 L601.22,101.86 L602.05,101.89 L602.88,101.92 L603.70,101.95 L604.52,101.98 L605.35,102.01 L606.17,102.04 L607.00,102.07 L607.82,102.10 L608.65,102.13 L609.47,102.16 L610.30,102.18 L611.12,102.21 L611.95,102.24 L612.77,102.27 L613.60,102.29 L614.42,102.32 L615.25,102.34 L616.07,102.37 L616.90,102.40 L617.72,102.42 L618.55,102.45 L619.38,102.47 L620.20,102.50 L621.02,102.52 L621.85,102.54 L622.67,102.57 L623.50,102.59 L624.32,102.62 L625.15,102.64 L625.97,102.66 L626.80,102.68 L627.62,102.71 L628.45,102.73 L629.27,102.75 L630.10,102.77 L630.92,102.79 L631.75,102.82 L632.57,102.84 L633.40,102.86 L634.22,102.88 L635.05,102.90 L635.88,102.92 L636.70,102.94 L637.52,102.96 L638.35,102.98 L639.17,103.00 L640.00,103.02 L640.82,103.04 L641.65,103.06 L642.47,103.07 L643.30,103.09 L644.12,103.11 L644.95,103.13 L645.77,103.15 L646.60,103.17 L647.42,103.18 L648.25,103.20 L649.07,103.22 L649.90,103.23 L650.72,103.25 L651.55,103.27 L652.38,103.28 L653.20,103.30 L654.02,103.32 L654.85,103.33 L655.67,103.35 L656.50,103.37 L657.32,103.38 L658.15,103.40 L658.97,103.41 L659.80,103.43" stroke="#d040c0" stroke-width="0.85" fill="none" stroke-linejoin="round" />
<path d="M500.30,98.95 L501.12,99.00 L501.95,99.06 L502.77,99.11 L503.60,99.17 L504.42,99.22 L505.25,99.27 L506.07,99.33 L506.90,99.38 L507.72,99.44 L508.55,99.49 L509.37,99.55 L510.20,99.60 L511.02,99.66 L511.85,99.71 L512.67,99.76 L513.50,99.82 L514.32,99.87 L515.15,99.93 L515.97,99.98 L516.80,100.04 L517.62,100.09 L518.45,100.15 L519.27,100.20 L520.10,100.25 L520.92,100.31 L521.75,100.36 L522.57,100.33 L522.71,100.29 L522.85,100.26 L522.99,100.22 L523.12,100.19 L523.26,100.15 L523.40,100.12 L523.54,100.09 L523.67,100.05 L523.81,100.02 L523.95,99.99 L524.77,99.80 L525.60,99.63 L526.42,99.46 L527.25,99.30 L528.07,99.16 L528.90,99.02 L529.72,98.89 L530.55,98.76 L531.38,98.65 L532.20,98.54 L533.02,98.43 L533.85,98.34 L534.67,98.25 L535.50,98.16 L536.32,98.08 L537.15,98.00 L537.97,97.93 L538.80,97.86 L539.62,97.80 L540.45,97.74 L541.27,97.68 L542.10,97.63 L542.92,97.58 L543.75,97.53 L544.57,97.49 L545.40,97.45 L546.22,97.41 L547.05,97.37 L547.88,97.34 L548.70,97.30 L549.52,97.27 L550.35,97.24 L551.17,97.21 L552.00,97.19 L552.82,97.16 L553.65,97.14 L554.47,97.12 L555.30,97.10 L555.44,97.17 L555.57,97.24 L555.71,97.30 L555.85,97.37 L555.99,97.43 L556.12,97.49 L556.26,97.56 L556.40,97.62 L556.54,97.67 L556.67,97.73 L556.81,97.79 L556.95,97.84 L557.09,97.90 L557.22,97.95 L557.36,98.00 L557.50,98.05 L558.32,98.33 L559.15,98.58 L559.97,98.80 L560.80,98.99 L561.62,99.16 L562.45,99.31 L563.27,99.44 L564.10,99.55 L564.92,99.65 L565.75,99.74 L566.57,99.82 L567.40,99.89 L568.22,99.95 L569.05,100.01 L569.88,100.09 L570.70,100.17 L571.52,100.24 L572.35,100.31 L573.17,100.37 L574.00,100.43 L574.82,100.48 L575.65,100.54 L576.47,100.59 L577.30,100.64 L578.12,100.68 L578.95,100.73 L579.77,100.77 L580.60,100.81 L581.42,100.85 L582.25,100.89 L583.07,100.92 L583.90,100.96 L584.72,100.99 L585.55,101.03 L586.38,101.06 L587.20,101.09 L588.02,101.12 L588.85,101.16 L589.67,101.19 L590.50,101.22 L591.32,101.25 L592.15,101.28 L592.97,101.30 L593.80,101.33 L594.62,101.36 L595.45,101.39 L596.27,101.41 L597.10,101.44 L597.92,101.47 L598.75,101.49 L599.57,101.52 L600.40,101.54 L601.22,101.57 L602.05,101.59 L602.88,101.62 L603.70,101.64 L604.52,101.67 L605.35,101.69 L606.17,101.71 L607.00,101.74 L607.82,101.76 L608.65,101.78 L609.47,101.81 L610.30,101.83 L611.12,101.85 L611.95,101.87 L612.77,101.89 L613.60,101.91 L614.42,101.94 L615.25,101.96 L616.07,101.98 L616.90,102.00 L617.72,102.02 L618.55,102.04 L619.38,102.06 L620.20,102.08 L621.02,102.10 L621.85,102.12 L622.67,102.13 L623.50,102.15 L624.32,102.17 L625.15,102.19 L625.97,102.21 L626.80,102.23 L627.62,102.25 L628.45,102.26 L629.27,102.28 L630.10,102.30 L630.92,102.32 L631.75,102.33 L632.57,102.35 L633.40,102.37 L634.22,102.38 L635.05,102.40 L635.88,102.42 L636.70,102.43 L637.52,102.45 L638.35,102.46 L639.17,102.48 L640.00,102.49 L640.82,102.51 L641.65,102.52 L642.47,102.54 L643.30,102.55 L644.12,102.57 L644.95,102.58 L645.77,102.60 L646.60,102.61 L647.42,102.63 L648.25,102.64 L649.07,102.65 L649.90,102.67 L650.72,102.68 L651.55,102.69 L652.38,102.71 L653.20,102.72 L654.02,102.73 L654.85,102.75 L655.67,102.76 L656.50,102.77 L657.32,102.78 L658.15,102.80 L658.97,102.81 L659.80,102.82" stroke="#30b030" stroke-width="0.85" fill="none" stroke-linejoin="round" />
<path d="M500.30,98.95 L501.12,99.00 L501.95,99.06 L502.77,99.11 L503.60,99.17 L504.42,99.22 L505.25,99.27 L506.07,99.33 L506.90,99.38 L507.72,99.44 L508.55,99.49 L509.37,99.55 L510.20,99.60 L511.02,99.66 L511.85,99.71 L512.67,99.76 L513.50,99.82 L514.32,99.87 L515.15,99.93 L515.97,99.98 L516.80,100.04 L517.62,100.09 L518.45,100.15 L519.27,100.20 L520.10,100.25 L520.92,100.31 L521.75,100.36 L522.57,100.37 L522.71,100.36 L522.85,100.34 L522.99,100.33 L523.12,100.32 L523.26,100.30 L523.40,100.29 L523.54,100.28 L523.67,100.26 L523.81,100.25 L523.95,100.24 L524.77,100.16 L525.60,100.09 L526.42,100.02 L527.25,99.96 L528.07,99.90 L528.90,99.85 L529.72,99.79 L530.55,99.74 L531.38,99.70 L532.20,99.65 L533.02,99.61 L533.85,99.57 L534.67,99.54 L535.50,99.50 L536.32,99.47 L537.15,99.44 L537.97,99.41 L538.80,99.39 L539.62,99.36 L540.45,99.34 L541.27,99.31 L542.10,99.29 L542.92,99.27 L543.75,99.25 L544.57,99.24 L545.40,99.22 L546.22,99.20 L547.05,99.19 L547.88,99.17 L548.70,99.16 L549.52,99.15 L550.35,99.14 L551.17,99.13 L552.00,99.12 L552.82,99.11 L553.65,99.10 L554.47,99.09 L555.30,99.08 L555.44,99.11 L555.57,99.13 L555.71,99.16 L555.85,99.19 L555.99,99.21 L556.12,99.24 L556.26,99.26 L556.40,99.29 L556.54,99.31 L556.67,99.33 L556.81,99.35 L556.95,99.38 L557.09,99.40 L557.22,99.42 L557.36,99.44 L557.50,99.46 L558.32,99.57 L559.15,99.67 L559.97,99.76 L560.80,99.84 L561.62,99.90 L562.45,99.96 L563.27,100.02 L564.10,100.06 L564.92,100.10 L565.75,100.14 L566.57,100.17 L567.40,100.20 L568.22,100.22 L569.05,100.24 L569.88,100.29 L570.70,100.34 L571.52,100.39 L572.35,100.43 L573.17,100.48 L574.00,100.52 L574.82,100.56 L575.65,100.59 L576.47,100.63 L577.30,100.67 L578.12,100.70 L578.95,100.74 L579.77,100.77 L580.60,100.80 L581.42,100.83 L582.25,100.86 L583.07,100.89 L583.90,100.92 L584.72,100.95 L585.55,100.98 L586.38,101.01 L587.20,101.04 L588.02,101.06 L588.85,101.09 L589.67,101.12 L590.50,101.14 L591.32,101.17 L592.15,101.19 L592.97,101.22 L593.80,101.24 L594.62,101.27 L595.45,101.29 L596.27,101.32 L597.10,101.34 L597.92,101.36 L598.75,101.39 L599.57,101.41 L600.40,101.43 L601.22,101.45 L602.05,101.48 L602.88,101.50 L603.70,101.52 L604.52,101.54 L605.35,101.56 L606.17,101.58 L607.00,101.60 L607.82,101.62 L608.65,101.65 L609.47,101.67 L610.30,101.69 L611.12,101.70 L611.95,101.72 L612.77,101.74 L613.60,101.76 L614.42,101.78 L615.25,101.80 L616.07,101.82 L616.90,101.84 L617.72,101.86 L618.55,101.87 L619.38,101.89 L620.20,101.91 L621.02,101.93 L621.85,101.94 L622.67,101.96 L623.50,101.98 L624.32,102.00 L625.15,102.01 L625.97,102.03 L626.80,102.04 L627.62,102.06 L628.45,102.08 L629.27,102.09 L630.10,102.11 L630.92,102.12 L631.75,102.14 L632.57,102.15 L633.40,102.17 L634.22,102.18 L635.05,102.20 L635.88,102.21 L636.70,102.23 L637.52,102.24 L638.35,102.26 L639.17,102.27 L640.00,102.28 L640.82,102.30 L641.65,102.31 L642.47,102.33 L643.30,102.34 L644.12,102.35 L644.95,102.37 L645.77,102.38 L646.60,102.39 L647.42,102.40 L648.25,102.42 L649.07,102.43 L649.90,102.44 L650.72,102.45 L651.55,102.47 L652.38,102.48 L653.20,102.49 L654.02,102.50 L654.85,102.51 L655.67,102.52 L656.50,102.54 L657.32,102.55 L658.15,102.56 L658.97,102.57 L659.80,102.58" stroke="#e09020" stroke-width="0.85" fill="none" stroke-linejoin="round" />
<path d="M500.5,97.6 L522.3,100.2 L500.5,100.0 Z" fill="#111" stroke="#111" stroke-width="0.6"/>
<path d="M500.30,98.95 L501.12,99.00 L501.95,99.06 L502.77,99.11 L503.60,99.17 L504.42,99.22 L505.25,99.27 L506.07,99.33 L506.90,99.38 L507.72,99.44 L508.55,99.49 L509.37,99.55 L510.20,99.60 L511.02,99.66 L511.85,99.71 L512.67,99.76 L513.50,99.82 L514.32,99.87 L515.15,99.93 L515.97,99.98 L516.80,100.04 L517.62,100.09 L518.45,100.15 L519.27,100.20 L520.10,100.25 L520.92,100.31 L521.75,100.36 L522.57,48.83 L522.71,40.52 L522.85,36.45 L522.99,34.47 L523.12,33.50 L523.26,33.03 L523.40,32.81 L523.54,32.71 L523.67,32.67 L523.81,32.66 L523.95,32.66 L524.77,32.74 L525.60,32.83 L526.42,32.92 L527.25,33.01 L528.07,33.10 L528.90,33.19 L529.72,33.28 L530.55,33.37 L531.38,33.46 L532.20,33.55 L533.02,33.64 L533.85,33.74 L534.67,33.83 L535.50,33.92 L536.32,34.01 L537.15,34.10 L537.97,34.19 L538.80,34.28 L539.62,34.37 L540.45,34.46 L541.27,34.55 L542.10,34.64 L542.92,34.73 L543.75,34.82 L544.57,34.91 L545.40,35.01 L546.22,35.10 L547.05,35.19 L547.88,35.28 L548.70,35.37 L549.52,35.46 L550.35,35.55 L551.17,35.64 L552.00,35.73 L552.82,35.82 L553.65,35.91 L554.47,36.00 L555.30,36.09 L555.44,37.42 L555.57,38.71 L555.71,39.98 L555.85,41.22 L555.99,42.43 L556.12,43.62 L556.26,44.79 L556.40,45.93 L556.54,47.05 L556.67,48.14 L556.81,49.22 L556.95,50.27 L557.09,51.30 L557.22,52.31 L557.36,53.29 L557.50,54.26 L558.32,59.66 L559.15,64.43 L559.97,68.64 L560.80,72.36 L561.62,75.64 L562.45,78.54 L563.27,81.10 L564.10,83.36 L564.92,85.35 L565.75,87.11 L566.57,88.67 L567.40,90.04 L568.22,91.26 L569.05,92.33 L569.88,93.49 L570.70,94.55 L571.52,95.50 L572.35,96.37 L573.17,97.16 L574.00,97.88 L574.82,98.53 L575.65,99.14 L576.47,99.69 L577.30,100.20 L578.12,100.68 L578.95,101.12 L579.77,101.53 L580.60,101.91 L581.42,102.27 L582.25,102.60 L583.07,102.92 L583.90,103.22 L584.72,103.51 L585.55,103.78 L586.38,104.04 L587.20,104.29 L588.02,104.53 L588.85,104.76 L589.67,104.99 L590.50,105.20 L591.32,105.41 L592.15,105.61 L592.97,105.81 L593.80,106.00 L594.62,106.19 L595.45,106.37 L596.27,106.55 L597.10,106.73 L597.92,106.90 L598.75,107.07 L599.57,107.23 L600.40,107.40 L601.22,107.56 L602.05,107.72 L602.88,107.87 L603.70,108.02 L604.52,108.18 L605.35,108.33 L606.17,108.47 L607.00,108.62 L607.82,108.76 L608.65,108.90 L609.47,109.04 L610.30,109.18 L611.12,109.32 L611.95,109.45 L612.77,109.59 L613.60,109.72 L614.42,109.85 L615.25,109.98 L616.07,110.11 L616.90,110.23 L617.72,110.36 L618.55,110.48 L619.38,110.61 L620.20,110.73 L621.02,110.85 L621.85,110.97 L622.67,111.08 L623.50,111.20 L624.32,111.32 L625.15,111.43 L625.97,111.54 L626.80,111.65 L627.62,111.77 L628.45,111.87 L629.27,111.98 L630.10,112.09 L630.92,112.20 L631.75,112.30 L632.57,112.41 L633.40,112.51 L634.22,112.61 L635.05,112.71 L635.88,112.81 L636.70,112.91 L637.52,113.01 L638.35,113.11 L639.17,113.20 L640.00,113.30 L640.82,113.39 L641.65,113.48 L642.47,113.58 L643.30,113.67 L644.12,113.76 L644.95,113.85 L645.77,113.94 L646.60,114.02 L647.42,114.11 L648.25,114.20 L649.07,114.28 L649.90,114.37 L650.72,114.45 L651.55,114.53 L652.38,114.62 L653.20,114.70 L654.02,114.78 L654.85,114.86 L655.67,114.93 L656.50,115.01 L657.32,115.09 L658.15,115.17 L658.97,115.24 L659.80,115.32" stroke="#000" stroke-width="0.9" fill="none" stroke-linejoin="round" />
<path d="M500.30,98.95 L501.12,99.00 L501.95,99.06 L502.77,99.11 L503.60,99.17 L504.42,99.22 L505.25,99.27 L506.07,99.33 L506.90,99.38 L507.72,99.44 L508.55,99.49 L509.37,99.55 L510.20,99.60 L511.02,99.66 L511.85,99.71 L512.67,99.76 L513.50,99.82 L514.32,99.87 L515.15,99.93 L515.97,99.98 L516.80,100.04 L517.62,100.09 L518.45,100.15 L519.27,100.20 L520.10,100.25 L520.92,100.31 L521.75,100.36 L522.57,83.22 L522.71,76.55 L522.85,70.91 L522.99,66.13 L523.12,62.08 L523.26,58.65 L523.40,55.75 L523.54,53.30 L523.67,51.22 L523.81,49.46 L523.95,47.97 L524.77,42.80 L525.60,40.92 L526.42,40.26 L527.25,40.04 L528.07,39.99 L528.90,40.00 L529.72,40.03 L530.55,40.07 L531.38,40.12 L532.20,40.16 L533.02,40.21 L533.85,40.25 L534.67,40.30 L535.50,40.34 L536.32,40.39 L537.15,40.43 L537.97,40.48 L538.80,40.52 L539.62,40.57 L540.45,40.61 L541.27,40.66 L542.10,40.70 L542.92,40.75 L543.75,40.80 L544.57,40.84 L545.40,40.89 L546.22,40.93 L547.05,40.98 L547.88,41.02 L548.70,41.07 L549.52,41.11 L550.35,41.16 L551.17,41.20 L552.00,41.25 L552.82,41.29 L553.65,41.34 L554.47,41.39 L555.30,41.43 L555.44,42.64 L555.57,43.83 L555.71,44.99 L555.85,46.13 L555.99,47.24 L556.12,48.33 L556.26,49.40 L556.40,50.45 L556.54,51.48 L556.67,52.48 L556.81,53.46 L556.95,54.43 L557.09,55.37 L557.22,56.30 L557.36,57.20 L557.50,58.09 L558.32,63.04 L559.15,67.42 L559.97,71.28 L560.80,74.69 L561.62,77.70 L562.45,80.35 L563.27,82.70 L564.10,84.77 L564.92,86.60 L565.75,88.22 L566.57,89.64 L567.40,90.90 L568.22,92.01 L569.05,93.00 L569.88,94.00 L570.70,94.91 L571.52,95.72 L572.35,96.45 L573.17,97.11 L574.00,97.71 L574.82,98.25 L575.65,98.75 L576.47,99.20 L577.30,99.61 L578.12,99.98 L578.95,100.33 L579.77,100.65 L580.60,100.94 L581.42,101.22 L582.25,101.47 L583.07,101.71 L583.90,101.93 L584.72,102.14 L585.55,102.34 L586.38,102.53 L587.20,102.70 L588.02,102.87 L588.85,103.03 L589.67,103.19 L590.50,103.33 L591.32,103.48 L592.15,103.61 L592.97,103.75 L593.80,103.87 L594.62,104.00 L595.45,104.12 L596.27,104.24 L597.10,104.35 L597.92,104.46 L598.75,104.57 L599.57,104.68 L600.40,104.79 L601.22,104.89 L602.05,104.99 L602.88,105.09 L603.70,105.19 L604.52,105.29 L605.35,105.38 L606.17,105.48 L607.00,105.57 L607.82,105.66 L608.65,105.75 L609.47,105.84 L610.30,105.93 L611.12,106.01 L611.95,106.10 L612.77,106.18 L613.60,106.27 L614.42,106.35 L615.25,106.43 L616.07,106.51 L616.90,106.59 L617.72,106.67 L618.55,106.75 L619.38,106.83 L620.20,106.90 L621.02,106.98 L621.85,107.06 L622.67,107.13 L623.50,107.20 L624.32,107.28 L625.15,107.35 L625.97,107.42 L626.80,107.49 L627.62,107.56 L628.45,107.63 L629.27,107.70 L630.10,107.76 L630.92,107.83 L631.75,107.90 L632.57,107.96 L633.40,108.03 L634.22,108.09 L635.05,108.16 L635.88,108.22 L636.70,108.28 L637.52,108.34 L638.35,108.40 L639.17,108.46 L640.00,108.52 L640.82,108.58 L641.65,108.64 L642.47,108.70 L643.30,108.76 L644.12,108.81 L644.95,108.87 L645.77,108.93 L646.60,108.98 L647.42,109.04 L648.25,109.09 L649.07,109.15 L649.90,109.20 L650.72,109.25 L651.55,109.30 L652.38,109.35 L653.20,109.41 L654.02,109.46 L654.85,109.51 L655.67,109.56 L656.50,109.60 L657.32,109.65 L658.15,109.70 L658.97,109.75 L659.80,109.80" stroke="#000" stroke-width="0.9" fill="none" stroke-linejoin="round" />
<path d="M500.30,98.95 L501.12,99.00 L501.95,99.06 L502.77,99.11 L503.60,99.17 L504.42,99.22 L505.25,99.27 L506.07,99.33 L506.90,99.38 L507.72,99.44 L508.55,99.49 L509.37,99.55 L510.20,99.60 L511.02,99.66 L511.85,99.71 L512.67,99.76 L513.50,99.82 L514.32,99.87 L515.15,99.93 L515.97,99.98 L516.80,100.04 L517.62,100.09 L518.45,100.15 L519.27,100.20 L520.10,100.25 L520.92,100.31 L521.75,100.36 L522.57,95.79 L522.71,93.64 L522.85,91.60 L522.99,89.65 L523.12,87.79 L523.26,86.01 L523.40,84.32 L523.54,82.71 L523.67,81.17 L523.81,79.71 L523.95,78.31 L524.77,71.19 L525.60,65.83 L526.42,61.82 L527.25,58.80 L528.07,56.54 L528.90,54.84 L529.72,53.57 L530.55,52.62 L531.38,51.91 L532.20,51.39 L533.02,51.00 L533.85,50.71 L534.67,50.50 L535.50,50.34 L536.32,50.23 L537.15,50.16 L537.97,50.11 L538.80,50.07 L539.62,50.05 L540.45,50.04 L541.27,50.04 L542.10,50.05 L542.92,50.06 L543.75,50.07 L544.57,50.08 L545.40,50.10 L546.22,50.12 L547.05,50.14 L547.88,50.16 L548.70,50.18 L549.52,50.20 L550.35,50.22 L551.17,50.24 L552.00,50.27 L552.82,50.29 L553.65,50.31 L554.47,50.33 L555.30,50.36 L555.44,51.38 L555.57,52.39 L555.71,53.38 L555.85,54.34 L555.99,55.29 L556.12,56.21 L556.26,57.12 L556.40,58.01 L556.54,58.88 L556.67,59.73 L556.81,60.57 L556.95,61.39 L557.09,62.19 L557.22,62.97 L557.36,63.74 L557.50,64.49 L558.32,68.70 L559.15,72.41 L559.97,75.69 L560.80,78.58 L561.62,81.13 L562.45,83.39 L563.27,85.38 L564.10,87.14 L564.92,88.69 L565.75,90.06 L566.57,91.27 L567.40,92.34 L568.22,93.28 L569.05,94.12 L569.88,94.94 L570.70,95.68 L571.52,96.34 L572.35,96.93 L573.17,97.46 L574.00,97.94 L574.82,98.37 L575.65,98.76 L576.47,99.11 L577.30,99.43 L578.12,99.72 L578.95,99.98 L579.77,100.23 L580.60,100.45 L581.42,100.66 L582.25,100.84 L583.07,101.02 L583.90,101.18 L584.72,101.33 L585.55,101.47 L586.38,101.61 L587.20,101.73 L588.02,101.85 L588.85,101.96 L589.67,102.07 L590.50,102.17 L591.32,102.26 L592.15,102.36 L592.97,102.45 L593.80,102.53 L594.62,102.61 L595.45,102.69 L596.27,102.77 L597.10,102.85 L597.92,102.92 L598.75,102.99 L599.57,103.06 L600.40,103.13 L601.22,103.19 L602.05,103.26 L602.88,103.32 L603.70,103.39 L604.52,103.45 L605.35,103.51 L606.17,103.57 L607.00,103.63 L607.82,103.68 L608.65,103.74 L609.47,103.80 L610.30,103.85 L611.12,103.91 L611.95,103.96 L612.77,104.01 L613.60,104.07 L614.42,104.12 L615.25,104.17 L616.07,104.22 L616.90,104.27 L617.72,104.32 L618.55,104.37 L619.38,104.42 L620.20,104.46 L621.02,104.51 L621.85,104.56 L622.67,104.61 L623.50,104.65 L624.32,104.70 L625.15,104.74 L625.97,104.79 L626.80,104.83 L627.62,104.87 L628.45,104.92 L629.27,104.96 L630.10,105.00 L630.92,105.04 L631.75,105.09 L632.57,105.13 L633.40,105.17 L634.22,105.21 L635.05,105.25 L635.88,105.29 L636.70,105.33 L637.52,105.36 L638.35,105.40 L639.17,105.44 L640.00,105.48 L640.82,105.51 L641.65,105.55 L642.47,105.59 L643.30,105.62 L644.12,105.66 L644.95,105.69 L645.77,105.73 L646.60,105.76 L647.42,105.80 L648.25,105.83 L649.07,105.87 L649.90,105.90 L650.72,105.93 L651.55,105.96 L652.38,106.00 L653.20,106.03 L654.02,106.06 L654.85,106.09 L655.67,106.12 L656.50,106.15 L657.32,106.18 L658.15,106.21 L658.97,106.24 L659.80,106.27" stroke="#000" stroke-width="0.9" fill="none" stroke-linejoin="round" />
<path d="M500.30,98.95 L501.12,99.00 L501.95,99.06 L502.77,99.11 L503.60,99.17 L504.42,99.22 L505.25,99.27 L506.07,99.33 L506.90,99.38 L507.72,99.44 L508.55,99.49 L509.37,99.55 L510.20,99.60 L511.02,99.66 L511.85,99.71 L512.67,99.76 L513.50,99.82 L514.32,99.87 L515.15,99.93 L515.97,99.98 L516.80,100.04 L517.62,100.09 L518.45,100.15 L519.27,100.20 L520.10,100.25 L520.92,100.31 L521.75,100.36 L522.57,99.17 L522.71,98.57 L522.85,97.98 L522.99,97.41 L523.12,96.84 L523.26,96.28 L523.40,95.72 L523.54,95.18 L523.67,94.65 L523.81,94.13 L523.95,93.61 L524.77,90.69 L525.60,88.05 L526.42,85.66 L527.25,83.49 L528.07,81.53 L528.90,79.76 L529.72,78.16 L530.55,76.70 L531.38,75.39 L532.20,74.20 L533.02,73.12 L533.85,72.15 L534.67,71.27 L535.50,70.47 L536.32,69.74 L537.15,69.09 L537.97,68.50 L538.80,67.96 L539.62,67.48 L540.45,67.04 L541.27,66.64 L542.10,66.28 L542.92,65.96 L543.75,65.66 L544.57,65.40 L545.40,65.16 L546.22,64.94 L547.05,64.74 L547.88,64.56 L548.70,64.40 L549.52,64.25 L550.35,64.12 L551.17,64.00 L552.00,63.89 L552.82,63.79 L553.65,63.70 L554.47,63.62 L555.30,63.55 L555.44,64.31 L555.57,65.05 L555.71,65.78 L555.85,66.49 L555.99,67.18 L556.12,67.86 L556.26,68.53 L556.40,69.19 L556.54,69.83 L556.67,70.46 L556.81,71.07 L556.95,71.67 L557.09,72.26 L557.22,72.84 L557.36,73.41 L557.50,73.96 L558.32,77.06 L559.15,79.79 L559.97,82.20 L560.80,84.33 L561.62,86.21 L562.45,87.87 L563.27,89.34 L564.10,90.63 L564.92,91.78 L565.75,92.79 L566.57,93.68 L567.40,94.47 L568.22,95.16 L569.05,95.77 L569.88,96.39 L570.70,96.93 L571.52,97.42 L572.35,97.86 L573.17,98.26 L574.00,98.62 L574.82,98.94 L575.65,99.23 L576.47,99.50 L577.30,99.74 L578.12,99.96 L578.95,100.16 L579.77,100.34 L580.60,100.51 L581.42,100.67 L582.25,100.81 L583.07,100.94 L583.90,101.07 L584.72,101.18 L585.55,101.29 L586.38,101.40 L587.20,101.49 L588.02,101.58 L588.85,101.67 L589.67,101.75 L590.50,101.83 L591.32,101.91 L592.15,101.98 L592.97,102.05 L593.80,102.11 L594.62,102.18 L595.45,102.24 L596.27,102.30 L597.10,102.36 L597.92,102.42 L598.75,102.48 L599.57,102.53 L600.40,102.59 L601.22,102.64 L602.05,102.69 L602.88,102.74 L603.70,102.79 L604.52,102.84 L605.35,102.89 L606.17,102.93 L607.00,102.98 L607.82,103.03 L608.65,103.07 L609.47,103.12 L610.30,103.16 L611.12,103.21 L611.95,103.25 L612.77,103.29 L613.60,103.33 L614.42,103.37 L615.25,103.42 L616.07,103.46 L616.90,103.50 L617.72,103.54 L618.55,103.57 L619.38,103.61 L620.20,103.65 L621.02,103.69 L621.85,103.73 L622.67,103.76 L623.50,103.80 L624.32,103.84 L625.15,103.87 L625.97,103.91 L626.80,103.94 L627.62,103.98 L628.45,104.01 L629.27,104.05 L630.10,104.08 L630.92,104.12 L631.75,104.15 L632.57,104.18 L633.40,104.21 L634.22,104.25 L635.05,104.28 L635.88,104.31 L636.70,104.34 L637.52,104.37 L638.35,104.40 L639.17,104.43 L640.00,104.46 L640.82,104.49 L641.65,104.52 L642.47,104.55 L643.30,104.58 L644.12,104.61 L644.95,104.64 L645.77,104.66 L646.60,104.69 L647.42,104.72 L648.25,104.75 L649.07,104.77 L649.90,104.80 L650.72,104.83 L651.55,104.85 L652.38,104.88 L653.20,104.90 L654.02,104.93 L654.85,104.95 L655.67,104.98 L656.50,105.00 L657.32,105.03 L658.15,105.05 L658.97,105.07 L659.80,105.10" stroke="#000" stroke-width="0.9" fill="none" stroke-linejoin="round" />
<path d="M500.30,98.95 L501.12,99.00 L501.95,99.06 L502.77,99.11 L503.60,99.17 L504.42,99.22 L505.25,99.27 L506.07,99.33 L506.90,99.38 L507.72,99.44 L508.55,99.49 L509.37,99.55 L510.20,99.60 L511.02,99.66 L511.85,99.71 L512.67,99.76 L513.50,99.82 L514.32,99.87 L515.15,99.93 L515.97,99.98 L516.80,100.04 L517.62,100.09 L518.45,100.15 L519.27,100.20 L520.10,100.25 L520.92,100.31 L521.75,100.36 L522.57,99.90 L522.71,99.65 L522.85,99.40 L522.99,99.16 L523.12,98.92 L523.26,98.69 L523.40,98.46 L523.54,98.23 L523.67,98.00 L523.81,97.77 L523.95,97.55 L524.77,96.27 L525.60,95.08 L526.42,93.97 L527.25,92.94 L528.07,91.98 L528.90,91.08 L529.72,90.24 L530.55,89.47 L531.38,88.74 L532.20,88.07 L533.02,87.44 L533.85,86.86 L534.67,86.31 L535.50,85.81 L536.32,85.34 L537.15,84.90 L537.97,84.49 L538.80,84.11 L539.62,83.75 L540.45,83.42 L541.27,83.11 L542.10,82.83 L542.92,82.56 L543.75,82.31 L544.57,82.08 L545.40,81.86 L546.22,81.66 L547.05,81.48 L547.88,81.30 L548.70,81.14 L549.52,80.99 L550.35,80.85 L551.17,80.72 L552.00,80.60 L552.82,80.48 L553.65,80.38 L554.47,80.28 L555.30,80.19 L555.44,80.60 L555.57,81.01 L555.71,81.41 L555.85,81.80 L555.99,82.18 L556.12,82.55 L556.26,82.92 L556.40,83.28 L556.54,83.63 L556.67,83.98 L556.81,84.31 L556.95,84.64 L557.09,84.97 L557.22,85.28 L557.36,85.59 L557.50,85.90 L558.32,87.60 L559.15,89.09 L559.97,90.42 L560.80,91.59 L561.62,92.62 L562.45,93.53 L563.27,94.33 L564.10,95.04 L564.92,95.67 L565.75,96.22 L566.57,96.71 L567.40,97.14 L568.22,97.53 L569.05,97.86 L569.88,98.22 L570.70,98.54 L571.52,98.84 L572.35,99.10 L573.17,99.34 L574.00,99.56 L574.82,99.75 L575.65,99.94 L576.47,100.10 L577.30,100.26 L578.12,100.40 L578.95,100.53 L579.77,100.65 L580.60,100.76 L581.42,100.87 L582.25,100.96 L583.07,101.06 L583.90,101.15 L584.72,101.23 L585.55,101.31 L586.38,101.38 L587.20,101.45 L588.02,101.52 L588.85,101.59 L589.67,101.65 L590.50,101.71 L591.32,101.77 L592.15,101.83 L592.97,101.88 L593.80,101.94 L594.62,101.99 L595.45,102.04 L596.27,102.09 L597.10,102.14 L597.92,102.19 L598.75,102.23 L599.57,102.28 L600.40,102.33 L601.22,102.37 L602.05,102.41 L602.88,102.46 L603.70,102.50 L604.52,102.54 L605.35,102.58 L606.17,102.62 L607.00,102.66 L607.82,102.70 L608.65,102.74 L609.47,102.78 L610.30,102.82 L611.12,102.86 L611.95,102.89 L612.77,102.93 L613.60,102.97 L614.42,103.00 L615.25,103.04 L616.07,103.08 L616.90,103.11 L617.72,103.14 L618.55,103.18 L619.38,103.21 L620.20,103.25 L621.02,103.28 L621.85,103.31 L622.67,103.34 L623.50,103.38 L624.32,103.41 L625.15,103.44 L625.97,103.47 L626.80,103.50 L627.62,103.53 L628.45,103.56 L629.27,103.59 L630.10,103.62 L630.92,103.65 L631.75,103.68 L632.57,103.71 L633.40,103.74 L634.22,103.77 L635.05,103.79 L635.88,103.82 L636.70,103.85 L637.52,103.87 L638.35,103.90 L639.17,103.93 L640.00,103.95 L640.82,103.98 L641.65,104.01 L642.47,104.03 L643.30,104.06 L644.12,104.08 L644.95,104.11 L645.77,104.13 L646.60,104.15 L647.42,104.18 L648.25,104.20 L649.07,104.23 L649.90,104.25 L650.72,104.27 L651.55,104.30 L652.38,104.32 L653.20,104.34 L654.02,104.36 L654.85,104.38 L655.67,104.41 L656.50,104.43 L657.32,104.45 L658.15,104.47 L658.97,104.49 L659.80,104.51" stroke="#000" stroke-width="0.9" fill="none" stroke-linejoin="round" />
<path d="M500.30,98.95 L501.12,99.00 L501.95,99.06 L502.77,99.11 L503.60,99.17 L504.42,99.22 L505.25,99.27 L506.07,99.33 L506.90,99.38 L507.72,99.44 L508.55,99.49 L509.37,99.55 L510.20,99.60 L511.02,99.66 L511.85,99.71 L512.67,99.76 L513.50,99.82 L514.32,99.87 L515.15,99.93 L515.97,99.98 L516.80,100.04 L517.62,100.09 L518.45,100.15 L519.27,100.20 L520.10,100.25 L520.92,100.31 L521.75,100.36 L522.57,100.19 L522.71,100.09 L522.85,99.99 L522.99,99.89 L523.12,99.79 L523.26,99.69 L523.40,99.59 L523.54,99.50 L523.67,99.40 L523.81,99.31 L523.95,99.22 L524.77,98.68 L525.60,98.18 L526.42,97.70 L527.25,97.26 L528.07,96.84 L528.90,96.45 L529.72,96.09 L530.55,95.75 L531.38,95.42 L532.20,95.12 L533.02,94.84 L533.85,94.57 L534.67,94.33 L535.50,94.09 L536.32,93.87 L537.15,93.67 L537.97,93.47 L538.80,93.29 L539.62,93.12 L540.45,92.97 L541.27,92.82 L542.10,92.68 L542.92,92.55 L543.75,92.42 L544.57,92.31 L545.40,92.20 L546.22,92.10 L547.05,92.00 L547.88,91.91 L548.70,91.83 L549.52,91.75 L550.35,91.68 L551.17,91.61 L552.00,91.54 L552.82,91.48 L553.65,91.43 L554.47,91.37 L555.30,91.32 L555.44,91.51 L555.57,91.69 L555.71,91.87 L555.85,92.05 L555.99,92.22 L556.12,92.39 L556.26,92.55 L556.40,92.71 L556.54,92.87 L556.67,93.02 L556.81,93.18 L556.95,93.32 L557.09,93.47 L557.22,93.61 L557.36,93.75 L557.50,93.89 L558.32,94.65 L559.15,95.32 L559.97,95.92 L560.80,96.44 L561.62,96.91 L562.45,97.31 L563.27,97.68 L564.10,97.99 L564.92,98.28 L565.75,98.52 L566.57,98.74 L567.40,98.94 L568.22,99.11 L569.05,99.26 L569.88,99.44 L570.70,99.60 L571.52,99.75 L572.35,99.88 L573.17,100.00 L574.00,100.12 L574.82,100.22 L575.65,100.32 L576.47,100.41 L577.30,100.49 L578.12,100.57 L578.95,100.64 L579.77,100.71 L580.60,100.78 L581.42,100.84 L582.25,100.90 L583.07,100.95 L583.90,101.00 L584.72,101.05 L585.55,101.10 L586.38,101.15 L587.20,101.20 L588.02,101.24 L588.85,101.28 L589.67,101.32 L590.50,101.36 L591.32,101.40 L592.15,101.44 L592.97,101.48 L593.80,101.51 L594.62,101.55 L595.45,101.58 L596.27,101.62 L597.10,101.65 L597.92,101.69 L598.75,101.72 L599.57,101.75 L600.40,101.78 L601.22,101.81 L602.05,101.84 L602.88,101.87 L603.70,101.90 L604.52,101.93 L605.35,101.96 L606.17,101.99 L607.00,102.02 L607.82,102.05 L608.65,102.07 L609.47,102.10 L610.30,102.13 L611.12,102.16 L611.95,102.18 L612.77,102.21 L613.60,102.24 L614.42,102.26 L615.25,102.29 L616.07,102.31 L616.90,102.34 L617.72,102.36 L618.55,102.39 L619.38,102.41 L620.20,102.43 L621.02,102.46 L621.85,102.48 L622.67,102.50 L623.50,102.53 L624.32,102.55 L625.15,102.57 L625.97,102.59 L626.80,102.62 L627.62,102.64 L628.45,102.66 L629.27,102.68 L630.10,102.70 L630.92,102.72 L631.75,102.74 L632.57,102.76 L633.40,102.78 L634.22,102.80 L635.05,102.82 L635.88,102.84 L636.70,102.86 L637.52,102.88 L638.35,102.90 L639.17,102.92 L640.00,102.94 L640.82,102.96 L641.65,102.98 L642.47,102.99 L643.30,103.01 L644.12,103.03 L644.95,103.05 L645.77,103.06 L646.60,103.08 L647.42,103.10 L648.25,103.12 L649.07,103.13 L649.90,103.15 L650.72,103.17 L651.55,103.18 L652.38,103.20 L653.20,103.21 L654.02,103.23 L654.85,103.25 L655.67,103.26 L656.50,103.28 L657.32,103.29 L658.15,103.31 L658.97,103.32 L659.80,103.34" stroke="#000" stroke-width="0.9" fill="none" stroke-linejoin="round" />
<path d="M500.30,98.95 L501.12,99.00 L501.95,99.06 L502.77,99.11 L503.60,99.17 L504.42,99.22 L505.25,99.27 L506.07,99.33 L506.90,99.38 L507.72,99.44 L508.55,99.49 L509.37,99.55 L510.20,99.60 L511.02,99.66 L511.85,99.71 L512.67,99.76 L513.50,99.82 L514.32,99.87 L515.15,99.93 L515.97,99.98 L516.80,100.04 L517.62,100.09 L518.45,100.15 L519.27,100.20 L520.10,100.25 L520.92,100.31 L521.75,100.36 L522.57,100.33 L522.71,100.30 L522.85,100.27 L522.99,100.23 L523.12,100.20 L523.26,100.17 L523.40,100.14 L523.54,100.11 L523.67,100.08 L523.81,100.05 L523.95,100.01 L524.77,99.84 L525.60,99.67 L526.42,99.51 L527.25,99.36 L528.07,99.22 L528.90,99.09 L529.72,98.97 L530.55,98.85 L531.38,98.73 L532.20,98.63 L533.02,98.53 L533.85,98.43 L534.67,98.35 L535.50,98.26 L536.32,98.18 L537.15,98.11 L537.97,98.04 L538.80,97.97 L539.62,97.90 L540.45,97.84 L541.27,97.79 L542.10,97.73 L542.92,97.68 L543.75,97.64 L544.57,97.59 L545.40,97.55 L546.22,97.51 L547.05,97.47 L547.88,97.44 L548.70,97.40 L549.52,97.37 L550.35,97.34 L551.17,97.31 L552.00,97.28 L552.82,97.26 L553.65,97.23 L554.47,97.21 L555.30,97.19 L555.44,97.26 L555.57,97.32 L555.71,97.38 L555.85,97.45 L555.99,97.51 L556.12,97.57 L556.26,97.62 L556.40,97.68 L556.54,97.74 L556.67,97.79 L556.81,97.85 L556.95,97.90 L557.09,97.95 L557.22,98.00 L557.36,98.05 L557.50,98.10 L558.32,98.37 L559.15,98.60 L559.97,98.81 L560.80,99.00 L561.62,99.16 L562.45,99.31 L563.27,99.44 L564.10,99.55 L564.92,99.65 L565.75,99.74 L566.57,99.81 L567.40,99.88 L568.22,99.94 L569.05,100.00 L569.88,100.08 L570.70,100.16 L571.52,100.23 L572.35,100.29 L573.17,100.36 L574.00,100.41 L574.82,100.47 L575.65,100.52 L576.47,100.57 L577.30,100.62 L578.12,100.66 L578.95,100.71 L579.77,100.75 L580.60,100.79 L581.42,100.83 L582.25,100.87 L583.07,100.90 L583.90,100.94 L584.72,100.97 L585.55,101.00 L586.38,101.04 L587.20,101.07 L588.02,101.10 L588.85,101.13 L589.67,101.16 L590.50,101.19 L591.32,101.22 L592.15,101.25 L592.97,101.28 L593.80,101.30 L594.62,101.33 L595.45,101.36 L596.27,101.38 L597.10,101.41 L597.92,101.43 L598.75,101.46 L599.57,101.48 L600.40,101.51 L601.22,101.53 L602.05,101.56 L602.88,101.58 L603.70,101.61 L604.52,101.63 L605.35,101.65 L606.17,101.67 L607.00,101.70 L607.82,101.72 L608.65,101.74 L609.47,101.76 L610.30,101.78 L611.12,101.81 L611.95,101.83 L612.77,101.85 L613.60,101.87 L614.42,101.89 L615.25,101.91 L616.07,101.93 L616.90,101.95 L617.72,101.97 L618.55,101.99 L619.38,102.01 L620.20,102.03 L621.02,102.05 L621.85,102.06 L622.67,102.08 L623.50,102.10 L624.32,102.12 L625.15,102.14 L625.97,102.15 L626.80,102.17 L627.62,102.19 L628.45,102.21 L629.27,102.22 L630.10,102.24 L630.92,102.26 L631.75,102.27 L632.57,102.29 L633.40,102.31 L634.22,102.32 L635.05,102.34 L635.88,102.35 L636.70,102.37 L637.52,102.39 L638.35,102.40 L639.17,102.42 L640.00,102.43 L640.82,102.45 L641.65,102.46 L642.47,102.48 L643.30,102.49 L644.12,102.50 L644.95,102.52 L645.77,102.53 L646.60,102.55 L647.42,102.56 L648.25,102.57 L649.07,102.59 L649.90,102.60 L650.72,102.61 L651.55,102.63 L652.38,102.64 L653.20,102.65 L654.02,102.66 L654.85,102.68 L655.67,102.69 L656.50,102.70 L657.32,102.71 L658.15,102.73 L658.97,102.74 L659.80,102.75" stroke="#000" stroke-width="0.9" fill="none" stroke-linejoin="round" />
<path d="M500.30,98.95 L501.12,99.00 L501.95,99.06 L502.77,99.11 L503.60,99.17 L504.42,99.22 L505.25,99.27 L506.07,99.33 L506.90,99.38 L507.72,99.44 L508.55,99.49 L509.37,99.55 L510.20,99.60 L511.02,99.66 L511.85,99.71 L512.67,99.76 L513.50,99.82 L514.32,99.87 L515.15,99.93 L515.97,99.98 L516.80,100.04 L517.62,100.09 L518.45,100.15 L519.27,100.20 L520.10,100.25 L520.92,100.31 L521.75,100.36 L522.57,100.37 L522.71,100.36 L522.85,100.35 L522.99,100.33 L523.12,100.32 L523.26,100.31 L523.40,100.30 L523.54,100.28 L523.67,100.27 L523.81,100.26 L523.95,100.25 L524.77,100.18 L525.60,100.11 L526.42,100.05 L527.25,99.99 L528.07,99.93 L528.90,99.88 L529.72,99.83 L530.55,99.78 L531.38,99.73 L532.20,99.69 L533.02,99.65 L533.85,99.61 L534.67,99.58 L535.50,99.54 L536.32,99.51 L537.15,99.48 L537.97,99.45 L538.80,99.43 L539.62,99.40 L540.45,99.38 L541.27,99.36 L542.10,99.33 L542.92,99.31 L543.75,99.29 L544.57,99.28 L545.40,99.26 L546.22,99.24 L547.05,99.23 L547.88,99.21 L548.70,99.20 L549.52,99.19 L550.35,99.18 L551.17,99.16 L552.00,99.15 L552.82,99.14 L553.65,99.13 L554.47,99.12 L555.30,99.12 L555.44,99.14 L555.57,99.17 L555.71,99.19 L555.85,99.22 L555.99,99.24 L556.12,99.27 L556.26,99.29 L556.40,99.31 L556.54,99.33 L556.67,99.36 L556.81,99.38 L556.95,99.40 L557.09,99.42 L557.22,99.44 L557.36,99.46 L557.50,99.48 L558.32,99.59 L559.15,99.68 L559.97,99.77 L560.80,99.84 L561.62,99.91 L562.45,99.96 L563.27,100.01 L564.10,100.06 L564.92,100.10 L565.75,100.13 L566.57,100.17 L567.40,100.19 L568.22,100.22 L569.05,100.24 L569.88,100.29 L570.70,100.34 L571.52,100.38 L572.35,100.43 L573.17,100.47 L574.00,100.51 L574.82,100.55 L575.65,100.58 L576.47,100.62 L577.30,100.66 L578.12,100.69 L578.95,100.72 L579.77,100.75 L580.60,100.79 L581.42,100.82 L582.25,100.85 L583.07,100.88 L583.90,100.90 L584.72,100.93 L585.55,100.96 L586.38,100.99 L587.20,101.02 L588.02,101.04 L588.85,101.07 L589.67,101.09 L590.50,101.12 L591.32,101.14 L592.15,101.17 L592.97,101.19 L593.80,101.22 L594.62,101.24 L595.45,101.26 L596.27,101.29 L597.10,101.31 L597.92,101.33 L598.75,101.36 L599.57,101.38 L600.40,101.40 L601.22,101.42 L602.05,101.44 L602.88,101.46 L603.70,101.49 L604.52,101.51 L605.35,101.53 L606.17,101.55 L607.00,101.57 L607.82,101.59 L608.65,101.61 L609.47,101.63 L610.30,101.65 L611.12,101.67 L611.95,101.68 L612.77,101.70 L613.60,101.72 L614.42,101.74 L615.25,101.76 L616.07,101.78 L616.90,101.79 L617.72,101.81 L618.55,101.83 L619.38,101.85 L620.20,101.86 L621.02,101.88 L621.85,101.90 L622.67,101.91 L623.50,101.93 L624.32,101.95 L625.15,101.96 L625.97,101.98 L626.80,102.00 L627.62,102.01 L628.45,102.03 L629.27,102.04 L630.10,102.06 L630.92,102.07 L631.75,102.09 L632.57,102.10 L633.40,102.12 L634.22,102.13 L635.05,102.15 L635.88,102.16 L636.70,102.17 L637.52,102.19 L638.35,102.20 L639.17,102.21 L640.00,102.23 L640.82,102.24 L641.65,102.25 L642.47,102.27 L643.30,102.28 L644.12,102.29 L644.95,102.31 L645.77,102.32 L646.60,102.33 L647.42,102.34 L648.25,102.36 L649.07,102.37 L649.90,102.38 L650.72,102.39 L651.55,102.40 L652.38,102.41 L653.20,102.43 L654.02,102.44 L654.85,102.45 L655.67,102.46 L656.50,102.47 L657.32,102.48 L658.15,102.49 L658.97,102.50 L659.80,102.51" stroke="#000" stroke-width="0.9" fill="none" stroke-linejoin="round" />
<text x="1.4" y="161.3" font-size="16" fill="#000" font-weight="bold" text-anchor="start" textLength="12.2" lengthAdjust="spacingAndGlyphs" >d.</text>
<text x="65.5" y="170.3" font-size="11.5" fill="#000" font-weight="bold" text-anchor="start" textLength="118.5" lengthAdjust="spacingAndGlyphs" >Compound 21; sfBRD3</text>
<text x="225.0" y="160.5" font-size="16" fill="#000" font-weight="bold" text-anchor="start" textLength="11.9" lengthAdjust="spacingAndGlyphs" >e.</text>
<text x="272.0" y="171.2" font-size="11.5" fill="#000" font-weight="bold" text-anchor="start" textLength="161.3" lengthAdjust="spacingAndGlyphs" >Compound 21 + sfBRD3; sfVBC</text>
<text x="452.5" y="160.5" font-size="16" fill="#000" font-weight="bold" text-anchor="start" textLength="7.2" lengthAdjust="spacingAndGlyphs" >f.</text>
<text x="508.0" y="171.8" font-size="11.5" fill="#000" font-weight="bold" text-anchor="start" textLength="136.6" lengthAdjust="spacingAndGlyphs" >sfVBC + sfBRD3 AlphaLISA</text>
<line x1="40.40" y1="172.20" x2="40.40" y2="280.10" stroke="#4f6073" stroke-width="1.1" />
<line x1="40.40" y1="280.10" x2="217.50" y2="280.10" stroke="#4f6073" stroke-width="1.1" />
<line x1="37.60" y1="275.00" x2="40.40" y2="275.00" stroke="#4f6073" stroke-width="0.9" />
<text x="35.4" y="277.8" font-size="7.9" fill="#46586b" font-weight="normal" text-anchor="end" >0</text>
<line x1="37.60" y1="247.20" x2="40.40" y2="247.20" stroke="#4f6073" stroke-width="0.9" />
<text x="35.4" y="250.0" font-size="7.9" fill="#46586b" font-weight="normal" text-anchor="end" >10</text>
<line x1="37.60" y1="219.40" x2="40.40" y2="219.40" stroke="#4f6073" stroke-width="0.9" />
<text x="35.4" y="222.2" font-size="7.9" fill="#46586b" font-weight="normal" text-anchor="end" >20</text>
<line x1="37.60" y1="191.60" x2="40.40" y2="191.60" stroke="#4f6073" stroke-width="0.9" />
<text x="35.4" y="194.4" font-size="7.9" fill="#46586b" font-weight="normal" text-anchor="end" >30</text>
<line x1="38.80" y1="261.10" x2="40.40" y2="261.10" stroke="#4f6073" stroke-width="0.8" />
<line x1="38.80" y1="233.30" x2="40.40" y2="233.30" stroke="#4f6073" stroke-width="0.8" />
<line x1="38.80" y1="205.50" x2="40.40" y2="205.50" stroke="#4f6073" stroke-width="0.8" />
<line x1="38.80" y1="177.70" x2="40.40" y2="177.70" stroke="#4f6073" stroke-width="0.8" />
<line x1="70.30" y1="280.10" x2="70.30" y2="283.10" stroke="#4f6073" stroke-width="0.9" />
<text x="70.3" y="294.1" font-size="7.9" fill="#46586b" font-weight="normal" text-anchor="middle" >0</text>
<line x1="126.55" y1="280.10" x2="126.55" y2="283.10" stroke="#4f6073" stroke-width="0.9" />
<text x="126.5" y="294.1" font-size="7.9" fill="#46586b" font-weight="normal" text-anchor="middle" >100</text>
<line x1="182.80" y1="280.10" x2="182.80" y2="283.10" stroke="#4f6073" stroke-width="0.9" />
<text x="182.8" y="294.1" font-size="7.9" fill="#46586b" font-weight="normal" text-anchor="middle" >200</text>
<line x1="42.17" y1="280.10" x2="42.17" y2="282.10" stroke="#4f6073" stroke-width="0.8" />
<line x1="98.42" y1="280.10" x2="98.42" y2="282.10" stroke="#4f6073" stroke-width="0.8" />
<line x1="154.68" y1="280.10" x2="154.68" y2="282.10" stroke="#4f6073" stroke-width="0.8" />
<line x1="210.93" y1="280.10" x2="210.93" y2="282.10" stroke="#4f6073" stroke-width="0.8" />
<text transform="translate(16.4,227.2) rotate(-90)" x="0" y="2.4" font-size="7.0" fill="#2a2a2a" font-weight="normal" text-anchor="middle" textLength="70.5" lengthAdjust="spacingAndGlyphs">Relative response (RU)</text>
<text x="118.2" y="304.3" font-size="7.2" fill="#111" font-weight="normal" text-anchor="start" textLength="23.9" lengthAdjust="spacingAndGlyphs" stroke="#111" stroke-width="0.15">Time (s)</text>
<path d="M47.80,276.11 L48.64,276.07 L49.49,276.03 L50.33,275.99 L51.17,275.95 L52.02,275.90 L52.86,275.86 L53.71,275.82 L54.55,275.78 L55.39,275.74 L56.24,275.69 L57.08,275.65 L57.92,275.61 L58.77,275.57 L59.61,275.53 L60.46,275.49 L61.30,275.44 L62.14,275.40 L62.99,275.36 L63.83,275.32 L64.67,275.28 L65.52,275.24 L66.36,275.19 L67.21,275.15 L68.05,275.11 L68.89,275.07 L69.74,275.03 L70.58,256.46 L70.72,248.64 L70.86,241.65 L71.00,235.40 L71.14,229.81 L71.28,224.81 L71.42,220.35 L71.57,216.35 L71.71,212.78 L71.85,209.58 L71.99,206.72 L72.13,204.17 L72.27,201.88 L72.41,199.83 L72.55,198.00 L73.39,190.39 L74.24,186.45 L75.08,184.36 L75.92,183.21 L76.77,182.55 L77.61,182.14 L78.46,181.85 L79.30,181.62 L80.14,181.43 L80.99,181.25 L81.83,181.08 L82.67,180.92 L83.52,180.76 L84.36,180.60 L85.21,180.44 L86.05,180.28 L86.89,180.12 L87.74,179.96 L88.58,179.80 L89.42,179.64 L90.27,179.48 L91.11,179.32 L91.96,179.16 L92.80,179.00 L93.64,178.84 L94.49,178.68 L95.33,178.52 L96.17,178.36 L97.02,178.20 L97.86,178.04 L98.71,177.88 L99.55,177.72 L100.39,177.56 L101.24,177.40 L102.08,177.24 L102.92,177.08 L103.77,176.92 L104.61,178.31 L105.46,180.43 L106.30,182.49 L107.14,184.51 L107.99,186.47 L108.83,188.39 L109.67,190.25 L110.52,192.07 L111.36,193.84 L112.21,195.57 L113.05,197.26 L113.89,198.90 L114.74,200.50 L115.58,202.06 L116.42,203.58 L117.27,205.07 L118.11,206.51 L118.96,207.92 L119.80,209.29 L120.64,210.63 L121.49,211.94 L122.33,213.21 L123.17,214.45 L124.02,215.66 L124.86,216.84 L125.71,217.99 L126.55,219.11 L127.39,220.20 L128.24,221.27 L129.08,222.31 L129.93,223.32 L130.77,224.30 L131.61,225.27 L132.46,226.20 L133.30,227.12 L134.14,228.01 L134.99,228.88 L135.83,229.72 L136.68,230.55 L137.52,231.35 L138.36,232.13 L139.21,232.90 L140.05,233.64 L140.89,234.37 L141.74,235.08 L142.58,235.77 L143.43,236.44 L144.27,237.10 L145.11,237.74 L145.96,238.36 L146.80,238.97 L147.64,239.56 L148.49,240.14 L149.33,240.70 L150.18,241.25 L151.02,241.78 L151.86,242.30 L152.71,242.81 L153.55,243.31 L154.39,243.79 L155.24,244.26 L156.08,244.72 L156.93,245.17 L157.77,245.60 L158.61,246.03 L159.46,246.44 L160.30,246.85 L161.14,247.24 L161.99,247.63 L162.83,248.00 L163.68,248.36 L164.52,248.72 L165.36,249.07 L166.21,249.41 L167.05,249.73 L167.89,250.06 L168.74,250.37 L169.58,250.67 L170.43,250.97 L171.27,251.26 L172.11,251.54 L172.96,251.82 L173.80,252.09 L174.64,252.35 L175.49,252.61 L176.33,252.85 L177.18,253.10 L178.02,253.33 L178.86,253.56 L179.71,253.79 L180.55,254.01 L181.39,254.22 L182.24,254.43 L183.08,254.63 L183.93,254.83 L184.77,255.02 L185.61,255.21 L186.46,255.39 L187.30,255.57 L188.14,255.75 L188.99,255.92 L189.83,256.08 L190.68,256.24 L191.52,256.40 L192.36,256.55 L193.21,256.70 L194.05,256.85 L194.89,256.99 L195.74,257.13 L196.58,257.26 L197.43,257.40 L198.27,257.52 L199.11,257.65 L199.96,257.77 L200.80,257.89 L201.64,258.01 L202.49,258.12 L203.33,258.23 L204.18,258.34 L205.02,258.44 L205.86,258.54 L206.71,258.64 L207.55,258.74 L208.39,258.83 L209.24,258.93 L210.08,259.02 L210.93,259.10" stroke="#d8b038" stroke-width="1.0" fill="none" stroke-linejoin="round" />
<path d="M47.80,276.11 L48.64,276.07 L49.49,276.03 L50.33,275.99 L51.17,275.95 L52.02,275.90 L52.86,275.86 L53.71,275.82 L54.55,275.78 L55.39,275.74 L56.24,275.69 L57.08,275.65 L57.92,275.61 L58.77,275.57 L59.61,275.53 L60.46,275.49 L61.30,275.44 L62.14,275.40 L62.99,275.36 L63.83,275.32 L64.67,275.28 L65.52,275.24 L66.36,275.19 L67.21,275.15 L68.05,275.11 L68.89,275.07 L69.74,275.03 L70.58,270.30 L70.72,268.04 L70.86,265.85 L71.00,263.71 L71.14,261.64 L71.28,259.62 L71.42,257.65 L71.57,255.74 L71.71,253.88 L71.85,252.07 L71.99,250.31 L72.13,248.59 L72.27,246.93 L72.41,245.31 L72.55,243.73 L73.39,235.12 L74.24,227.83 L75.08,221.64 L75.92,216.39 L76.77,211.95 L77.61,208.17 L78.46,204.98 L79.30,202.27 L80.14,199.97 L80.99,198.02 L81.83,196.36 L82.67,194.96 L83.52,193.78 L84.36,192.77 L85.21,191.91 L86.05,191.19 L86.89,190.58 L87.74,190.05 L88.58,189.61 L89.42,189.24 L90.27,188.92 L91.11,188.65 L91.96,188.42 L92.80,188.23 L93.64,188.07 L94.49,187.93 L95.33,187.81 L96.17,187.71 L97.02,187.62 L97.86,187.55 L98.71,187.49 L99.55,187.44 L100.39,187.40 L101.24,187.36 L102.08,187.33 L102.92,187.30 L103.77,187.28 L104.61,188.47 L105.46,190.23 L106.30,191.95 L107.14,193.63 L107.99,195.27 L108.83,196.87 L109.67,198.43 L110.52,199.96 L111.36,201.45 L112.21,202.90 L113.05,204.32 L113.89,205.71 L114.74,207.06 L115.58,208.38 L116.42,209.67 L117.27,210.93 L118.11,212.16 L118.96,213.36 L119.80,214.53 L120.64,215.68 L121.49,216.79 L122.33,217.88 L123.17,218.95 L124.02,219.99 L124.86,221.00 L125.71,221.99 L126.55,222.96 L127.39,223.90 L128.24,224.82 L129.08,225.72 L129.93,226.60 L130.77,227.46 L131.61,228.30 L132.46,229.12 L133.30,229.91 L134.14,230.69 L134.99,231.45 L135.83,232.20 L136.68,232.92 L137.52,233.63 L138.36,234.32 L139.21,234.99 L140.05,235.65 L140.89,236.30 L141.74,236.92 L142.58,237.54 L143.43,238.14 L144.27,238.72 L145.11,239.29 L145.96,239.85 L146.80,240.39 L147.64,240.92 L148.49,241.44 L149.33,241.94 L150.18,242.44 L151.02,242.92 L151.86,243.39 L152.71,243.85 L153.55,244.30 L154.39,244.74 L155.24,245.16 L156.08,245.58 L156.93,245.99 L157.77,246.39 L158.61,246.78 L159.46,247.16 L160.30,247.53 L161.14,247.89 L161.99,248.24 L162.83,248.58 L163.68,248.92 L164.52,249.25 L165.36,249.57 L166.21,249.88 L167.05,250.19 L167.89,250.49 L168.74,250.78 L169.58,251.06 L170.43,251.34 L171.27,251.61 L172.11,251.88 L172.96,252.13 L173.80,252.39 L174.64,252.63 L175.49,252.87 L176.33,253.11 L177.18,253.34 L178.02,253.56 L178.86,253.78 L179.71,253.99 L180.55,254.20 L181.39,254.40 L182.24,254.60 L183.08,254.79 L183.93,254.98 L184.77,255.17 L185.61,255.35 L186.46,255.52 L187.30,255.70 L188.14,255.86 L188.99,256.03 L189.83,256.19 L190.68,256.34 L191.52,256.50 L192.36,256.64 L193.21,256.79 L194.05,256.93 L194.89,257.07 L195.74,257.21 L196.58,257.34 L197.43,257.47 L198.27,257.59 L199.11,257.71 L199.96,257.83 L200.80,257.95 L201.64,258.07 L202.49,258.18 L203.33,258.29 L204.18,258.39 L205.02,258.50 L205.86,258.60 L206.71,258.70 L207.55,258.79 L208.39,258.89 L209.24,258.98 L210.08,259.07 L210.93,259.16" stroke="#e060b8" stroke-width="1.0" fill="none" stroke-linejoin="round" />
<path d="M47.80,276.11 L48.64,276.07 L49.49,276.03 L50.33,275.99 L51.17,275.95 L52.02,275.90 L52.86,275.86 L53.71,275.82 L54.55,275.78 L55.39,275.74 L56.24,275.69 L57.08,275.65 L57.92,275.61 L58.77,275.57 L59.61,275.53 L60.46,275.49 L61.30,275.44 L62.14,275.40 L62.99,275.36 L63.83,275.32 L64.67,275.28 L65.52,275.24 L66.36,275.19 L67.21,275.15 L68.05,275.11 L68.89,275.07 L69.74,275.03 L70.58,273.17 L70.72,272.27 L70.86,271.39 L71.00,270.52 L71.14,269.66 L71.28,268.81 L71.42,267.97 L71.57,267.14 L71.71,266.33 L71.85,265.52 L71.99,264.73 L72.13,263.95 L72.27,263.17 L72.41,262.41 L72.55,261.66 L73.39,257.36 L74.24,253.39 L75.08,249.73 L75.92,246.35 L76.77,243.24 L77.61,240.36 L78.46,237.72 L79.30,235.27 L80.14,233.02 L80.99,230.95 L81.83,229.03 L82.67,227.27 L83.52,225.64 L84.36,224.13 L85.21,222.75 L86.05,221.47 L86.89,220.29 L87.74,219.21 L88.58,218.21 L89.42,217.28 L90.27,216.43 L91.11,215.65 L91.96,214.92 L92.80,214.25 L93.64,213.64 L94.49,213.07 L95.33,212.54 L96.17,212.06 L97.02,211.62 L97.86,211.20 L98.71,210.83 L99.55,210.48 L100.39,210.15 L101.24,209.86 L102.08,209.58 L102.92,209.33 L103.77,209.10 L104.61,209.73 L105.46,210.76 L106.30,211.78 L107.14,212.78 L107.99,213.76 L108.83,214.72 L109.67,215.67 L110.52,216.59 L111.36,217.50 L112.21,218.39 L113.05,219.27 L113.89,220.13 L114.74,220.97 L115.58,221.80 L116.42,222.61 L117.27,223.41 L118.11,224.19 L118.96,224.96 L119.80,225.72 L120.64,226.46 L121.49,227.18 L122.33,227.89 L123.17,228.59 L124.02,229.28 L124.86,229.95 L125.71,230.62 L126.55,231.26 L127.39,231.90 L128.24,232.53 L129.08,233.14 L129.93,233.74 L130.77,234.33 L131.61,234.91 L132.46,235.48 L133.30,236.04 L134.14,236.59 L134.99,237.13 L135.83,237.65 L136.68,238.17 L137.52,238.68 L138.36,239.18 L139.21,239.67 L140.05,240.15 L140.89,240.62 L141.74,241.08 L142.58,241.54 L143.43,241.98 L144.27,242.42 L145.11,242.85 L145.96,243.27 L146.80,243.69 L147.64,244.09 L148.49,244.49 L149.33,244.88 L150.18,245.27 L151.02,245.64 L151.86,246.01 L152.71,246.38 L153.55,246.73 L154.39,247.08 L155.24,247.43 L156.08,247.76 L156.93,248.09 L157.77,248.42 L158.61,248.73 L159.46,249.05 L160.30,249.35 L161.14,249.65 L161.99,249.95 L162.83,250.24 L163.68,250.52 L164.52,250.80 L165.36,251.08 L166.21,251.35 L167.05,251.61 L167.89,251.87 L168.74,252.12 L169.58,252.37 L170.43,252.62 L171.27,252.86 L172.11,253.09 L172.96,253.32 L173.80,253.55 L174.64,253.77 L175.49,253.99 L176.33,254.21 L177.18,254.42 L178.02,254.62 L178.86,254.83 L179.71,255.03 L180.55,255.22 L181.39,255.41 L182.24,255.60 L183.08,255.79 L183.93,255.97 L184.77,256.15 L185.61,256.32 L186.46,256.49 L187.30,256.66 L188.14,256.83 L188.99,256.99 L189.83,257.15 L190.68,257.30 L191.52,257.46 L192.36,257.61 L193.21,257.75 L194.05,257.90 L194.89,258.04 L195.74,258.18 L196.58,258.32 L197.43,258.45 L198.27,258.58 L199.11,258.71 L199.96,258.84 L200.80,258.96 L201.64,259.09 L202.49,259.21 L203.33,259.32 L204.18,259.44 L205.02,259.55 L205.86,259.66 L206.71,259.77 L207.55,259.88 L208.39,259.99 L209.24,260.09 L210.08,260.19 L210.93,260.29" stroke="#40c048" stroke-width="1.0" fill="none" stroke-linejoin="round" />
<path d="M47.80,276.11 L48.64,276.07 L49.49,276.03 L50.33,275.99 L51.17,275.95 L52.02,275.90 L52.86,275.86 L53.71,275.82 L54.55,275.78 L55.39,275.74 L56.24,275.69 L57.08,275.65 L57.92,275.61 L58.77,275.57 L59.61,275.53 L60.46,275.49 L61.30,275.44 L62.14,275.40 L62.99,275.36 L63.83,275.32 L64.67,275.28 L65.52,275.24 L66.36,275.19 L67.21,275.15 L68.05,275.11 L68.89,275.07 L69.74,275.03 L70.58,274.38 L70.72,274.07 L70.86,273.76 L71.00,273.46 L71.14,273.16 L71.28,272.86 L71.42,272.56 L71.57,272.26 L71.71,271.97 L71.85,271.68 L71.99,271.38 L72.13,271.10 L72.27,270.81 L72.41,270.52 L72.55,270.24 L73.39,268.57 L74.24,266.97 L75.08,265.42 L75.92,263.93 L76.77,262.50 L77.61,261.12 L78.46,259.78 L79.30,258.50 L80.14,257.27 L80.99,256.08 L81.83,254.93 L82.67,253.83 L83.52,252.77 L84.36,251.74 L85.21,250.76 L86.05,249.81 L86.89,248.89 L87.74,248.01 L88.58,247.17 L89.42,246.35 L90.27,245.56 L91.11,244.80 L91.96,244.07 L92.80,243.37 L93.64,242.69 L94.49,242.04 L95.33,241.41 L96.17,240.80 L97.02,240.22 L97.86,239.66 L98.71,239.12 L99.55,238.60 L100.39,238.10 L101.24,237.61 L102.08,237.15 L102.92,236.70 L103.77,236.27 L104.61,236.47 L105.46,236.99 L106.30,237.49 L107.14,237.99 L107.99,238.47 L108.83,238.95 L109.67,239.42 L110.52,239.88 L111.36,240.34 L112.21,240.78 L113.05,241.22 L113.89,241.65 L114.74,242.07 L115.58,242.48 L116.42,242.89 L117.27,243.29 L118.11,243.68 L118.96,244.06 L119.80,244.44 L120.64,244.81 L121.49,245.18 L122.33,245.54 L123.17,245.89 L124.02,246.24 L124.86,246.57 L125.71,246.91 L126.55,247.24 L127.39,247.56 L128.24,247.87 L129.08,248.18 L129.93,248.49 L130.77,248.79 L131.61,249.08 L132.46,249.37 L133.30,249.65 L134.14,249.93 L134.99,250.21 L135.83,250.48 L136.68,250.74 L137.52,251.00 L138.36,251.25 L139.21,251.50 L140.05,251.75 L140.89,251.99 L141.74,252.23 L142.58,252.46 L143.43,252.69 L144.27,252.91 L145.11,253.13 L145.96,253.35 L146.80,253.56 L147.64,253.77 L148.49,253.98 L149.33,254.18 L150.18,254.38 L151.02,254.57 L151.86,254.76 L152.71,254.95 L153.55,255.13 L154.39,255.31 L155.24,255.49 L156.08,255.67 L156.93,255.84 L157.77,256.00 L158.61,256.17 L159.46,256.33 L160.30,256.49 L161.14,256.65 L161.99,256.80 L162.83,256.95 L163.68,257.10 L164.52,257.25 L165.36,257.39 L166.21,257.53 L167.05,257.67 L167.89,257.80 L168.74,257.94 L169.58,258.07 L170.43,258.20 L171.27,258.32 L172.11,258.45 L172.96,258.57 L173.80,258.69 L174.64,258.81 L175.49,258.92 L176.33,259.03 L177.18,259.15 L178.02,259.25 L178.86,259.36 L179.71,259.47 L180.55,259.57 L181.39,259.67 L182.24,259.77 L183.08,259.87 L183.93,259.97 L184.77,260.06 L185.61,260.15 L186.46,260.25 L187.30,260.34 L188.14,260.42 L188.99,260.51 L189.83,260.59 L190.68,260.68 L191.52,260.76 L192.36,260.84 L193.21,260.92 L194.05,261.00 L194.89,261.07 L195.74,261.15 L196.58,261.22 L197.43,261.29 L198.27,261.36 L199.11,261.43 L199.96,261.50 L200.80,261.57 L201.64,261.64 L202.49,261.70 L203.33,261.76 L204.18,261.83 L205.02,261.89 L205.86,261.95 L206.71,262.01 L207.55,262.07 L208.39,262.12 L209.24,262.18 L210.08,262.23 L210.93,262.29" stroke="#f0a040" stroke-width="1.0" fill="none" stroke-linejoin="round" />
<path d="M47.80,276.11 L48.64,276.07 L49.49,276.03 L50.33,275.99 L51.17,275.95 L52.02,275.90 L52.86,275.86 L53.71,275.82 L54.55,275.78 L55.39,275.74 L56.24,275.69 L57.08,275.65 L57.92,275.61 L58.77,275.57 L59.61,275.53 L60.46,275.49 L61.30,275.44 L62.14,275.40 L62.99,275.36 L63.83,275.32 L64.67,275.28 L65.52,275.24 L66.36,275.19 L67.21,275.15 L68.05,275.11 L68.89,275.07 L69.74,275.03 L70.58,274.73 L70.72,274.59 L70.86,274.46 L71.00,274.32 L71.14,274.19 L71.28,274.06 L71.42,273.93 L71.57,273.80 L71.71,273.67 L71.85,273.55 L71.99,273.42 L72.13,273.30 L72.27,273.17 L72.41,273.05 L72.55,272.93 L73.39,272.21 L74.24,271.52 L75.08,270.87 L75.92,270.24 L76.77,269.65 L77.61,269.07 L78.46,268.53 L79.30,268.01 L80.14,267.51 L80.99,267.03 L81.83,266.57 L82.67,266.14 L83.52,265.72 L84.36,265.32 L85.21,264.94 L86.05,264.57 L86.89,264.22 L87.74,263.89 L88.58,263.57 L89.42,263.27 L90.27,262.98 L91.11,262.70 L91.96,262.43 L92.80,262.18 L93.64,261.94 L94.49,261.70 L95.33,261.48 L96.17,261.27 L97.02,261.06 L97.86,260.87 L98.71,260.69 L99.55,260.51 L100.39,260.34 L101.24,260.18 L102.08,260.02 L102.92,259.87 L103.77,259.73 L104.61,259.83 L105.46,260.03 L106.30,260.24 L107.14,260.44 L107.99,260.63 L108.83,260.82 L109.67,261.00 L110.52,261.18 L111.36,261.36 L112.21,261.53 L113.05,261.70 L113.89,261.86 L114.74,262.02 L115.58,262.18 L116.42,262.33 L117.27,262.48 L118.11,262.63 L118.96,262.77 L119.80,262.91 L120.64,263.04 L121.49,263.17 L122.33,263.30 L123.17,263.43 L124.02,263.55 L124.86,263.67 L125.71,263.79 L126.55,263.90 L127.39,264.01 L128.24,264.12 L129.08,264.23 L129.93,264.33 L130.77,264.43 L131.61,264.53 L132.46,264.63 L133.30,264.72 L134.14,264.82 L134.99,264.91 L135.83,264.99 L136.68,265.08 L137.52,265.16 L138.36,265.24 L139.21,265.32 L140.05,265.40 L140.89,265.48 L141.74,265.55 L142.58,265.62 L143.43,265.70 L144.27,265.76 L145.11,265.83 L145.96,265.90 L146.80,265.96 L147.64,266.02 L148.49,266.09 L149.33,266.15 L150.18,266.20 L151.02,266.26 L151.86,266.32 L152.71,266.37 L153.55,266.42 L154.39,266.48 L155.24,266.53 L156.08,266.58 L156.93,266.62 L157.77,266.67 L158.61,266.72 L159.46,266.76 L160.30,266.80 L161.14,266.85 L161.99,266.89 L162.83,266.93 L163.68,266.97 L164.52,267.01 L165.36,267.05 L166.21,267.08 L167.05,267.12 L167.89,267.15 L168.74,267.19 L169.58,267.22 L170.43,267.26 L171.27,267.29 L172.11,267.32 L172.96,267.35 L173.80,267.38 L174.64,267.41 L175.49,267.44 L176.33,267.46 L177.18,267.49 L178.02,267.52 L178.86,267.54 L179.71,267.57 L180.55,267.59 L181.39,267.62 L182.24,267.64 L183.08,267.66 L183.93,267.69 L184.77,267.71 L185.61,267.73 L186.46,267.75 L187.30,267.77 L188.14,267.79 L188.99,267.81 L189.83,267.83 L190.68,267.85 L191.52,267.86 L192.36,267.88 L193.21,267.90 L194.05,267.92 L194.89,267.93 L195.74,267.95 L196.58,267.96 L197.43,267.98 L198.27,267.99 L199.11,268.01 L199.96,268.02 L200.80,268.04 L201.64,268.05 L202.49,268.06 L203.33,268.08 L204.18,268.09 L205.02,268.10 L205.86,268.11 L206.71,268.12 L207.55,268.14 L208.39,268.15 L209.24,268.16 L210.08,268.17 L210.93,268.18" stroke="#60a8e8" stroke-width="1.0" fill="none" stroke-linejoin="round" />
<path d="M47.80,276.11 L48.64,276.07 L49.49,276.03 L50.33,275.99 L51.17,275.95 L52.02,275.90 L52.86,275.86 L53.71,275.82 L54.55,275.78 L55.39,275.74 L56.24,275.69 L57.08,275.65 L57.92,275.61 L58.77,275.57 L59.61,275.53 L60.46,275.49 L61.30,275.44 L62.14,275.40 L62.99,275.36 L63.83,275.32 L64.67,275.28 L65.52,275.24 L66.36,275.19 L67.21,275.15 L68.05,275.11 L68.89,275.07 L69.74,275.03 L70.58,274.76 L70.72,274.65 L70.86,274.53 L71.00,274.42 L71.14,274.30 L71.28,274.19 L71.42,274.08 L71.57,273.97 L71.71,273.86 L71.85,273.75 L71.99,273.64 L72.13,273.53 L72.27,273.42 L72.41,273.31 L72.55,273.21 L73.39,272.59 L74.24,272.00 L75.08,271.43 L75.92,270.89 L76.77,270.38 L77.61,269.88 L78.46,269.41 L79.30,268.96 L80.14,268.53 L80.99,268.12 L81.83,267.72 L82.67,267.34 L83.52,266.98 L84.36,266.64 L85.21,266.31 L86.05,265.99 L86.89,265.69 L87.74,265.41 L88.58,265.13 L89.42,264.87 L90.27,264.62 L91.11,264.38 L91.96,264.15 L92.80,263.93 L93.64,263.72 L94.49,263.52 L95.33,263.32 L96.17,263.14 L97.02,262.97 L97.86,262.80 L98.71,262.64 L99.55,262.48 L100.39,262.34 L101.24,262.20 L102.08,262.06 L102.92,261.94 L103.77,261.81 L104.61,261.91 L105.46,262.11 L106.30,262.30 L107.14,262.49 L107.99,262.67 L108.83,262.85 L109.67,263.03 L110.52,263.20 L111.36,263.37 L112.21,263.53 L113.05,263.69 L113.89,263.85 L114.74,264.00 L115.58,264.15 L116.42,264.30 L117.27,264.44 L118.11,264.58 L118.96,264.71 L119.80,264.84 L120.64,264.97 L121.49,265.10 L122.33,265.22 L123.17,265.34 L124.02,265.46 L124.86,265.57 L125.71,265.68 L126.55,265.79 L127.39,265.90 L128.24,266.00 L129.08,266.10 L129.93,266.20 L130.77,266.30 L131.61,266.39 L132.46,266.48 L133.30,266.57 L134.14,266.66 L134.99,266.75 L135.83,266.83 L136.68,266.91 L137.52,266.99 L138.36,267.07 L139.21,267.15 L140.05,267.22 L140.89,267.29 L141.74,267.36 L142.58,267.43 L143.43,267.50 L144.27,267.57 L145.11,267.63 L145.96,267.69 L146.80,267.75 L147.64,267.81 L148.49,267.87 L149.33,267.93 L150.18,267.98 L151.02,268.04 L151.86,268.09 L152.71,268.14 L153.55,268.19 L154.39,268.24 L155.24,268.29 L156.08,268.34 L156.93,268.38 L157.77,268.43 L158.61,268.47 L159.46,268.52 L160.30,268.56 L161.14,268.60 L161.99,268.64 L162.83,268.68 L163.68,268.71 L164.52,268.75 L165.36,268.79 L166.21,268.82 L167.05,268.86 L167.89,268.89 L168.74,268.92 L169.58,268.96 L170.43,268.99 L171.27,269.02 L172.11,269.05 L172.96,269.08 L173.80,269.11 L174.64,269.13 L175.49,269.16 L176.33,269.19 L177.18,269.21 L178.02,269.24 L178.86,269.26 L179.71,269.29 L180.55,269.31 L181.39,269.33 L182.24,269.35 L183.08,269.38 L183.93,269.40 L184.77,269.42 L185.61,269.44 L186.46,269.46 L187.30,269.48 L188.14,269.50 L188.99,269.52 L189.83,269.53 L190.68,269.55 L191.52,269.57 L192.36,269.58 L193.21,269.60 L194.05,269.62 L194.89,269.63 L195.74,269.65 L196.58,269.66 L197.43,269.68 L198.27,269.69 L199.11,269.70 L199.96,269.72 L200.80,269.73 L201.64,269.74 L202.49,269.76 L203.33,269.77 L204.18,269.78 L205.02,269.79 L205.86,269.80 L206.71,269.82 L207.55,269.83 L208.39,269.84 L209.24,269.85 L210.08,269.86 L210.93,269.87" stroke="#e04848" stroke-width="1.0" fill="none" stroke-linejoin="round" />
<path d="M47.80,276.11 L48.64,276.07 L49.49,276.03 L50.33,275.99 L51.17,275.95 L52.02,275.90 L52.86,275.86 L53.71,275.82 L54.55,275.78 L55.39,275.74 L56.24,275.69 L57.08,275.65 L57.92,275.61 L58.77,275.57 L59.61,275.53 L60.46,275.49 L61.30,275.44 L62.14,275.40 L62.99,275.36 L63.83,275.32 L64.67,275.28 L65.52,275.24 L66.36,275.19 L67.21,275.15 L68.05,275.11 L68.89,275.07 L69.74,275.03 L70.58,258.35 L70.72,251.19 L70.86,244.71 L71.00,238.85 L71.14,233.54 L71.28,228.74 L71.42,224.39 L71.57,220.45 L71.71,216.89 L71.85,213.67 L71.99,210.75 L72.13,208.11 L72.27,205.72 L72.41,203.56 L72.55,201.60 L73.39,193.17 L74.24,188.51 L75.08,185.93 L75.92,184.48 L76.77,183.65 L77.61,183.16 L78.46,182.87 L79.30,182.67 L80.14,182.53 L80.99,182.43 L81.83,182.34 L82.67,182.25 L83.52,182.18 L84.36,182.11 L85.21,182.03 L86.05,181.96 L86.89,181.89 L87.74,181.82 L88.58,181.75 L89.42,181.68 L90.27,181.62 L91.11,181.55 L91.96,181.48 L92.80,181.41 L93.64,181.34 L94.49,181.27 L95.33,181.20 L96.17,181.13 L97.02,181.06 L97.86,180.99 L98.71,180.92 L99.55,180.85 L100.39,180.78 L101.24,180.71 L102.08,180.64 L102.92,180.57 L103.77,180.50 L104.61,181.86 L105.46,183.88 L106.30,185.85 L107.14,187.78 L107.99,189.65 L108.83,191.48 L109.67,193.26 L110.52,194.99 L111.36,196.69 L112.21,198.34 L113.05,199.94 L113.89,201.51 L114.74,203.04 L115.58,204.53 L116.42,205.98 L117.27,207.40 L118.11,208.78 L118.96,210.12 L119.80,211.43 L120.64,212.71 L121.49,213.96 L122.33,215.17 L123.17,216.36 L124.02,217.51 L124.86,218.64 L125.71,219.74 L126.55,220.81 L127.39,221.85 L128.24,222.86 L129.08,223.85 L129.93,224.82 L130.77,225.76 L131.61,226.68 L132.46,227.57 L133.30,228.45 L134.14,229.30 L134.99,230.13 L135.83,230.93 L136.68,231.72 L137.52,232.49 L138.36,233.24 L139.21,233.97 L140.05,234.68 L140.89,235.37 L141.74,236.05 L142.58,236.71 L143.43,237.35 L144.27,237.97 L145.11,238.58 L145.96,239.18 L146.80,239.76 L147.64,240.32 L148.49,240.87 L149.33,241.41 L150.18,241.94 L151.02,242.45 L151.86,242.94 L152.71,243.43 L153.55,243.90 L154.39,244.36 L155.24,244.81 L156.08,245.25 L156.93,245.68 L157.77,246.09 L158.61,246.50 L159.46,246.90 L160.30,247.28 L161.14,247.66 L161.99,248.02 L162.83,248.38 L163.68,248.73 L164.52,249.07 L165.36,249.40 L166.21,249.72 L167.05,250.04 L167.89,250.34 L168.74,250.64 L169.58,250.93 L170.43,251.22 L171.27,251.49 L172.11,251.76 L172.96,252.03 L173.80,252.28 L174.64,252.53 L175.49,252.78 L176.33,253.01 L177.18,253.25 L178.02,253.47 L178.86,253.69 L179.71,253.91 L180.55,254.12 L181.39,254.32 L182.24,254.52 L183.08,254.71 L183.93,254.90 L184.77,255.08 L185.61,255.26 L186.46,255.44 L187.30,255.61 L188.14,255.78 L188.99,255.94 L189.83,256.10 L190.68,256.25 L191.52,256.40 L192.36,256.55 L193.21,256.69 L194.05,256.83 L194.89,256.96 L195.74,257.10 L196.58,257.22 L197.43,257.35 L198.27,257.47 L199.11,257.59 L199.96,257.71 L200.80,257.82 L201.64,257.93 L202.49,258.04 L203.33,258.14 L204.18,258.25 L205.02,258.35 L205.86,258.44 L206.71,258.54 L207.55,258.63 L208.39,258.72 L209.24,258.81 L210.08,258.90 L210.93,258.98" stroke="#111" stroke-width="0.85" fill="none" stroke-linejoin="round" />
<path d="M47.80,276.11 L48.64,276.07 L49.49,276.03 L50.33,275.99 L51.17,275.95 L52.02,275.90 L52.86,275.86 L53.71,275.82 L54.55,275.78 L55.39,275.74 L56.24,275.69 L57.08,275.65 L57.92,275.61 L58.77,275.57 L59.61,275.53 L60.46,275.49 L61.30,275.44 L62.14,275.40 L62.99,275.36 L63.83,275.32 L64.67,275.28 L65.52,275.24 L66.36,275.19 L67.21,275.15 L68.05,275.11 L68.89,275.07 L69.74,275.03 L70.58,270.74 L70.72,268.69 L70.86,266.69 L71.00,264.74 L71.14,262.84 L71.28,260.99 L71.42,259.18 L71.57,257.41 L71.71,255.69 L71.85,254.01 L71.99,252.38 L72.13,250.78 L72.27,249.22 L72.41,247.70 L72.55,246.22 L73.39,238.07 L74.24,231.06 L75.08,225.02 L75.92,219.82 L76.77,215.35 L77.61,211.50 L78.46,208.18 L79.30,205.33 L80.14,202.88 L80.99,200.76 L81.83,198.95 L82.67,197.38 L83.52,196.03 L84.36,194.87 L85.21,193.88 L86.05,193.02 L86.89,192.28 L87.74,191.64 L88.58,191.09 L89.42,190.62 L90.27,190.22 L91.11,189.87 L91.96,189.57 L92.80,189.31 L93.64,189.08 L94.49,188.89 L95.33,188.73 L96.17,188.59 L97.02,188.46 L97.86,188.36 L98.71,188.27 L99.55,188.19 L100.39,188.12 L101.24,188.06 L102.08,188.02 L102.92,187.97 L103.77,187.94 L104.61,189.14 L105.46,190.93 L106.30,192.67 L107.14,194.37 L107.99,196.03 L108.83,197.65 L109.67,199.22 L110.52,200.76 L111.36,202.27 L112.21,203.73 L113.05,205.16 L113.89,206.56 L114.74,207.92 L115.58,209.24 L116.42,210.54 L117.27,211.80 L118.11,213.03 L118.96,214.24 L119.80,215.41 L120.64,216.55 L121.49,217.67 L122.33,218.76 L123.17,219.82 L124.02,220.86 L124.86,221.87 L125.71,222.85 L126.55,223.82 L127.39,224.75 L128.24,225.67 L129.08,226.56 L129.93,227.44 L130.77,228.29 L131.61,229.11 L132.46,229.92 L133.30,230.71 L134.14,231.48 L134.99,232.23 L135.83,232.97 L136.68,233.68 L137.52,234.38 L138.36,235.06 L139.21,235.72 L140.05,236.37 L140.89,237.00 L141.74,237.62 L142.58,238.22 L143.43,238.81 L144.27,239.38 L145.11,239.94 L145.96,240.48 L146.80,241.01 L147.64,241.53 L148.49,242.04 L149.33,242.53 L150.18,243.01 L151.02,243.48 L151.86,243.94 L152.71,244.39 L153.55,244.82 L154.39,245.25 L155.24,245.66 L156.08,246.07 L156.93,246.46 L157.77,246.85 L158.61,247.22 L159.46,247.59 L160.30,247.95 L161.14,248.29 L161.99,248.63 L162.83,248.97 L163.68,249.29 L164.52,249.61 L165.36,249.91 L166.21,250.21 L167.05,250.51 L167.89,250.79 L168.74,251.07 L169.58,251.35 L170.43,251.61 L171.27,251.87 L172.11,252.12 L172.96,252.37 L173.80,252.61 L174.64,252.84 L175.49,253.07 L176.33,253.30 L177.18,253.52 L178.02,253.73 L178.86,253.94 L179.71,254.14 L180.55,254.34 L181.39,254.53 L182.24,254.72 L183.08,254.90 L183.93,255.08 L184.77,255.25 L185.61,255.42 L186.46,255.59 L187.30,255.75 L188.14,255.91 L188.99,256.06 L189.83,256.21 L190.68,256.36 L191.52,256.50 L192.36,256.64 L193.21,256.78 L194.05,256.91 L194.89,257.04 L195.74,257.17 L196.58,257.29 L197.43,257.41 L198.27,257.53 L199.11,257.64 L199.96,257.75 L200.80,257.86 L201.64,257.97 L202.49,258.07 L203.33,258.17 L204.18,258.27 L205.02,258.37 L205.86,258.46 L206.71,258.55 L207.55,258.64 L208.39,258.73 L209.24,258.82 L210.08,258.90 L210.93,258.98" stroke="#111" stroke-width="0.85" fill="none" stroke-linejoin="round" />
<path d="M47.80,276.11 L48.64,276.07 L49.49,276.03 L50.33,275.99 L51.17,275.95 L52.02,275.90 L52.86,275.86 L53.71,275.82 L54.55,275.78 L55.39,275.74 L56.24,275.69 L57.08,275.65 L57.92,275.61 L58.77,275.57 L59.61,275.53 L60.46,275.49 L61.30,275.44 L62.14,275.40 L62.99,275.36 L63.83,275.32 L64.67,275.28 L65.52,275.24 L66.36,275.19 L67.21,275.15 L68.05,275.11 L68.89,275.07 L69.74,275.03 L70.58,273.33 L70.72,272.50 L70.86,271.69 L71.00,270.89 L71.14,270.10 L71.28,269.32 L71.42,268.54 L71.57,267.78 L71.71,267.03 L71.85,266.29 L71.99,265.55 L72.13,264.83 L72.27,264.11 L72.41,263.40 L72.55,262.70 L73.39,258.69 L74.24,254.97 L75.08,251.51 L75.92,248.31 L76.77,245.34 L77.61,242.58 L78.46,240.02 L79.30,237.65 L80.14,235.44 L80.99,233.40 L81.83,231.51 L82.67,229.75 L83.52,228.12 L84.36,226.60 L85.21,225.20 L86.05,223.90 L86.89,222.69 L87.74,221.57 L88.58,220.52 L89.42,219.56 L90.27,218.66 L91.11,217.83 L91.96,217.06 L92.80,216.35 L93.64,215.68 L94.49,215.07 L95.33,214.50 L96.17,213.97 L97.02,213.48 L97.86,213.02 L98.71,212.60 L99.55,212.21 L100.39,211.84 L101.24,211.50 L102.08,211.19 L102.92,210.90 L103.77,210.63 L104.61,211.27 L105.46,212.33 L106.30,213.38 L107.14,214.40 L107.99,215.40 L108.83,216.39 L109.67,217.35 L110.52,218.29 L111.36,219.22 L112.21,220.13 L113.05,221.01 L113.89,221.88 L114.74,222.74 L115.58,223.57 L116.42,224.39 L117.27,225.20 L118.11,225.98 L118.96,226.75 L119.80,227.51 L120.64,228.25 L121.49,228.97 L122.33,229.68 L123.17,230.38 L124.02,231.06 L124.86,231.73 L125.71,232.39 L126.55,233.03 L127.39,233.66 L128.24,234.28 L129.08,234.88 L129.93,235.47 L130.77,236.06 L131.61,236.62 L132.46,237.18 L133.30,237.73 L134.14,238.26 L134.99,238.79 L135.83,239.30 L136.68,239.81 L137.52,240.30 L138.36,240.78 L139.21,241.26 L140.05,241.72 L140.89,242.18 L141.74,242.62 L142.58,243.06 L143.43,243.49 L144.27,243.91 L145.11,244.32 L145.96,244.72 L146.80,245.12 L147.64,245.51 L148.49,245.89 L149.33,246.26 L150.18,246.62 L151.02,246.98 L151.86,247.33 L152.71,247.67 L153.55,248.01 L154.39,248.34 L155.24,248.66 L156.08,248.98 L156.93,249.29 L157.77,249.59 L158.61,249.89 L159.46,250.18 L160.30,250.47 L161.14,250.75 L161.99,251.02 L162.83,251.29 L163.68,251.55 L164.52,251.81 L165.36,252.06 L166.21,252.31 L167.05,252.55 L167.89,252.79 L168.74,253.03 L169.58,253.26 L170.43,253.48 L171.27,253.70 L172.11,253.91 L172.96,254.13 L173.80,254.33 L174.64,254.53 L175.49,254.73 L176.33,254.93 L177.18,255.12 L178.02,255.30 L178.86,255.49 L179.71,255.67 L180.55,255.84 L181.39,256.02 L182.24,256.18 L183.08,256.35 L183.93,256.51 L184.77,256.67 L185.61,256.83 L186.46,256.98 L187.30,257.13 L188.14,257.27 L188.99,257.42 L189.83,257.56 L190.68,257.70 L191.52,257.83 L192.36,257.96 L193.21,258.09 L194.05,258.22 L194.89,258.35 L195.74,258.47 L196.58,258.59 L197.43,258.70 L198.27,258.82 L199.11,258.93 L199.96,259.04 L200.80,259.15 L201.64,259.26 L202.49,259.36 L203.33,259.46 L204.18,259.56 L205.02,259.66 L205.86,259.76 L206.71,259.85 L207.55,259.94 L208.39,260.03 L209.24,260.12 L210.08,260.21 L210.93,260.29" stroke="#111" stroke-width="0.85" fill="none" stroke-linejoin="round" />
<path d="M47.80,276.11 L48.64,276.07 L49.49,276.03 L50.33,275.99 L51.17,275.95 L52.02,275.90 L52.86,275.86 L53.71,275.82 L54.55,275.78 L55.39,275.74 L56.24,275.69 L57.08,275.65 L57.92,275.61 L58.77,275.57 L59.61,275.53 L60.46,275.49 L61.30,275.44 L62.14,275.40 L62.99,275.36 L63.83,275.32 L64.67,275.28 L65.52,275.24 L66.36,275.19 L67.21,275.15 L68.05,275.11 L68.89,275.07 L69.74,275.03 L70.58,274.43 L70.72,274.15 L70.86,273.87 L71.00,273.59 L71.14,273.31 L71.28,273.04 L71.42,272.76 L71.57,272.49 L71.71,272.22 L71.85,271.95 L71.99,271.69 L72.13,271.42 L72.27,271.16 L72.41,270.90 L72.55,270.63 L73.39,269.11 L74.24,267.64 L75.08,266.22 L75.92,264.85 L76.77,263.54 L77.61,262.27 L78.46,261.05 L79.30,259.88 L80.14,258.75 L80.99,257.66 L81.83,256.61 L82.67,255.59 L83.52,254.62 L84.36,253.68 L85.21,252.78 L86.05,251.91 L86.89,251.07 L87.74,250.26 L88.58,249.48 L89.42,248.74 L90.27,248.01 L91.11,247.32 L91.96,246.65 L92.80,246.00 L93.64,245.38 L94.49,244.79 L95.33,244.21 L96.17,243.65 L97.02,243.12 L97.86,242.60 L98.71,242.11 L99.55,241.63 L100.39,241.17 L101.24,240.73 L102.08,240.30 L102.92,239.89 L103.77,239.49 L104.61,239.81 L105.46,240.46 L106.30,241.09 L107.14,241.71 L107.99,242.32 L108.83,242.91 L109.67,243.48 L110.52,244.05 L111.36,244.60 L112.21,245.13 L113.05,245.66 L113.89,246.17 L114.74,246.67 L115.58,247.15 L116.42,247.63 L117.27,248.09 L118.11,248.55 L118.96,248.99 L119.80,249.42 L120.64,249.84 L121.49,250.26 L122.33,250.66 L123.17,251.05 L124.02,251.43 L124.86,251.81 L125.71,252.17 L126.55,252.53 L127.39,252.88 L128.24,253.22 L129.08,253.55 L129.93,253.87 L130.77,254.19 L131.61,254.50 L132.46,254.80 L133.30,255.10 L134.14,255.38 L134.99,255.66 L135.83,255.94 L136.68,256.21 L137.52,256.47 L138.36,256.72 L139.21,256.97 L140.05,257.21 L140.89,257.45 L141.74,257.68 L142.58,257.91 L143.43,258.13 L144.27,258.34 L145.11,258.55 L145.96,258.76 L146.80,258.96 L147.64,259.16 L148.49,259.35 L149.33,259.53 L150.18,259.72 L151.02,259.89 L151.86,260.07 L152.71,260.24 L153.55,260.40 L154.39,260.56 L155.24,260.72 L156.08,260.88 L156.93,261.03 L157.77,261.17 L158.61,261.32 L159.46,261.46 L160.30,261.59 L161.14,261.73 L161.99,261.86 L162.83,261.98 L163.68,262.11 L164.52,262.23 L165.36,262.35 L166.21,262.46 L167.05,262.58 L167.89,262.69 L168.74,262.79 L169.58,262.90 L170.43,263.00 L171.27,263.10 L172.11,263.20 L172.96,263.29 L173.80,263.39 L174.64,263.48 L175.49,263.57 L176.33,263.65 L177.18,263.74 L178.02,263.82 L178.86,263.90 L179.71,263.98 L180.55,264.06 L181.39,264.13 L182.24,264.20 L183.08,264.27 L183.93,264.34 L184.77,264.41 L185.61,264.48 L186.46,264.54 L187.30,264.61 L188.14,264.67 L188.99,264.73 L189.83,264.79 L190.68,264.85 L191.52,264.90 L192.36,264.96 L193.21,265.01 L194.05,265.06 L194.89,265.11 L195.74,265.16 L196.58,265.21 L197.43,265.26 L198.27,265.31 L199.11,265.35 L199.96,265.40 L200.80,265.44 L201.64,265.48 L202.49,265.52 L203.33,265.56 L204.18,265.60 L205.02,265.64 L205.86,265.68 L206.71,265.71 L207.55,265.75 L208.39,265.78 L209.24,265.82 L210.08,265.85 L210.93,265.88" stroke="#111" stroke-width="0.85" fill="none" stroke-linejoin="round" />
<path d="M47.80,276.11 L48.64,276.07 L49.49,276.03 L50.33,275.99 L51.17,275.95 L52.02,275.90 L52.86,275.86 L53.71,275.82 L54.55,275.78 L55.39,275.74 L56.24,275.69 L57.08,275.65 L57.92,275.61 L58.77,275.57 L59.61,275.53 L60.46,275.49 L61.30,275.44 L62.14,275.40 L62.99,275.36 L63.83,275.32 L64.67,275.28 L65.52,275.24 L66.36,275.19 L67.21,275.15 L68.05,275.11 L68.89,275.07 L69.74,275.03 L70.58,274.77 L70.72,274.66 L70.86,274.55 L71.00,274.44 L71.14,274.33 L71.28,274.22 L71.42,274.11 L71.57,274.00 L71.71,273.90 L71.85,273.79 L71.99,273.68 L72.13,273.58 L72.27,273.48 L72.41,273.37 L72.55,273.27 L73.39,272.67 L74.24,272.10 L75.08,271.56 L75.92,271.04 L76.77,270.54 L77.61,270.06 L78.46,269.61 L79.30,269.17 L80.14,268.75 L80.99,268.36 L81.83,267.98 L82.67,267.61 L83.52,267.26 L84.36,266.93 L85.21,266.61 L86.05,266.31 L86.89,266.02 L87.74,265.74 L88.58,265.48 L89.42,265.22 L90.27,264.98 L91.11,264.75 L91.96,264.53 L92.80,264.32 L93.64,264.11 L94.49,263.92 L95.33,263.73 L96.17,263.56 L97.02,263.39 L97.86,263.23 L98.71,263.07 L99.55,262.92 L100.39,262.78 L101.24,262.65 L102.08,262.52 L102.92,262.39 L103.77,262.28 L104.61,262.32 L105.46,262.43 L106.30,262.55 L107.14,262.66 L107.99,262.76 L108.83,262.87 L109.67,262.97 L110.52,263.07 L111.36,263.17 L112.21,263.27 L113.05,263.36 L113.89,263.45 L114.74,263.54 L115.58,263.63 L116.42,263.71 L117.27,263.80 L118.11,263.88 L118.96,263.96 L119.80,264.04 L120.64,264.11 L121.49,264.18 L122.33,264.26 L123.17,264.33 L124.02,264.39 L124.86,264.46 L125.71,264.53 L126.55,264.59 L127.39,264.65 L128.24,264.71 L129.08,264.77 L129.93,264.83 L130.77,264.89 L131.61,264.94 L132.46,265.00 L133.30,265.05 L134.14,265.10 L134.99,265.15 L135.83,265.20 L136.68,265.25 L137.52,265.29 L138.36,265.34 L139.21,265.38 L140.05,265.43 L140.89,265.47 L141.74,265.51 L142.58,265.55 L143.43,265.59 L144.27,265.63 L145.11,265.67 L145.96,265.70 L146.80,265.74 L147.64,265.78 L148.49,265.81 L149.33,265.84 L150.18,265.88 L151.02,265.91 L151.86,265.94 L152.71,265.97 L153.55,266.00 L154.39,266.03 L155.24,266.06 L156.08,266.08 L156.93,266.11 L157.77,266.14 L158.61,266.16 L159.46,266.19 L160.30,266.21 L161.14,266.23 L161.99,266.26 L162.83,266.28 L163.68,266.30 L164.52,266.32 L165.36,266.35 L166.21,266.37 L167.05,266.39 L167.89,266.41 L168.74,266.43 L169.58,266.44 L170.43,266.46 L171.27,266.48 L172.11,266.50 L172.96,266.51 L173.80,266.53 L174.64,266.55 L175.49,266.56 L176.33,266.58 L177.18,266.59 L178.02,266.61 L178.86,266.62 L179.71,266.64 L180.55,266.65 L181.39,266.66 L182.24,266.68 L183.08,266.69 L183.93,266.70 L184.77,266.71 L185.61,266.73 L186.46,266.74 L187.30,266.75 L188.14,266.76 L188.99,266.77 L189.83,266.78 L190.68,266.79 L191.52,266.80 L192.36,266.81 L193.21,266.82 L194.05,266.83 L194.89,266.84 L195.74,266.85 L196.58,266.86 L197.43,266.87 L198.27,266.87 L199.11,266.88 L199.96,266.89 L200.80,266.90 L201.64,266.91 L202.49,266.91 L203.33,266.92 L204.18,266.93 L205.02,266.93 L205.86,266.94 L206.71,266.95 L207.55,266.95 L208.39,266.96 L209.24,266.97 L210.08,266.97 L210.93,266.98" stroke="#111" stroke-width="0.85" fill="none" stroke-linejoin="round" />
<path d="M47.80,276.11 L48.64,276.07 L49.49,276.03 L50.33,275.99 L51.17,275.95 L52.02,275.90 L52.86,275.86 L53.71,275.82 L54.55,275.78 L55.39,275.74 L56.24,275.69 L57.08,275.65 L57.92,275.61 L58.77,275.57 L59.61,275.53 L60.46,275.49 L61.30,275.44 L62.14,275.40 L62.99,275.36 L63.83,275.32 L64.67,275.28 L65.52,275.24 L66.36,275.19 L67.21,275.15 L68.05,275.11 L68.89,275.07 L69.74,275.03 L70.58,274.95 L70.72,274.93 L70.86,274.91 L71.00,274.88 L71.14,274.86 L71.28,274.84 L71.42,274.81 L71.57,274.79 L71.71,274.77 L71.85,274.75 L71.99,274.72 L72.13,274.70 L72.27,274.68 L72.41,274.65 L72.55,274.63 L73.39,274.49 L74.24,274.35 L75.08,274.21 L75.92,274.07 L76.77,273.93 L77.61,273.80 L78.46,273.66 L79.30,273.52 L80.14,273.38 L80.99,273.24 L81.83,273.10 L82.67,272.96 L83.52,272.82 L84.36,272.68 L85.21,272.54 L86.05,272.41 L86.89,272.27 L87.74,272.13 L88.58,271.99 L89.42,271.85 L90.27,271.71 L91.11,271.57 L91.96,271.43 L92.80,271.29 L93.64,271.15 L94.49,271.02 L95.33,270.88 L96.17,270.74 L97.02,270.60 L97.86,270.46 L98.71,270.32 L99.55,270.18 L100.39,270.04 L101.24,269.90 L102.08,269.76 L102.92,269.63 L103.77,269.49 L104.61,269.42 L105.46,269.39 L106.30,269.36 L107.14,269.34 L107.99,269.31 L108.83,269.28 L109.67,269.25 L110.52,269.23 L111.36,269.20 L112.21,269.18 L113.05,269.15 L113.89,269.13 L114.74,269.10 L115.58,269.08 L116.42,269.06 L117.27,269.03 L118.11,269.01 L118.96,268.99 L119.80,268.96 L120.64,268.94 L121.49,268.92 L122.33,268.90 L123.17,268.88 L124.02,268.86 L124.86,268.84 L125.71,268.82 L126.55,268.80 L127.39,268.78 L128.24,268.76 L129.08,268.74 L129.93,268.72 L130.77,268.70 L131.61,268.69 L132.46,268.67 L133.30,268.65 L134.14,268.63 L134.99,268.62 L135.83,268.60 L136.68,268.58 L137.52,268.57 L138.36,268.55 L139.21,268.54 L140.05,268.52 L140.89,268.50 L141.74,268.49 L142.58,268.47 L143.43,268.46 L144.27,268.45 L145.11,268.43 L145.96,268.42 L146.80,268.40 L147.64,268.39 L148.49,268.38 L149.33,268.36 L150.18,268.35 L151.02,268.34 L151.86,268.33 L152.71,268.31 L153.55,268.30 L154.39,268.29 L155.24,268.28 L156.08,268.27 L156.93,268.25 L157.77,268.24 L158.61,268.23 L159.46,268.22 L160.30,268.21 L161.14,268.20 L161.99,268.19 L162.83,268.18 L163.68,268.17 L164.52,268.16 L165.36,268.15 L166.21,268.14 L167.05,268.13 L167.89,268.12 L168.74,268.11 L169.58,268.10 L170.43,268.09 L171.27,268.08 L172.11,268.07 L172.96,268.07 L173.80,268.06 L174.64,268.05 L175.49,268.04 L176.33,268.03 L177.18,268.02 L178.02,268.02 L178.86,268.01 L179.71,268.00 L180.55,267.99 L181.39,267.99 L182.24,267.98 L183.08,267.97 L183.93,267.96 L184.77,267.96 L185.61,267.95 L186.46,267.94 L187.30,267.94 L188.14,267.93 L188.99,267.92 L189.83,267.92 L190.68,267.91 L191.52,267.90 L192.36,267.90 L193.21,267.89 L194.05,267.89 L194.89,267.88 L195.74,267.88 L196.58,267.87 L197.43,267.86 L198.27,267.86 L199.11,267.85 L199.96,267.85 L200.80,267.84 L201.64,267.84 L202.49,267.83 L203.33,267.83 L204.18,267.82 L205.02,267.82 L205.86,267.81 L206.71,267.81 L207.55,267.80 L208.39,267.80 L209.24,267.79 L210.08,267.79 L210.93,267.79" stroke="#111" stroke-width="0.85" fill="none" stroke-linejoin="round" />
<path d="M99.9,174.4 L100.2,180.0 M102.5,174.4 L102.8,180.0 M100.0,177.5 L102.7,176.9" stroke="#3b4c62" stroke-width="1.35" fill="none"/>
<path d="M99.9,185.6 L100.2,191.2 M102.5,185.6 L102.8,191.2 M100.0,188.7 L102.7,188.1" stroke="#3b4c62" stroke-width="1.35" fill="none"/>
<path d="M99.9,206.0 L100.2,211.6 M102.5,206.0 L102.8,211.6 M100.0,209.1 L102.7,208.5" stroke="#3b4c62" stroke-width="1.35" fill="none"/>
<path d="M99.9,233.0 L100.2,238.6 M102.5,233.0 L102.8,238.6 M100.0,236.1 L102.7,235.5" stroke="#3b4c62" stroke-width="1.35" fill="none"/>
<path d="M99.9,254.8 L100.2,260.4 M102.5,254.8 L102.8,260.4 M100.0,257.9 L102.7,257.3" stroke="#3b4c62" stroke-width="1.35" fill="none"/>
<path d="M99.9,257.4 L100.2,263.0 M102.5,257.4 L102.8,263.0 M100.0,260.5 L102.7,259.9" stroke="#3b4c62" stroke-width="1.35" fill="none"/>
<line x1="265.00" y1="172.00" x2="265.00" y2="280.60" stroke="#4f6073" stroke-width="1.1" />
<line x1="265.00" y1="280.60" x2="437.70" y2="280.60" stroke="#4f6073" stroke-width="1.1" />
<line x1="262.20" y1="274.80" x2="265.00" y2="274.80" stroke="#4f6073" stroke-width="0.9" />
<text x="260.0" y="277.6" font-size="7.9" fill="#46586b" font-weight="normal" text-anchor="end" >0</text>
<line x1="262.20" y1="256.02" x2="265.00" y2="256.02" stroke="#4f6073" stroke-width="0.9" />
<text x="260.0" y="258.8" font-size="7.9" fill="#46586b" font-weight="normal" text-anchor="end" >50</text>
<line x1="262.20" y1="237.24" x2="265.00" y2="237.24" stroke="#4f6073" stroke-width="0.9" />
<text x="260.0" y="240.0" font-size="7.9" fill="#46586b" font-weight="normal" text-anchor="end" >100</text>
<line x1="262.20" y1="218.46" x2="265.00" y2="218.46" stroke="#4f6073" stroke-width="0.9" />
<text x="260.0" y="221.3" font-size="7.9" fill="#46586b" font-weight="normal" text-anchor="end" >150</text>
<line x1="262.20" y1="199.68" x2="265.00" y2="199.68" stroke="#4f6073" stroke-width="0.9" />
<text x="260.0" y="202.5" font-size="7.9" fill="#46586b" font-weight="normal" text-anchor="end" >200</text>
<line x1="262.20" y1="180.90" x2="265.00" y2="180.90" stroke="#4f6073" stroke-width="0.9" />
<text x="260.0" y="183.7" font-size="7.9" fill="#46586b" font-weight="normal" text-anchor="end" >250</text>
<line x1="263.40" y1="265.41" x2="265.00" y2="265.41" stroke="#4f6073" stroke-width="0.8" />
<line x1="263.40" y1="246.63" x2="265.00" y2="246.63" stroke="#4f6073" stroke-width="0.8" />
<line x1="263.40" y1="227.85" x2="265.00" y2="227.85" stroke="#4f6073" stroke-width="0.8" />
<line x1="263.40" y1="209.07" x2="265.00" y2="209.07" stroke="#4f6073" stroke-width="0.8" />
<line x1="263.40" y1="190.29" x2="265.00" y2="190.29" stroke="#4f6073" stroke-width="0.8" />
<line x1="276.80" y1="280.60" x2="276.80" y2="283.60" stroke="#4f6073" stroke-width="0.9" />
<text x="276.8" y="294.6" font-size="7.9" fill="#46586b" font-weight="normal" text-anchor="middle" >0</text>
<line x1="369.40" y1="280.60" x2="369.40" y2="283.60" stroke="#4f6073" stroke-width="0.9" />
<text x="369.4" y="294.6" font-size="7.9" fill="#46586b" font-weight="normal" text-anchor="middle" >1000</text>
<line x1="323.10" y1="280.60" x2="323.10" y2="282.60" stroke="#4f6073" stroke-width="0.8" />
<line x1="415.70" y1="280.60" x2="415.70" y2="282.60" stroke="#4f6073" stroke-width="0.8" />
<text transform="translate(235.8,227.8) rotate(-90)" x="0" y="2.4" font-size="7.0" fill="#2a2a2a" font-weight="normal" text-anchor="middle" textLength="70.5" lengthAdjust="spacingAndGlyphs">Relative response (RU)</text>
<text x="339.1" y="304.1" font-size="7.2" fill="#111" font-weight="normal" text-anchor="start" textLength="24.1" lengthAdjust="spacingAndGlyphs" stroke="#111" stroke-width="0.15">Time (s)</text>
<path d="M272.90,279.30 L272.90,273.50 L281.70,270.50 L288.50,271.10 L295.40,264.70 L301.20,266.10 L309.00,247.70 L313.90,250.40 L316.90,232.50 L320.40,222.30 L325.60,227.60 L332.10,200.30 L338.30,211.00 L339.30,205.10 L345.80,177.40 L352.00,193.40 L359.80,206.10 L364.00,207.71 L367.00,210.95 L370.00,213.91 L373.00,216.61 L376.00,219.08 L379.00,221.33 L382.00,223.39 L385.00,225.26 L388.00,226.98 L391.00,228.55 L394.00,229.97 L397.00,231.28 L400.00,232.47 L403.00,233.56 L406.00,234.56 L409.00,235.46 L412.00,236.29 L415.00,237.05 L418.00,237.74 L421.00,238.37 L424.00,238.95 L427.00,239.47" stroke="#6aaee0" stroke-width="1.0" fill="none" stroke-linejoin="round" />
<path d="M272.90,275.00 L288.50,271.10 L295.40,267.00 L301.20,265.70 L308.10,253.00 L310.00,252.00 L313.00,253.00 L315.90,234.40 L320.40,221.70 L324.70,226.20 L328.60,201.20 L332.10,193.80 L335.40,195.40 L338.30,202.20 L339.90,189.50 L345.20,187.20 L352.00,194.35 L355.00,198.61 L358.00,202.49 L361.00,206.03 L364.00,209.25 L367.00,212.18 L370.00,214.85 L373.00,217.28 L376.00,219.49 L379.00,221.50 L382.00,223.34 L385.00,225.01 L388.00,226.53 L391.00,227.91 L394.00,229.17 L397.00,230.32 L400.00,231.37 L403.00,232.32 L406.00,233.18 L409.00,233.97 L412.00,234.69 L415.00,235.35 L418.00,235.94 L421.00,236.48 L424.00,236.98 L427.00,237.43" stroke="#1a1a1a" stroke-width="1.2" fill="none" stroke-linejoin="round" />
<line x1="481.60" y1="174.00" x2="481.60" y2="281.30" stroke="#444" stroke-width="1.3" />
<line x1="481.60" y1="281.30" x2="642.20" y2="281.30" stroke="#444" stroke-width="1.3" />
<line x1="479.00" y1="281.30" x2="481.60" y2="281.30" stroke="#444" stroke-width="1.0" />
<text x="477.8" y="283.1" font-size="5.0" fill="#333" font-weight="normal" text-anchor="end" >0</text>
<line x1="479.00" y1="245.90" x2="481.60" y2="245.90" stroke="#444" stroke-width="1.0" />
<text x="477.8" y="247.7" font-size="5.0" fill="#333" font-weight="normal" text-anchor="end" textLength="18.8" lengthAdjust="spacingAndGlyphs" >100000</text>
<line x1="479.00" y1="210.50" x2="481.60" y2="210.50" stroke="#444" stroke-width="1.0" />
<text x="477.8" y="212.3" font-size="5.0" fill="#333" font-weight="normal" text-anchor="end" textLength="18.8" lengthAdjust="spacingAndGlyphs" >200000</text>
<line x1="479.00" y1="175.10" x2="481.60" y2="175.10" stroke="#444" stroke-width="1.0" />
<text x="477.8" y="176.9" font-size="5.0" fill="#333" font-weight="normal" text-anchor="end" textLength="18.8" lengthAdjust="spacingAndGlyphs" >300000</text>
<line x1="490.90" y1="281.30" x2="490.90" y2="284.00" stroke="#444" stroke-width="1.0" />
<text x="490.9" y="290.9" font-size="5.0" fill="#333" font-weight="normal" text-anchor="middle" >0.001</text>
<line x1="521.10" y1="281.30" x2="521.10" y2="284.00" stroke="#444" stroke-width="1.0" />
<text x="521.1" y="290.9" font-size="5.0" fill="#333" font-weight="normal" text-anchor="middle" >0.01</text>
<line x1="551.30" y1="281.30" x2="551.30" y2="284.00" stroke="#444" stroke-width="1.0" />
<text x="551.3" y="290.9" font-size="5.0" fill="#333" font-weight="normal" text-anchor="middle" >0.1</text>
<line x1="581.50" y1="281.30" x2="581.50" y2="284.00" stroke="#444" stroke-width="1.0" />
<text x="581.5" y="290.9" font-size="5.0" fill="#333" font-weight="normal" text-anchor="middle" >1</text>
<line x1="611.70" y1="281.30" x2="611.70" y2="284.00" stroke="#444" stroke-width="1.0" />
<text x="611.7" y="290.9" font-size="5.0" fill="#333" font-weight="normal" text-anchor="middle" >10</text>
<line x1="641.90" y1="281.30" x2="641.90" y2="284.00" stroke="#444" stroke-width="1.0" />
<text x="641.9" y="290.9" font-size="5.0" fill="#333" font-weight="normal" text-anchor="middle" >100</text>
<text transform="translate(452.9,229.4) rotate(-90)" x="0" y="2.0" font-size="5.6" fill="#333" font-weight="normal" text-anchor="middle" textLength="44.6" lengthAdjust="spacingAndGlyphs">Alpha Response</text>
<text x="569.9" y="300.3" font-size="6.6" fill="#333" font-weight="normal" text-anchor="middle" textLength="44.0" lengthAdjust="spacingAndGlyphs" >[Compound (µM)]</text>
<path d="M499.99,274.01 L500.90,273.73 L501.80,273.43 L502.71,273.11 L503.62,272.77 L504.52,272.41 L505.43,272.02 L506.33,271.60 L507.24,271.16 L508.15,270.69 L509.05,270.19 L509.96,269.66 L510.86,269.10 L511.77,268.50 L512.68,267.87 L513.58,267.20 L514.49,266.50 L515.39,265.76 L516.30,264.98 L517.21,264.16 L518.11,263.30 L519.02,262.40 L519.92,261.46 L520.83,260.48 L521.74,259.46 L522.64,258.40 L523.55,257.30 L524.45,256.16 L525.36,254.99 L526.27,253.79 L527.17,252.56 L528.08,251.29 L528.98,250.00 L529.89,248.69 L530.80,247.36 L531.70,246.01 L532.61,244.65 L533.51,243.28 L534.42,241.90 L535.33,240.53 L536.23,239.15 L537.14,237.79 L538.04,236.43 L538.95,235.09 L539.86,233.77 L540.76,232.47 L541.67,231.19 L542.57,229.94 L543.48,228.72 L544.39,227.54 L545.29,226.38 L546.20,225.27 L547.10,224.19 L548.01,223.16 L548.92,222.16 L549.82,221.20 L550.73,220.29 L551.63,219.41 L552.54,218.58 L553.45,217.78 L554.35,217.03 L555.26,216.32 L556.16,215.64 L557.07,215.00 L557.98,214.40 L558.88,213.84 L559.79,213.31 L560.69,212.81 L561.60,212.34 L562.51,211.91 L563.41,211.50 L564.32,211.13 L565.22,210.78 L566.13,210.45 L567.04,210.16 L567.94,209.88 L568.85,209.63 L569.75,209.40 L570.66,209.20 L571.57,209.01 L572.47,208.84 L573.38,208.70 L574.28,208.57 L575.19,208.46 L576.10,208.36 L577.00,208.29 L577.91,208.23 L578.81,208.18 L579.72,208.16 L580.63,208.15 L581.53,208.15 L582.44,208.17 L583.34,208.21 L584.25,208.27 L585.16,208.34 L586.06,208.43 L586.97,208.54 L587.87,208.66 L588.78,208.80 L589.69,208.96 L590.59,209.14 L591.50,209.35 L592.40,209.57 L593.31,209.81 L594.22,210.08 L595.12,210.37 L596.03,210.69 L596.93,211.03 L597.84,211.40 L598.75,211.80 L599.65,212.22 L600.56,212.68 L601.46,213.17 L602.37,213.69 L603.28,214.25 L604.18,214.84 L605.09,215.47 L605.99,216.13 L606.90,216.84 L607.81,217.58 L608.71,218.36 L609.62,219.19 L610.52,220.05 L611.43,220.96 L612.34,221.90 L613.24,222.89 L614.15,223.92 L615.05,224.98 L615.96,226.09 L616.87,227.23 L617.77,228.40 L618.68,229.61 L619.58,230.86 L620.49,232.12 L621.40,233.42 L622.30,234.74 L623.21,236.07 L624.11,237.43 L625.02,238.79 L625.93,240.16 L626.83,241.54" stroke="#3eae4c" stroke-width="0.9" fill="none" stroke-linejoin="round" />
<line x1="499.99" y1="271.57" x2="499.99" y2="277.57" stroke="#3eae4c" stroke-width="0.7" />
<line x1="498.99" y1="271.57" x2="500.99" y2="271.57" stroke="#3eae4c" stroke-width="0.6" />
<line x1="498.99" y1="277.57" x2="500.99" y2="277.57" stroke="#3eae4c" stroke-width="0.6" />
<rect x="498.7" y="273.3" width="2.6" height="2.6" fill="#3eae4c"/>
<line x1="509.08" y1="270.51" x2="509.08" y2="276.51" stroke="#3eae4c" stroke-width="0.7" />
<line x1="508.08" y1="270.51" x2="510.08" y2="270.51" stroke="#3eae4c" stroke-width="0.6" />
<line x1="508.08" y1="276.51" x2="510.08" y2="276.51" stroke="#3eae4c" stroke-width="0.6" />
<rect x="507.8" y="272.2" width="2.6" height="2.6" fill="#3eae4c"/>
<line x1="518.17" y1="261.37" x2="518.17" y2="269.37" stroke="#3eae4c" stroke-width="0.7" />
<line x1="517.17" y1="261.37" x2="519.17" y2="261.37" stroke="#3eae4c" stroke-width="0.6" />
<line x1="517.17" y1="269.37" x2="519.17" y2="269.37" stroke="#3eae4c" stroke-width="0.6" />
<rect x="516.9" y="264.1" width="2.6" height="2.6" fill="#3eae4c"/>
<line x1="527.26" y1="244.15" x2="527.26" y2="256.15" stroke="#3eae4c" stroke-width="0.7" />
<line x1="526.26" y1="244.15" x2="528.26" y2="244.15" stroke="#3eae4c" stroke-width="0.6" />
<line x1="526.26" y1="256.15" x2="528.26" y2="256.15" stroke="#3eae4c" stroke-width="0.6" />
<rect x="526.0" y="248.8" width="2.6" height="2.6" fill="#3eae4c"/>
<line x1="536.36" y1="231.28" x2="536.36" y2="239.28" stroke="#3eae4c" stroke-width="0.7" />
<line x1="535.36" y1="231.28" x2="537.36" y2="231.28" stroke="#3eae4c" stroke-width="0.6" />
<line x1="535.36" y1="239.28" x2="537.36" y2="239.28" stroke="#3eae4c" stroke-width="0.6" />
<rect x="535.1" y="234.0" width="2.6" height="2.6" fill="#3eae4c"/>
<line x1="545.45" y1="209.04" x2="545.45" y2="219.04" stroke="#3eae4c" stroke-width="0.7" />
<line x1="544.45" y1="209.04" x2="546.45" y2="209.04" stroke="#3eae4c" stroke-width="0.6" />
<line x1="544.45" y1="219.04" x2="546.45" y2="219.04" stroke="#3eae4c" stroke-width="0.6" />
<rect x="544.1" y="212.7" width="2.6" height="2.6" fill="#3eae4c"/>
<line x1="554.54" y1="205.79" x2="554.54" y2="213.79" stroke="#3eae4c" stroke-width="0.7" />
<line x1="553.54" y1="205.79" x2="555.54" y2="205.79" stroke="#3eae4c" stroke-width="0.6" />
<line x1="553.54" y1="213.79" x2="555.54" y2="213.79" stroke="#3eae4c" stroke-width="0.6" />
<rect x="553.2" y="208.5" width="2.6" height="2.6" fill="#3eae4c"/>
<line x1="563.63" y1="195.96" x2="563.63" y2="217.96" stroke="#3eae4c" stroke-width="0.7" />
<line x1="562.63" y1="195.96" x2="564.63" y2="195.96" stroke="#3eae4c" stroke-width="0.6" />
<line x1="562.63" y1="217.96" x2="564.63" y2="217.96" stroke="#3eae4c" stroke-width="0.6" />
<rect x="562.3" y="205.7" width="2.6" height="2.6" fill="#3eae4c"/>
<line x1="572.72" y1="195.96" x2="572.72" y2="217.96" stroke="#3eae4c" stroke-width="0.7" />
<line x1="571.72" y1="195.96" x2="573.72" y2="195.96" stroke="#3eae4c" stroke-width="0.6" />
<line x1="571.72" y1="217.96" x2="573.72" y2="217.96" stroke="#3eae4c" stroke-width="0.6" />
<rect x="571.4" y="205.7" width="2.6" height="2.6" fill="#3eae4c"/>
<line x1="581.81" y1="203.79" x2="581.81" y2="215.79" stroke="#3eae4c" stroke-width="0.7" />
<line x1="580.81" y1="203.79" x2="582.81" y2="203.79" stroke="#3eae4c" stroke-width="0.6" />
<line x1="580.81" y1="215.79" x2="582.81" y2="215.79" stroke="#3eae4c" stroke-width="0.6" />
<rect x="580.5" y="208.5" width="2.6" height="2.6" fill="#3eae4c"/>
<line x1="590.90" y1="207.98" x2="590.90" y2="217.98" stroke="#3eae4c" stroke-width="0.7" />
<line x1="589.90" y1="207.98" x2="591.90" y2="207.98" stroke="#3eae4c" stroke-width="0.6" />
<line x1="589.90" y1="217.98" x2="591.90" y2="217.98" stroke="#3eae4c" stroke-width="0.6" />
<rect x="589.6" y="211.7" width="2.6" height="2.6" fill="#3eae4c"/>
<line x1="599.99" y1="221.66" x2="599.99" y2="227.66" stroke="#3eae4c" stroke-width="0.7" />
<line x1="598.99" y1="221.66" x2="600.99" y2="221.66" stroke="#3eae4c" stroke-width="0.6" />
<line x1="598.99" y1="227.66" x2="600.99" y2="227.66" stroke="#3eae4c" stroke-width="0.6" />
<rect x="598.7" y="223.4" width="2.6" height="2.6" fill="#3eae4c"/>
<line x1="609.08" y1="216.83" x2="609.08" y2="226.83" stroke="#3eae4c" stroke-width="0.7" />
<line x1="608.08" y1="216.83" x2="610.08" y2="216.83" stroke="#3eae4c" stroke-width="0.6" />
<line x1="608.08" y1="226.83" x2="610.08" y2="226.83" stroke="#3eae4c" stroke-width="0.6" />
<rect x="607.8" y="220.5" width="2.6" height="2.6" fill="#3eae4c"/>
<line x1="618.18" y1="225.91" x2="618.18" y2="231.91" stroke="#3eae4c" stroke-width="0.7" />
<line x1="617.18" y1="225.91" x2="619.18" y2="225.91" stroke="#3eae4c" stroke-width="0.6" />
<line x1="617.18" y1="231.91" x2="619.18" y2="231.91" stroke="#3eae4c" stroke-width="0.6" />
<rect x="616.9" y="227.6" width="2.6" height="2.6" fill="#3eae4c"/>
<line x1="627.27" y1="236.24" x2="627.27" y2="244.24" stroke="#3eae4c" stroke-width="0.7" />
<line x1="626.27" y1="236.24" x2="628.27" y2="236.24" stroke="#3eae4c" stroke-width="0.6" />
<line x1="626.27" y1="244.24" x2="628.27" y2="244.24" stroke="#3eae4c" stroke-width="0.6" />
<rect x="626.0" y="238.9" width="2.6" height="2.6" fill="#3eae4c"/>
<line x1="499.99" y1="277.58" x2="626.96" y2="277.58" stroke="#3a50a0" stroke-width="0.9" />
<line x1="499.99" y1="277.94" x2="626.96" y2="277.94" stroke="#cf6f26" stroke-width="0.6" />
<circle cx="500.0" cy="277.6" r="1.3" fill="#2e3f6e"/>
<circle cx="509.1" cy="277.6" r="1.3" fill="#2e3f6e"/>
<circle cx="518.2" cy="277.6" r="1.3" fill="#2e3f6e"/>
<circle cx="527.3" cy="277.6" r="1.3" fill="#2e3f6e"/>
<circle cx="536.4" cy="277.6" r="1.3" fill="#2e3f6e"/>
<circle cx="545.4" cy="277.6" r="1.3" fill="#2e3f6e"/>
<circle cx="554.5" cy="277.6" r="1.3" fill="#2e3f6e"/>
<circle cx="563.6" cy="277.6" r="1.3" fill="#2e3f6e"/>
<circle cx="572.7" cy="277.6" r="1.3" fill="#2e3f6e"/>
<circle cx="581.8" cy="277.6" r="1.3" fill="#2e3f6e"/>
<circle cx="590.9" cy="277.6" r="1.3" fill="#2e3f6e"/>
<circle cx="600.0" cy="277.6" r="1.3" fill="#2e3f6e"/>
<circle cx="609.1" cy="277.6" r="1.3" fill="#2e3f6e"/>
<circle cx="618.2" cy="277.6" r="1.3" fill="#2e3f6e"/>
<circle cx="627.3" cy="277.6" r="1.3" fill="#2e3f6e"/>
<line x1="485.70" y1="189.60" x2="494.20" y2="189.60" stroke="#3eae4c" stroke-width="0.9" />
<text x="499.0" y="191.5" font-size="5.4" fill="#3eae4c" font-weight="normal" text-anchor="start" textLength="35.0" lengthAdjust="spacingAndGlyphs" >Compound 21</text>
<line x1="485.70" y1="199.15" x2="494.20" y2="199.15" stroke="#cf6f26" stroke-width="0.9" />
<text x="499.0" y="201.1" font-size="5.4" fill="#cf6f26" font-weight="normal" text-anchor="start" textLength="35.0" lengthAdjust="spacingAndGlyphs" >Compound 25</text>
<line x1="485.70" y1="208.70" x2="494.20" y2="208.70" stroke="#3a50a0" stroke-width="0.9" />
<text x="499.0" y="210.6" font-size="5.4" fill="#3a50a0" font-weight="normal" text-anchor="start" textLength="45.0" lengthAdjust="spacingAndGlyphs" >Compounds 1 &amp; 8</text>
<text x="1.5" y="341.3" font-size="16" fill="#000" font-weight="bold" text-anchor="start" textLength="13.1" lengthAdjust="spacingAndGlyphs" >g.</text>
<text x="43.8" y="342.2" font-size="11.5" fill="#000" font-weight="bold" text-anchor="start" textLength="102.8" lengthAdjust="spacingAndGlyphs" >Compound 21 (µM)</text>
<text x="224.8" y="340.0" font-size="16" fill="#000" font-weight="bold" text-anchor="start" textLength="13.2" lengthAdjust="spacingAndGlyphs" >h.</text>
<text x="273.6" y="342.2" font-size="11.5" fill="#000" font-weight="bold" text-anchor="start" textLength="103.0" lengthAdjust="spacingAndGlyphs" >Compound 25 (µM)</text>
<text x="452.7" y="339.0" font-size="16" fill="#000" font-weight="bold" text-anchor="start" textLength="7.6" lengthAdjust="spacingAndGlyphs" >i.</text>
<defs><filter id="bl" x="-50%" y="-50%" width="200%" height="200%"><feGaussianBlur stdDeviation="0.8"/></filter><filter id="bls" x="-50%" y="-50%" width="200%" height="200%"><feGaussianBlur stdDeviation="0.5"/></filter><filter id="bl2" x="-50%" y="-50%" width="200%" height="200%"><feGaussianBlur stdDeviation="1.3"/></filter><filter id="bl3" x="-50%" y="-50%" width="200%" height="200%"><feGaussianBlur stdDeviation="2.5"/></filter><linearGradient id="gtop" x1="0" y1="0" x2="0" y2="1"><stop offset="0" stop-color="#fff" stop-opacity="0.22"/><stop offset="1" stop-color="#fff" stop-opacity="0"/></linearGradient></defs>
<rect x="36.0" y="377.0" width="109.0" height="183.0" fill="rgb(220,222,221)"/>
<rect x="36.0" y="377.0" width="109.0" height="70" fill="url(#gtop)"/>
<rect x="36.0" y="377.0" width="109.0" height="3" fill="rgb(225,226,227)" filter="url(#bl)"/>
<rect x="49.3" y="387.0" width="11.0" height="34.0" fill="rgb(205,207,206)" filter="url(#bl2)"/>
<rect x="62.1" y="387.0" width="11.0" height="34.0" fill="rgb(201,203,202)" filter="url(#bl2)"/>
<rect x="74.4" y="387.0" width="10.6" height="34.0" fill="rgb(214,216,215)" filter="url(#bl2)"/>
<rect x="48.3" y="428.0" width="11.6" height="40.0" fill="rgb(209,211,210)" filter="url(#bl2)"/>
<rect x="61.1" y="428.0" width="11.6" height="40.0" fill="rgb(203,205,204)" filter="url(#bl2)"/>
<rect x="40.6" y="488.0" width="3.0" height="57.0" fill="rgb(173,175,174)" filter="url(#bl2)"/>
<rect x="40.6" y="418.0" width="3.0" height="62.0" fill="rgb(203,205,204)" filter="url(#bl2)"/>
<rect x="48.7" y="414.9" width="11.0" height="1.8" rx="1.5" fill="rgb(146,147,146)" filter="url(#bls)"/>
<rect x="61.4" y="414.9" width="11.0" height="1.8" rx="1.5" fill="rgb(114,115,114)" filter="url(#bls)"/>
<rect x="73.6" y="414.9" width="11.0" height="1.8" rx="1.5" fill="rgb(146,147,146)" filter="url(#bls)"/>
<rect x="86.1" y="414.9" width="11.0" height="1.8" rx="1.5" fill="rgb(188,190,189)" filter="url(#bls)"/>
<rect x="98.6" y="414.9" width="11.0" height="1.8" rx="1.5" fill="rgb(156,158,157)" filter="url(#bls)"/>
<rect x="111.3" y="414.9" width="11.0" height="1.8" rx="1.5" fill="rgb(188,190,189)" filter="url(#bls)"/>
<rect x="124.7" y="414.9" width="11.0" height="1.8" rx="1.5" fill="rgb(146,147,146)" filter="url(#bls)"/>
<rect x="48.8" y="409.8" width="11.0" height="1.4" rx="1.5" fill="rgb(203,205,204)" filter="url(#bls)"/>
<rect x="61.4" y="409.8" width="11.0" height="1.4" rx="1.5" fill="rgb(188,190,189)" filter="url(#bls)"/>
<rect x="73.6" y="409.8" width="11.0" height="1.4" rx="1.5" fill="rgb(203,205,204)" filter="url(#bls)"/>
<rect x="86.0" y="409.8" width="11.0" height="1.4" rx="1.5" fill="rgb(209,211,210)" filter="url(#bls)"/>
<rect x="98.4" y="409.8" width="11.0" height="1.4" rx="1.5" fill="rgb(203,205,204)" filter="url(#bls)"/>
<rect x="111.1" y="409.8" width="11.0" height="1.4" rx="1.5" fill="rgb(209,211,210)" filter="url(#bls)"/>
<rect x="124.4" y="409.8" width="11.0" height="1.4" rx="1.5" fill="rgb(199,201,200)" filter="url(#bls)"/>
<rect x="48.6" y="422.0" width="11.0" height="6.0" rx="1.5" fill="rgb(8,8,8)" filter="url(#bl)"/>
<rect x="61.4" y="422.0" width="11.0" height="6.0" rx="1.5" fill="rgb(8,8,8)" filter="url(#bl)"/>
<rect x="73.7" y="422.0" width="11.0" height="6.0" rx="1.5" fill="rgb(8,8,8)" filter="url(#bl)"/>
<rect x="86.3" y="422.0" width="11.0" height="6.0" rx="1.5" fill="rgb(8,8,8)" filter="url(#bl)"/>
<rect x="98.9" y="422.0" width="11.0" height="6.0" rx="1.5" fill="rgb(8,8,8)" filter="url(#bl)"/>
<rect x="111.7" y="422.0" width="11.0" height="6.0" rx="1.5" fill="rgb(8,8,8)" filter="url(#bl)"/>
<rect x="125.2" y="422.0" width="11.0" height="6.0" rx="1.5" fill="rgb(8,8,8)" filter="url(#bl)"/>
<rect x="48.5" y="431.2" width="11.0" height="1.6" rx="1.5" fill="rgb(173,175,174)" filter="url(#bls)"/>
<rect x="61.4" y="431.2" width="11.0" height="1.6" rx="1.5" fill="rgb(156,158,157)" filter="url(#bls)"/>
<rect x="73.8" y="431.2" width="11.0" height="1.6" rx="1.5" fill="rgb(203,205,204)" filter="url(#bls)"/>
<rect x="48.4" y="436.7" width="11.0" height="1.8" rx="1.5" fill="rgb(156,158,157)" filter="url(#bls)"/>
<rect x="61.4" y="436.7" width="11.0" height="1.8" rx="1.5" fill="rgb(135,136,136)" filter="url(#bls)"/>
<rect x="73.8" y="436.7" width="11.0" height="1.8" rx="1.5" fill="rgb(203,205,204)" filter="url(#bls)"/>
<rect x="48.3" y="442.3" width="11.0" height="2.2" rx="1.5" fill="rgb(125,126,125)" filter="url(#bls)"/>
<rect x="61.3" y="442.3" width="11.0" height="2.2" rx="1.5" fill="rgb(103,104,104)" filter="url(#bls)"/>
<rect x="73.9" y="442.3" width="11.0" height="2.2" rx="1.5" fill="rgb(195,196,195)" filter="url(#bls)"/>
<rect x="86.7" y="442.3" width="11.0" height="2.2" rx="1.5" fill="rgb(214,216,215)" filter="url(#bls)"/>
<rect x="99.5" y="442.3" width="11.0" height="2.2" rx="1.5" fill="rgb(214,216,215)" filter="url(#bls)"/>
<rect x="112.5" y="442.3" width="11.0" height="2.2" rx="1.5" fill="rgb(214,216,215)" filter="url(#bls)"/>
<rect x="126.2" y="442.3" width="11.0" height="2.2" rx="1.5" fill="rgb(214,216,215)" filter="url(#bls)"/>
<rect x="48.2" y="449.3" width="11.0" height="2.6" rx="1.5" fill="rgb(33,34,34)" filter="url(#bls)"/>
<rect x="61.3" y="449.3" width="11.0" height="2.6" rx="1.5" fill="rgb(25,25,25)" filter="url(#bls)"/>
<rect x="73.9" y="449.3" width="11.0" height="2.6" rx="1.5" fill="rgb(125,126,125)" filter="url(#bls)"/>
<rect x="86.8" y="449.3" width="11.0" height="2.6" rx="1.5" fill="rgb(209,211,210)" filter="url(#bls)"/>
<rect x="99.7" y="449.3" width="11.0" height="2.6" rx="1.5" fill="rgb(209,211,210)" filter="url(#bls)"/>
<rect x="112.8" y="449.3" width="11.0" height="2.6" rx="1.5" fill="rgb(209,211,210)" filter="url(#bls)"/>
<rect x="126.6" y="449.3" width="11.0" height="2.6" rx="1.5" fill="rgb(209,211,210)" filter="url(#bls)"/>
<rect x="48.1" y="457.4" width="11.0" height="1.9" rx="1.5" fill="rgb(19,19,19)" filter="url(#bls)"/>
<rect x="61.3" y="457.4" width="11.0" height="1.9" rx="1.5" fill="rgb(14,14,14)" filter="url(#bls)"/>
<rect x="74.0" y="457.4" width="11.0" height="1.9" rx="1.5" fill="rgb(40,40,40)" filter="url(#bls)"/>
<rect x="87.0" y="457.4" width="11.0" height="1.9" rx="1.5" fill="rgb(156,158,157)" filter="url(#bls)"/>
<rect x="100.0" y="457.4" width="11.0" height="1.9" rx="1.5" fill="rgb(139,141,140)" filter="url(#bls)"/>
<rect x="113.1" y="457.4" width="11.0" height="1.9" rx="1.5" fill="rgb(150,151,151)" filter="url(#bls)"/>
<rect x="127.0" y="457.4" width="11.0" height="1.9" rx="1.5" fill="rgb(135,136,136)" filter="url(#bls)"/>
<rect x="48.1" y="460.6" width="11.0" height="1.9" rx="1.5" fill="rgb(19,19,19)" filter="url(#bls)"/>
<rect x="61.3" y="460.6" width="11.0" height="1.9" rx="1.5" fill="rgb(14,14,14)" filter="url(#bls)"/>
<rect x="74.0" y="460.6" width="11.0" height="1.9" rx="1.5" fill="rgb(40,40,40)" filter="url(#bls)"/>
<rect x="87.0" y="460.6" width="11.0" height="1.9" rx="1.5" fill="rgb(139,141,140)" filter="url(#bls)"/>
<rect x="100.1" y="460.6" width="11.0" height="1.9" rx="1.5" fill="rgb(125,126,125)" filter="url(#bls)"/>
<rect x="113.3" y="460.6" width="11.0" height="1.9" rx="1.5" fill="rgb(135,136,136)" filter="url(#bls)"/>
<rect x="127.2" y="460.6" width="11.0" height="1.9" rx="1.5" fill="rgb(125,126,125)" filter="url(#bls)"/>
<rect x="47.6" y="471.6" width="11.6" height="2.4" rx="1.5" fill="rgb(135,136,136)" filter="url(#bls)"/>
<rect x="61.0" y="471.6" width="11.6" height="2.4" rx="1.5" fill="rgb(135,136,136)" filter="url(#bls)"/>
<rect x="73.8" y="471.6" width="11.6" height="2.4" rx="1.5" fill="rgb(103,104,104)" filter="url(#bls)"/>
<rect x="87.0" y="471.6" width="11.6" height="2.4" rx="1.5" fill="rgb(72,72,72)" filter="url(#bls)"/>
<rect x="100.1" y="471.6" width="11.6" height="2.4" rx="1.5" fill="rgb(61,62,61)" filter="url(#bls)"/>
<rect x="113.5" y="471.6" width="11.6" height="2.4" rx="1.5" fill="rgb(72,72,72)" filter="url(#bls)"/>
<rect x="127.6" y="471.6" width="11.6" height="2.4" rx="1.5" fill="rgb(72,72,72)" filter="url(#bls)"/>
<rect x="47.3" y="468.0" width="12.3" height="4.8" rx="1.5" fill="rgb(8,8,8)" filter="url(#bl)"/>
<rect x="60.6" y="468.0" width="12.3" height="4.8" rx="1.5" fill="rgb(8,8,8)" filter="url(#bl)"/>
<rect x="73.4" y="468.0" width="12.3" height="4.8" rx="1.5" fill="rgb(8,8,8)" filter="url(#bl)"/>
<rect x="86.5" y="468.0" width="12.3" height="4.8" rx="1.5" fill="rgb(8,8,8)" filter="url(#bl)"/>
<rect x="99.7" y="468.0" width="12.3" height="4.8" rx="1.5" fill="rgb(8,8,8)" filter="url(#bl)"/>
<rect x="113.0" y="468.0" width="12.3" height="4.8" rx="1.5" fill="rgb(8,8,8)" filter="url(#bl)"/>
<rect x="127.0" y="468.0" width="12.3" height="4.8" rx="1.5" fill="rgb(8,8,8)" filter="url(#bl)"/>
<rect x="46.9" y="534.2" width="11.0" height="3.5" rx="1.5" fill="rgb(8,8,8)" filter="url(#bl)"/>
<rect x="61.0" y="534.2" width="11.0" height="3.5" rx="1.5" fill="rgb(8,8,8)" filter="url(#bl)"/>
<rect x="74.6" y="534.2" width="11.0" height="3.5" rx="1.5" fill="rgb(8,8,8)" filter="url(#bl)"/>
<rect x="88.5" y="534.2" width="11.0" height="3.5" rx="1.5" fill="rgb(8,8,8)" filter="url(#bl)"/>
<rect x="102.4" y="534.2" width="11.0" height="3.5" rx="1.5" fill="rgb(8,8,8)" filter="url(#bl)"/>
<rect x="116.5" y="534.2" width="11.0" height="3.5" rx="1.5" fill="rgb(8,8,8)" filter="url(#bl)"/>
<rect x="131.3" y="534.2" width="11.0" height="3.5" rx="1.5" fill="rgb(8,8,8)" filter="url(#bl)"/>
<rect x="46.7" y="548.8" width="11.0" height="3.0" rx="1.5" fill="rgb(40,40,40)" filter="url(#bl)"/>
<rect x="61.0" y="548.8" width="11.0" height="3.0" rx="1.5" fill="rgb(29,29,29)" filter="url(#bl)"/>
<rect x="74.7" y="548.8" width="11.0" height="3.0" rx="1.5" fill="rgb(40,40,40)" filter="url(#bl)"/>
<rect x="88.8" y="548.8" width="11.0" height="3.0" rx="1.5" fill="rgb(114,115,114)" filter="url(#bl)"/>
<rect x="102.9" y="548.8" width="11.0" height="3.0" rx="1.5" fill="rgb(61,62,61)" filter="url(#bl)"/>
<rect x="117.1" y="548.8" width="11.0" height="3.0" rx="1.5" fill="rgb(103,104,104)" filter="url(#bl)"/>
<rect x="132.1" y="548.8" width="11.0" height="3.0" rx="1.5" fill="rgb(61,62,61)" filter="url(#bl)"/>
<rect x="51.8" y="383.4" width="7.4" height="3.4" rx="1" fill="rgb(14,14,14)" filter="url(#bl)"/>
<rect x="64.6" y="383.4" width="7.4" height="3.4" rx="1" fill="rgb(14,14,14)" filter="url(#bl)"/>
<rect x="76.9" y="384.1" width="7.4" height="2.0" rx="1" fill="rgb(103,104,104)" filter="url(#bl)"/>
<rect x="89.5" y="384.1" width="7.4" height="2.0" rx="1" fill="rgb(178,179,178)" filter="url(#bl)"/>
<rect x="102.1" y="384.1" width="7.4" height="2.0" rx="1" fill="rgb(152,154,153)" filter="url(#bl)"/>
<rect x="114.9" y="384.1" width="7.4" height="2.0" rx="1" fill="rgb(178,179,178)" filter="url(#bl)"/>
<rect x="128.4" y="384.1" width="7.4" height="2.0" rx="1" fill="rgb(178,179,178)" filter="url(#bl)"/>
<ellipse cx="42.3" cy="414.0" rx="3.5" ry="2.3" fill="rgb(8,8,8)" filter="url(#bl)"/>
<ellipse cx="42.3" cy="429.1" rx="3.8" ry="2.9" fill="rgb(8,8,8)" filter="url(#bl)"/>
<ellipse cx="42.3" cy="445.8" rx="3.6" ry="4.0" fill="rgb(8,8,8)" filter="url(#bl)"/>
<ellipse cx="42.3" cy="463.7" rx="3.6" ry="4.7" fill="rgb(8,8,8)" filter="url(#bl)"/>
<ellipse cx="42.3" cy="482.7" rx="3.1" ry="6.1" fill="rgb(8,8,8)" filter="url(#bl)"/>
<ellipse cx="42.3" cy="516.6" rx="3.0" ry="3.8" fill="rgb(8,8,8)" filter="url(#bl)"/>
<ellipse cx="42.3" cy="530.7" rx="2.8" ry="4.0" fill="rgb(8,8,8)" filter="url(#bl)"/>
<ellipse cx="42.3" cy="549.3" rx="4.2" ry="2.5" fill="rgb(8,8,8)" filter="url(#bl)"/>
<ellipse cx="42.3" cy="557.3" rx="5.2" ry="1.8" fill="rgb(8,8,8)" filter="url(#bl)"/>
<circle cx="75.3" cy="396.8" r="1.0" fill="rgb(156,158,157)" filter="url(#bl)"/>
<circle cx="86.2" cy="396.3" r="1.0" fill="rgb(135,136,136)" filter="url(#bl)"/>
<circle cx="94.6" cy="395.2" r="1.2" fill="rgb(125,126,125)" filter="url(#bl)"/>
<circle cx="103.8" cy="393.7" r="1.0" fill="rgb(156,158,157)" filter="url(#bl)"/>
<circle cx="80.0" cy="396.5" r="1.0" fill="rgb(167,168,168)" filter="url(#bl)"/>
<circle cx="59.6" cy="397.0" r="0.8" fill="rgb(178,179,178)" filter="url(#bl)"/>
<circle cx="35.8" cy="470.2" r="1.3" fill="rgb(29,29,29)" filter="url(#bl)"/>
<circle cx="35.8" cy="426.5" r="1.0" fill="rgb(50,51,51)" filter="url(#bl)"/>
<circle cx="35.8" cy="532.0" r="1.0" fill="rgb(72,72,72)" filter="url(#bl)"/>
<circle cx="70.5" cy="488.2" r="1.2" fill="rgb(40,40,40)" filter="url(#bl)"/>
<circle cx="67.0" cy="488.2" r="0.9" fill="rgb(135,136,136)" filter="url(#bl)"/>
<circle cx="101.5" cy="489.0" r="1.3" fill="rgb(29,29,29)" filter="url(#bl)"/>
<circle cx="105.5" cy="489.0" r="0.9" fill="rgb(125,126,125)" filter="url(#bl)"/>
<circle cx="55.0" cy="487.8" r="0.9" fill="rgb(146,147,146)" filter="url(#bl)"/>
<rect x="262.2" y="379.2" width="109.7" height="175.3" fill="rgb(220,222,221)"/>
<rect x="262.2" y="379.2" width="109.7" height="70" fill="url(#gtop)"/>
<rect x="262.2" y="379.2" width="109.7" height="3" fill="rgb(225,226,227)" filter="url(#bl)"/>
<rect x="262.5" y="440.0" width="7.5" height="115.0" fill="rgb(190,192,191)" filter="url(#bl2)"/>
<rect x="272.5" y="388.0" width="10.0" height="32.0" fill="rgb(216,218,217)" filter="url(#bl2)"/>
<rect x="285.4" y="388.0" width="10.0" height="32.0" fill="rgb(216,218,217)" filter="url(#bl2)"/>
<rect x="298.6" y="388.0" width="10.0" height="32.0" fill="rgb(216,218,217)" filter="url(#bl2)"/>
<rect x="311.7" y="388.0" width="10.0" height="32.0" fill="rgb(216,218,217)" filter="url(#bl2)"/>
<rect x="324.0" y="388.0" width="10.0" height="32.0" fill="rgb(216,218,217)" filter="url(#bl2)"/>
<rect x="336.9" y="388.0" width="10.0" height="32.0" fill="rgb(216,218,217)" filter="url(#bl2)"/>
<rect x="350.5" y="388.0" width="10.0" height="32.0" fill="rgb(216,218,217)" filter="url(#bl2)"/>
<rect x="271.9" y="415.7" width="11.2" height="1.8" rx="1.5" fill="rgb(146,147,146)" filter="url(#bls)"/>
<rect x="284.7" y="415.7" width="11.2" height="1.8" rx="1.5" fill="rgb(146,147,146)" filter="url(#bls)"/>
<rect x="297.8" y="415.7" width="11.2" height="1.8" rx="1.5" fill="rgb(156,158,157)" filter="url(#bls)"/>
<rect x="310.9" y="415.7" width="11.2" height="1.8" rx="1.5" fill="rgb(146,147,146)" filter="url(#bls)"/>
<rect x="323.1" y="415.7" width="11.2" height="1.8" rx="1.5" fill="rgb(156,158,157)" filter="url(#bls)"/>
<rect x="335.9" y="415.7" width="11.2" height="1.8" rx="1.5" fill="rgb(156,158,157)" filter="url(#bls)"/>
<rect x="349.5" y="415.7" width="11.2" height="1.8" rx="1.5" fill="rgb(146,147,146)" filter="url(#bls)"/>
<rect x="271.9" y="420.1" width="11.2" height="1.4" rx="1.5" fill="rgb(199,201,200)" filter="url(#bls)"/>
<rect x="284.7" y="420.1" width="11.2" height="1.4" rx="1.5" fill="rgb(199,201,200)" filter="url(#bls)"/>
<rect x="297.9" y="420.1" width="11.2" height="1.4" rx="1.5" fill="rgb(199,201,200)" filter="url(#bls)"/>
<rect x="311.0" y="420.1" width="11.2" height="1.4" rx="1.5" fill="rgb(199,201,200)" filter="url(#bls)"/>
<rect x="323.3" y="420.1" width="11.2" height="1.4" rx="1.5" fill="rgb(199,201,200)" filter="url(#bls)"/>
<rect x="336.1" y="420.1" width="11.2" height="1.4" rx="1.5" fill="rgb(199,201,200)" filter="url(#bls)"/>
<rect x="349.7" y="420.1" width="11.2" height="1.4" rx="1.5" fill="rgb(199,201,200)" filter="url(#bls)"/>
<rect x="271.9" y="421.6" width="11.2" height="6.0" rx="1.5" fill="rgb(8,8,8)" filter="url(#bl)"/>
<rect x="284.8" y="421.6" width="11.2" height="6.0" rx="1.5" fill="rgb(8,8,8)" filter="url(#bl)"/>
<rect x="298.0" y="421.6" width="11.2" height="6.0" rx="1.5" fill="rgb(8,8,8)" filter="url(#bl)"/>
<rect x="311.1" y="421.6" width="11.2" height="6.0" rx="1.5" fill="rgb(8,8,8)" filter="url(#bl)"/>
<rect x="323.4" y="421.6" width="11.2" height="6.0" rx="1.5" fill="rgb(8,8,8)" filter="url(#bl)"/>
<rect x="336.3" y="421.6" width="11.2" height="6.0" rx="1.5" fill="rgb(8,8,8)" filter="url(#bl)"/>
<rect x="349.9" y="421.6" width="11.2" height="6.0" rx="1.5" fill="rgb(8,8,8)" filter="url(#bl)"/>
<rect x="272.1" y="457.5" width="11.2" height="1.6" rx="1.5" fill="rgb(93,94,93)" filter="url(#bls)"/>
<rect x="285.2" y="457.5" width="11.2" height="1.6" rx="1.5" fill="rgb(93,94,93)" filter="url(#bls)"/>
<rect x="298.7" y="457.5" width="11.2" height="1.6" rx="1.5" fill="rgb(125,126,125)" filter="url(#bls)"/>
<rect x="312.0" y="457.5" width="11.2" height="1.6" rx="1.5" fill="rgb(125,126,125)" filter="url(#bls)"/>
<rect x="324.6" y="457.5" width="11.2" height="1.6" rx="1.5" fill="rgb(167,168,168)" filter="url(#bls)"/>
<rect x="337.7" y="457.5" width="11.2" height="1.6" rx="1.5" fill="rgb(167,168,168)" filter="url(#bls)"/>
<rect x="351.6" y="457.5" width="11.2" height="1.6" rx="1.5" fill="rgb(167,168,168)" filter="url(#bls)"/>
<rect x="272.1" y="460.0" width="11.2" height="1.6" rx="1.5" fill="rgb(93,94,93)" filter="url(#bls)"/>
<rect x="285.3" y="460.0" width="11.2" height="1.6" rx="1.5" fill="rgb(93,94,93)" filter="url(#bls)"/>
<rect x="298.7" y="460.0" width="11.2" height="1.6" rx="1.5" fill="rgb(125,126,125)" filter="url(#bls)"/>
<rect x="312.1" y="460.0" width="11.2" height="1.6" rx="1.5" fill="rgb(135,136,136)" filter="url(#bls)"/>
<rect x="324.7" y="460.0" width="11.2" height="1.6" rx="1.5" fill="rgb(167,168,168)" filter="url(#bls)"/>
<rect x="337.9" y="460.0" width="11.2" height="1.6" rx="1.5" fill="rgb(167,168,168)" filter="url(#bls)"/>
<rect x="351.7" y="460.0" width="11.2" height="1.6" rx="1.5" fill="rgb(167,168,168)" filter="url(#bls)"/>
<rect x="271.2" y="465.4" width="13.1" height="5.6" rx="1.5" fill="rgb(8,8,8)" filter="url(#bl)"/>
<rect x="284.4" y="465.4" width="13.1" height="5.6" rx="1.5" fill="rgb(8,8,8)" filter="url(#bl)"/>
<rect x="297.9" y="465.4" width="13.1" height="5.6" rx="1.5" fill="rgb(8,8,8)" filter="url(#bl)"/>
<rect x="311.4" y="465.4" width="13.1" height="5.6" rx="1.5" fill="rgb(8,8,8)" filter="url(#bl)"/>
<rect x="324.0" y="465.4" width="13.1" height="5.6" rx="1.5" fill="rgb(8,8,8)" filter="url(#bl)"/>
<rect x="337.2" y="465.4" width="13.1" height="5.6" rx="1.5" fill="rgb(8,8,8)" filter="url(#bl)"/>
<rect x="351.2" y="465.4" width="13.1" height="5.6" rx="1.5" fill="rgb(8,8,8)" filter="url(#bl)"/>
<rect x="288.1" y="485.6" width="6.2" height="1.2" rx="1.5" fill="rgb(156,158,157)" filter="url(#bls)"/>
<rect x="315.3" y="485.6" width="6.2" height="1.2" rx="1.5" fill="rgb(135,136,136)" filter="url(#bls)"/>
<rect x="341.5" y="485.6" width="6.2" height="1.2" rx="1.5" fill="rgb(114,115,114)" filter="url(#bls)"/>
<rect x="272.4" y="531.4" width="11.2" height="3.5" rx="1.5" fill="rgb(8,8,8)" filter="url(#bl)"/>
<rect x="286.2" y="531.4" width="11.2" height="3.5" rx="1.5" fill="rgb(8,8,8)" filter="url(#bl)"/>
<rect x="300.2" y="531.4" width="11.2" height="3.5" rx="1.5" fill="rgb(8,8,8)" filter="url(#bl)"/>
<rect x="314.1" y="531.4" width="11.2" height="3.5" rx="1.5" fill="rgb(8,8,8)" filter="url(#bl)"/>
<rect x="327.3" y="531.4" width="11.2" height="3.5" rx="1.5" fill="rgb(8,8,8)" filter="url(#bl)"/>
<rect x="341.0" y="531.4" width="11.2" height="3.5" rx="1.5" fill="rgb(8,8,8)" filter="url(#bl)"/>
<rect x="355.4" y="531.4" width="11.2" height="3.5" rx="1.5" fill="rgb(8,8,8)" filter="url(#bl)"/>
<rect x="272.5" y="544.5" width="11.2" height="3.0" rx="1.5" fill="rgb(40,40,40)" filter="url(#bl)"/>
<rect x="286.3" y="544.5" width="11.2" height="3.0" rx="1.5" fill="rgb(40,40,40)" filter="url(#bl)"/>
<rect x="300.5" y="544.5" width="11.2" height="3.0" rx="1.5" fill="rgb(82,83,83)" filter="url(#bl)"/>
<rect x="314.5" y="544.5" width="11.2" height="3.0" rx="1.5" fill="rgb(29,29,29)" filter="url(#bl)"/>
<rect x="327.7" y="544.5" width="11.2" height="3.0" rx="1.5" fill="rgb(114,115,114)" filter="url(#bl)"/>
<rect x="341.5" y="544.5" width="11.2" height="3.0" rx="1.5" fill="rgb(114,115,114)" filter="url(#bl)"/>
<rect x="356.1" y="544.5" width="11.2" height="3.0" rx="1.5" fill="rgb(114,115,114)" filter="url(#bl)"/>
<rect x="272.3" y="552.3" width="11.8" height="2.2" rx="1.5" fill="rgb(61,62,61)" filter="url(#bls)"/>
<rect x="286.1" y="552.3" width="11.8" height="2.2" rx="1.5" fill="rgb(61,62,61)" filter="url(#bls)"/>
<rect x="300.3" y="552.3" width="11.8" height="2.2" rx="1.5" fill="rgb(72,72,72)" filter="url(#bls)"/>
<rect x="314.4" y="552.3" width="11.8" height="2.2" rx="1.5" fill="rgb(61,62,61)" filter="url(#bls)"/>
<rect x="327.7" y="552.3" width="11.8" height="2.2" rx="1.5" fill="rgb(72,72,72)" filter="url(#bls)"/>
<rect x="341.6" y="552.3" width="11.8" height="2.2" rx="1.5" fill="rgb(72,72,72)" filter="url(#bls)"/>
<rect x="356.2" y="552.3" width="11.8" height="2.2" rx="1.5" fill="rgb(72,72,72)" filter="url(#bls)"/>
<rect x="275.2" y="384.0" width="7.4" height="1.4" rx="1" fill="rgb(156,158,157)" filter="url(#bl)"/>
<rect x="288.1" y="384.0" width="7.4" height="1.4" rx="1" fill="rgb(156,158,157)" filter="url(#bl)"/>
<rect x="301.3" y="384.0" width="7.4" height="1.4" rx="1" fill="rgb(167,168,168)" filter="url(#bl)"/>
<rect x="314.4" y="384.0" width="7.4" height="1.4" rx="1" fill="rgb(156,158,157)" filter="url(#bl)"/>
<rect x="326.7" y="384.0" width="7.4" height="1.4" rx="1" fill="rgb(167,168,168)" filter="url(#bl)"/>
<rect x="339.6" y="384.0" width="7.4" height="1.4" rx="1" fill="rgb(167,168,168)" filter="url(#bl)"/>
<rect x="353.2" y="384.0" width="7.4" height="1.4" rx="1" fill="rgb(146,147,146)" filter="url(#bl)"/>
<rect x="262.3" y="412.4" width="7.0" height="4.2" rx="1.6" fill="rgb(8,8,8)" filter="url(#bl)"/>
<rect x="262.3" y="427.1" width="7.0" height="5.0" rx="1.6" fill="rgb(8,8,8)" filter="url(#bl)"/>
<rect x="262.4" y="442.9" width="6.8" height="6.0" rx="1.6" fill="rgb(8,8,8)" filter="url(#bl)"/>
<rect x="262.1" y="458.9" width="7.4" height="9.0" rx="1.6" fill="rgb(8,8,8)" filter="url(#bl)"/>
<rect x="262.7" y="475.4" width="6.2" height="11.0" rx="1.6" fill="rgb(8,8,8)" filter="url(#bl)"/>
<rect x="262.6" y="510.5" width="6.4" height="7.0" rx="1.6" fill="rgb(8,8,8)" filter="url(#bl)"/>
<rect x="262.8" y="525.1" width="6.0" height="8.0" rx="1.6" fill="rgb(8,8,8)" filter="url(#bl)"/>
<rect x="262.1" y="542.6" width="7.5" height="6.0" rx="1.6" fill="rgb(8,8,8)" filter="url(#bl)"/>
<rect x="260.8" y="550.9" width="10.0" height="3.0" rx="1.6" fill="rgb(8,8,8)" filter="url(#bl)"/>
<circle cx="265.5" cy="469.0" r="2.6" fill="rgb(40,40,40)" filter="url(#bl)"/>
<circle cx="270.5" cy="469.5" r="2.6" fill="rgb(40,40,40)" filter="url(#bl)"/>
<circle cx="318.0" cy="471.5" r="1.6" fill="rgb(93,94,93)" filter="url(#bl)"/>
<circle cx="294.0" cy="471.5" r="1.4" fill="rgb(114,115,114)" filter="url(#bl)"/>
<circle cx="315.4" cy="549.8" r="2.2" fill="rgb(252,254,253)" filter="url(#bl)"/>
<text x="15.7" y="403.9" font-size="9.0" fill="#111" font-weight="normal" text-anchor="start" textLength="16.0" lengthAdjust="spacingAndGlyphs" >kDa</text>
<text x="34.9" y="416.0" font-size="9.0" fill="#111" font-weight="normal" text-anchor="end" >185</text>
<text x="34.4" y="430.5" font-size="9.0" fill="#111" font-weight="normal" text-anchor="end" >115</text>
<text x="34.3" y="447.7" font-size="9.0" fill="#111" font-weight="normal" text-anchor="end" >80</text>
<text x="34.6" y="466.8" font-size="9.0" fill="#111" font-weight="normal" text-anchor="end" >65</text>
<text x="34.6" y="485.9" font-size="9.0" fill="#111" font-weight="normal" text-anchor="end" >50</text>
<text x="35.2" y="520.5" font-size="9.0" fill="#111" font-weight="normal" text-anchor="end" >30</text>
<text x="35.0" y="533.4" font-size="9.0" fill="#111" font-weight="normal" text-anchor="end" >25</text>
<text x="35.0" y="553.5" font-size="9.0" fill="#111" font-weight="normal" text-anchor="end" >15</text>
<text x="35.0" y="561.5" font-size="9.0" fill="#111" font-weight="normal" text-anchor="end" >10</text>
<text x="243.9" y="404.8" font-size="9.0" fill="#111" font-weight="normal" text-anchor="start" textLength="16.0" lengthAdjust="spacingAndGlyphs" >kDa</text>
<text x="259.9" y="418.6" font-size="9.0" fill="#111" font-weight="normal" text-anchor="end" >185</text>
<text x="259.9" y="433.0" font-size="9.0" fill="#111" font-weight="normal" text-anchor="end" >115</text>
<text x="259.6" y="448.7" font-size="9.0" fill="#111" font-weight="normal" text-anchor="end" >80</text>
<text x="259.6" y="466.7" font-size="9.0" fill="#111" font-weight="normal" text-anchor="end" >65</text>
<text x="259.6" y="484.5" font-size="9.0" fill="#111" font-weight="normal" text-anchor="end" >50</text>
<text x="259.3" y="518.5" font-size="9.0" fill="#111" font-weight="normal" text-anchor="end" >30</text>
<text x="259.3" y="533.6" font-size="9.0" fill="#111" font-weight="normal" text-anchor="end" >25</text>
<text x="259.3" y="549.6" font-size="9.0" fill="#111" font-weight="normal" text-anchor="end" >15</text>
<text x="259.3" y="558.3" font-size="9.0" fill="#111" font-weight="normal" text-anchor="end" >10</text>
<text transform="translate(56.8,373.4) rotate(-90)" x="0" y="0" font-size="9.3" fill="#111">10</text>
<text transform="translate(69.3,373.4) rotate(-90)" x="0" y="0" font-size="9.3" fill="#111">5.0</text>
<text transform="translate(82.0,373.4) rotate(-90)" x="0" y="0" font-size="9.3" fill="#111">2.5</text>
<text transform="translate(94.4,373.4) rotate(-90)" x="0" y="0" font-size="9.3" fill="#111">1.25</text>
<text transform="translate(107.5,373.4) rotate(-90)" x="0" y="0" font-size="9.3" fill="#111">0.62</text>
<text transform="translate(119.9,373.4) rotate(-90)" x="0" y="0" font-size="9.3" fill="#111">0.31</text>
<text transform="translate(133.2,373.4) rotate(-90)" x="0" y="0" font-size="9.3" fill="#111">DMSO</text>
<text transform="translate(280.1,375.9) rotate(-90)" x="0" y="0" font-size="9.3" fill="#111">10</text>
<text transform="translate(292.5,375.9) rotate(-90)" x="0" y="0" font-size="9.3" fill="#111">5.0</text>
<text transform="translate(304.9,375.9) rotate(-90)" x="0" y="0" font-size="9.3" fill="#111">2.5</text>
<text transform="translate(318.0,375.9) rotate(-90)" x="0" y="0" font-size="9.3" fill="#111">1.25</text>
<text transform="translate(330.4,375.9) rotate(-90)" x="0" y="0" font-size="9.3" fill="#111">0.62</text>
<text transform="translate(343.6,375.9) rotate(-90)" x="0" y="0" font-size="9.3" fill="#111">0.31</text>
<text transform="translate(357.7,375.9) rotate(-90)" x="0" y="0" font-size="9.3" fill="#111">DMSO</text>
<text x="148.8" y="426.5" font-size="8.3" fill="#2a2a2a" font-weight="normal" text-anchor="start" textLength="8.7" lengthAdjust="spacingAndGlyphs" >E1</text>
<text x="149.1" y="451.8" font-size="6.8" fill="#2a2a2a" font-weight="normal" text-anchor="start" textLength="75.8" lengthAdjust="spacingAndGlyphs" >MBP-sfBRD3(BD2)-ubq</text>
<text x="225.4" y="453.1" font-size="4.2" fill="#2a2a2a" font-weight="normal" text-anchor="start" >n</text>
<text x="149.1" y="462.5" font-size="6.8" fill="#2a2a2a" font-weight="normal" text-anchor="start" textLength="75.8" lengthAdjust="spacingAndGlyphs" >MBP-sfBRD3(BD2)-ubq</text>
<text x="149.1" y="472.9" font-size="6.8" fill="#2a2a2a" font-weight="normal" text-anchor="start" textLength="60.5" lengthAdjust="spacingAndGlyphs" >MBP-sfBRD3(BD2)</text>
<text x="148.8" y="537.8" font-size="6.8" fill="#2a2a2a" font-weight="normal" text-anchor="start" textLength="19.0" lengthAdjust="spacingAndGlyphs" >sfVHL</text>
<text x="148.8" y="552.0" font-size="6.8" fill="#2a2a2a" font-weight="normal" text-anchor="start" textLength="42.0" lengthAdjust="spacingAndGlyphs" >sfBRD3(BD2)</text>
<text x="375.6" y="425.0" font-size="8.3" fill="#2a2a2a" font-weight="normal" text-anchor="start" textLength="8.7" lengthAdjust="spacingAndGlyphs" >E1</text>
<text x="375.9" y="449.0" font-size="6.8" fill="#2a2a2a" font-weight="normal" text-anchor="start" textLength="75.8" lengthAdjust="spacingAndGlyphs" >MBP-sfBRD3(BD2)-ubq</text>
<text x="452.2" y="450.3" font-size="4.2" fill="#2a2a2a" font-weight="normal" text-anchor="start" >n</text>
<text x="375.9" y="459.5" font-size="6.8" fill="#2a2a2a" font-weight="normal" text-anchor="start" textLength="75.8" lengthAdjust="spacingAndGlyphs" >MBP-sfBRD3(BD2)-ubq</text>
<text x="375.9" y="469.7" font-size="6.8" fill="#2a2a2a" font-weight="normal" text-anchor="start" textLength="60.5" lengthAdjust="spacingAndGlyphs" >MBP-sfBRD3(BD2)</text>
<text x="375.6" y="534.1" font-size="6.8" fill="#2a2a2a" font-weight="normal" text-anchor="start" textLength="19.0" lengthAdjust="spacingAndGlyphs" >sfVHL</text>
<text x="375.6" y="547.5" font-size="6.8" fill="#2a2a2a" font-weight="normal" text-anchor="start" textLength="42.0" lengthAdjust="spacingAndGlyphs" >sfBRD3(BD2)</text>
<g stroke="#2a2a2a" stroke-width="0.75" stroke-linecap="round"><line x1="484.60" y1="366.70" x2="491.60" y2="372.00"/><line x1="491.60" y1="372.00" x2="497.40" y2="371.74"/><line x1="502.42" y1="374.41" x2="505.60" y2="379.60"/><line x1="505.60" y1="379.60" x2="499.00" y2="387.50"/><line x1="503.32" y1="379.52" x2="498.52" y2="385.27"/><line x1="499.00" y1="387.50" x2="490.30" y2="381.60"/><line x1="490.30" y1="381.60" x2="491.60" y2="372.00"/><line x1="492.27" y1="380.45" x2="493.20" y2="373.63"/><line x1="490.30" y1="381.60" x2="482.30" y2="386.70"/><line x1="505.60" y1="379.60" x2="510.30" y2="379.84"/><line x1="516.08" y1="377.82" x2="520.90" y2="373.60"/><line x1="520.90" y1="373.60" x2="517.60" y2="364.60"/><line x1="520.90" y1="373.60" x2="525.77" y2="375.24"/><line x1="521.65" y1="375.75" x2="523.87" y2="376.50"/><line x1="528.90" y1="379.60" x2="528.90" y2="382.30"/><line x1="525.64" y1="386.12" x2="520.20" y2="387.00"/><line x1="523.97" y1="384.57" x2="521.30" y2="385.00"/><line x1="520.20" y1="387.00" x2="515.86" y2="382.40"/><line x1="520.20" y1="387.00" x2="516.90" y2="397.60"/><line x1="516.90" y1="397.60" x2="510.92" y2="399.64"/><line x1="504.97" y1="399.00" x2="500.00" y2="396.00"/><line x1="504.70" y1="396.73" x2="502.13" y2="395.18"/><line x1="500.00" y1="396.00" x2="499.00" y2="387.50"/><line x1="500.00" y1="396.00" x2="492.10" y2="400.70"/><line x1="483.70" y1="396.30" x2="492.10" y2="400.70"/><line x1="492.10" y1="400.70" x2="492.50" y2="410.50"/><line x1="490.36" y1="402.17" x2="490.64" y2="409.17"/><line x1="492.50" y1="410.50" x2="484.80" y2="415.30"/><line x1="484.80" y1="415.30" x2="476.40" y2="411.30"/><line x1="484.31" y1="413.07" x2="478.44" y2="410.28"/><line x1="476.40" y1="411.30" x2="475.90" y2="402.20"/><line x1="475.90" y1="402.20" x2="483.70" y2="396.30"/><line x1="478.10" y1="402.79" x2="483.67" y2="398.58"/><line x1="476.40" y1="411.30" x2="470.22" y2="414.39"/><line x1="517.77" y1="397.82" x2="517.36" y2="398.38"/><line x1="519.22" y1="398.67" x2="518.58" y2="399.53"/><line x1="520.67" y1="399.52" x2="519.80" y2="400.68"/><line x1="522.12" y1="400.36" x2="521.01" y2="401.84"/><line x1="523.57" y1="401.21" x2="522.23" y2="402.99"/><line x1="525.02" y1="402.06" x2="523.45" y2="404.14"/><line x1="524.90" y1="403.60" x2="533.60" y2="400.30"/><line x1="533.60" y1="400.30" x2="534.21" y2="395.28"/><line x1="535.29" y1="400.50" x2="535.89" y2="395.48"/><line x1="533.60" y1="400.30" x2="537.47" y2="404.88"/><line x1="542.76" y1="406.43" x2="548.10" y2="404.80"/><line x1="548.10" y1="404.80" x2="556.00" y2="411.00"/><line x1="556.00" y1="411.00" x2="561.01" y2="409.66"/><line x1="565.72" y1="405.87" x2="568.50" y2="400.50"/><line x1="568.50" y1="400.50" x2="576.40" y2="404.40"/><line x1="576.40" y1="404.40" x2="572.40" y2="412.70"/><line x1="572.40" y1="412.70" x2="567.18" y2="410.22"/><line x1="576.40" y1="404.40" x2="582.81" y2="402.66"/><line x1="587.00" y1="398.65" x2="588.60" y2="393.60"/><line x1="588.60" y1="393.60" x2="597.40" y2="390.40"/><line x1="597.40" y1="390.40" x2="601.72" y2="394.92"/><line x1="603.00" y1="400.45" x2="601.40" y2="405.50"/><line x1="601.40" y1="405.50" x2="592.80" y2="408.40"/><line x1="592.80" y1="408.40" x2="588.37" y2="404.10"/><line x1="607.11" y1="396.20" x2="612.50" y2="394.30"/><line x1="612.50" y1="394.30" x2="620.30" y2="399.70"/><line x1="620.30" y1="399.70" x2="618.10" y2="406.65"/><line x1="618.68" y1="399.19" x2="616.48" y2="406.14"/><line x1="620.30" y1="399.70" x2="625.66" y2="398.70"/><line x1="631.87" y1="400.41" x2="631.40" y2="400.91"/><line x1="632.65" y1="400.87" x2="631.91" y2="401.66"/><line x1="633.43" y1="401.34" x2="632.43" y2="402.41"/><line x1="634.21" y1="401.81" x2="632.95" y2="403.15"/><line x1="634.99" y1="402.28" x2="633.47" y2="403.90"/><line x1="635.77" y1="402.74" x2="633.98" y2="404.65"/><line x1="635.20" y1="404.00" x2="644.80" y2="401.80"/><line x1="644.80" y1="401.80" x2="645.79" y2="396.54"/><line x1="646.47" y1="402.11" x2="647.46" y2="396.86"/><line x1="644.80" y1="401.80" x2="648.87" y2="405.87"/><line x1="635.20" y1="404.00" x2="633.10" y2="415.20"/><line x1="633.10" y1="415.20" x2="624.60" y2="416.20"/><line x1="633.10" y1="415.20" x2="631.00" y2="422.60"/><line x1="633.10" y1="415.20" x2="640.60" y2="420.30"/><line x1="654.42" y1="407.49" x2="660.80" y2="406.10"/><line x1="660.80" y1="406.10" x2="665.10" y2="414.10"/><line x1="665.10" y1="414.10" x2="658.70" y2="421.00"/><line x1="658.70" y1="421.00" x2="650.70" y2="416.80"/><line x1="650.70" y1="416.80" x2="651.01" y2="411.49"/><line x1="660.86" y1="405.30" x2="661.46" y2="405.65"/><line x1="661.41" y1="403.96" x2="662.34" y2="404.49"/><line x1="661.96" y1="402.61" x2="663.22" y2="403.34"/><line x1="662.51" y1="401.27" x2="664.11" y2="402.18"/><line x1="663.06" y1="399.92" x2="664.99" y2="401.03"/><line x1="663.61" y1="398.58" x2="665.87" y2="399.87"/><line x1="665.10" y1="398.60" x2="669.83" y2="398.01"/><line x1="665.31" y1="400.29" x2="670.04" y2="399.70"/><line x1="665.10" y1="398.60" x2="660.08" y2="393.31"/><line x1="659.73" y1="387.80" x2="663.90" y2="382.10"/><line x1="663.90" y1="382.10" x2="658.10" y2="374.60"/><line x1="647.10" y1="358.20" x2="656.90" y2="357.90"/><line x1="648.55" y1="359.96" x2="655.56" y2="359.74"/><line x1="656.90" y1="357.90" x2="662.70" y2="366.00"/><line x1="662.70" y1="366.00" x2="658.10" y2="374.60"/><line x1="660.45" y1="366.39" x2="657.17" y2="372.52"/><line x1="658.10" y1="374.60" x2="648.30" y2="374.60"/><line x1="648.30" y1="374.60" x2="643.10" y2="366.60"/><line x1="649.05" y1="372.45" x2="645.37" y2="366.79"/><line x1="643.10" y1="366.60" x2="647.10" y2="358.20"/><line x1="647.10" y1="358.20" x2="643.10" y2="350.20"/><line x1="643.10" y1="350.20" x2="644.41" y2="346.05"/><line x1="642.81" y1="340.85" x2="637.30" y2="336.50"/><line x1="637.30" y1="336.50" x2="632.79" y2="340.06"/><line x1="637.32" y1="338.78" x2="635.00" y2="340.60"/><line x1="631.15" y1="345.26" x2="632.70" y2="350.40"/><line x1="632.70" y1="350.40" x2="643.10" y2="350.20"/><line x1="634.07" y1="348.57" x2="641.67" y2="348.43"/><line x1="632.70" y1="350.40" x2="627.20" y2="357.90"/></g>
<polygon points="658.70,421.00 660.75,429.08 663.65,427.72" fill="#2a2a2a"/>
<text x="500.70" y="373.90" font-size="6.4" fill="#1a1a1a" text-anchor="middle">S</text>
<text x="513.60" y="382.30" font-size="6.4" fill="#1a1a1a" text-anchor="middle">N</text>
<text x="528.90" y="378.60" font-size="6.4" fill="#1a1a1a" text-anchor="middle">N</text>
<text x="528.90" y="387.90" font-size="6.4" fill="#1a1a1a" text-anchor="middle">N</text>
<text x="507.80" y="403.00" font-size="6.4" fill="#1a1a1a" text-anchor="middle">N</text>
<text x="466.20" y="418.70" font-size="6.4" fill="#1a1a1a" text-anchor="middle">Cl</text>
<text x="534.60" y="394.30" font-size="6.4" fill="#1a1a1a" text-anchor="middle">O</text>
<text x="539.60" y="409.70" font-size="6.4" fill="#1a1a1a" text-anchor="middle">N</text>
<text x="564.20" y="411.10" font-size="6.4" fill="#1a1a1a" text-anchor="middle">N</text>
<text x="586.00" y="404.10" font-size="6.4" fill="#1a1a1a" text-anchor="middle">N</text>
<text x="604.00" y="399.60" font-size="6.4" fill="#1a1a1a" text-anchor="middle">N</text>
<text x="617.10" y="412.10" font-size="6.4" fill="#1a1a1a" text-anchor="middle">O</text>
<text x="628.90" y="400.40" font-size="6.4" fill="#1a1a1a" text-anchor="middle">N</text>
<text x="646.40" y="395.60" font-size="6.4" fill="#1a1a1a" text-anchor="middle">O</text>
<text x="651.20" y="410.50" font-size="6.4" fill="#1a1a1a" text-anchor="middle">N</text>
<text x="662.20" y="434.30" font-size="6.4" fill="#1a1a1a" text-anchor="middle">OH</text>
<text x="673.10" y="399.90" font-size="6.4" fill="#1a1a1a" text-anchor="middle">O</text>
<text x="657.60" y="393.00" font-size="6.4" fill="#1a1a1a" text-anchor="middle">HN</text>
<text x="630.20" y="344.40" font-size="6.4" fill="#1a1a1a" text-anchor="middle">N</text>
<text x="645.40" y="345.20" font-size="6.4" fill="#1a1a1a" text-anchor="middle">S</text>
<text x="539.60" y="415.90" font-size="6.4" fill="#1a1a1a" text-anchor="middle">H</text>
<text x="628.90" y="394.70" font-size="6.4" fill="#1a1a1a" text-anchor="middle">H</text>
<g stroke="#2a2a2a" stroke-width="0.75" stroke-linecap="round"><line x1="484.20" y1="473.50" x2="491.20" y2="478.80"/><line x1="491.20" y1="478.80" x2="497.00" y2="478.54"/><line x1="502.02" y1="481.21" x2="505.20" y2="486.40"/><line x1="505.20" y1="486.40" x2="498.60" y2="494.30"/><line x1="502.92" y1="486.32" x2="498.12" y2="492.07"/><line x1="498.60" y1="494.30" x2="489.90" y2="488.40"/><line x1="489.90" y1="488.40" x2="491.20" y2="478.80"/><line x1="491.87" y1="487.25" x2="492.80" y2="480.43"/><line x1="489.90" y1="488.40" x2="481.90" y2="493.50"/><line x1="505.20" y1="486.40" x2="509.90" y2="486.64"/><line x1="515.68" y1="484.62" x2="520.50" y2="480.40"/><line x1="520.50" y1="480.40" x2="517.20" y2="471.40"/><line x1="520.50" y1="480.40" x2="525.37" y2="482.04"/><line x1="521.25" y1="482.55" x2="523.47" y2="483.30"/><line x1="528.50" y1="486.40" x2="528.50" y2="489.10"/><line x1="525.24" y1="492.92" x2="519.80" y2="493.80"/><line x1="523.57" y1="491.37" x2="520.90" y2="491.80"/><line x1="519.80" y1="493.80" x2="515.46" y2="489.20"/><line x1="519.80" y1="493.80" x2="516.50" y2="504.40"/><line x1="516.50" y1="504.40" x2="510.52" y2="506.44"/><line x1="504.57" y1="505.80" x2="499.60" y2="502.80"/><line x1="504.30" y1="503.53" x2="501.73" y2="501.98"/><line x1="499.60" y1="502.80" x2="498.60" y2="494.30"/><line x1="499.60" y1="502.80" x2="491.70" y2="507.50"/><line x1="483.30" y1="503.10" x2="491.70" y2="507.50"/><line x1="491.70" y1="507.50" x2="492.10" y2="517.30"/><line x1="489.96" y1="508.97" x2="490.24" y2="515.97"/><line x1="492.10" y1="517.30" x2="484.40" y2="522.10"/><line x1="484.40" y1="522.10" x2="476.00" y2="518.10"/><line x1="483.91" y1="519.87" x2="478.04" y2="517.08"/><line x1="476.00" y1="518.10" x2="475.50" y2="509.00"/><line x1="475.50" y1="509.00" x2="483.30" y2="503.10"/><line x1="477.70" y1="509.59" x2="483.27" y2="505.38"/><line x1="476.00" y1="518.10" x2="469.82" y2="521.19"/><line x1="517.37" y1="504.62" x2="516.96" y2="505.18"/><line x1="518.82" y1="505.47" x2="518.18" y2="506.33"/><line x1="520.27" y1="506.32" x2="519.40" y2="507.48"/><line x1="521.72" y1="507.16" x2="520.61" y2="508.64"/><line x1="523.17" y1="508.01" x2="521.83" y2="509.79"/><line x1="524.62" y1="508.86" x2="523.05" y2="510.94"/><line x1="524.50" y1="510.40" x2="533.20" y2="507.10"/><line x1="533.20" y1="507.10" x2="533.81" y2="502.08"/><line x1="534.89" y1="507.30" x2="535.49" y2="502.28"/><line x1="533.20" y1="507.10" x2="537.07" y2="511.68"/><line x1="542.36" y1="513.23" x2="547.70" y2="511.60"/><line x1="547.70" y1="511.60" x2="555.60" y2="517.80"/><line x1="555.60" y1="517.80" x2="560.61" y2="516.46"/><line x1="565.32" y1="512.67" x2="568.10" y2="507.30"/><line x1="568.10" y1="507.30" x2="576.00" y2="511.20"/><line x1="576.00" y1="511.20" x2="572.00" y2="519.50"/><line x1="572.00" y1="519.50" x2="566.78" y2="517.02"/><line x1="576.00" y1="511.20" x2="582.41" y2="509.46"/><line x1="586.60" y1="505.45" x2="588.20" y2="500.40"/><line x1="588.20" y1="500.40" x2="597.00" y2="497.20"/><line x1="597.00" y1="497.20" x2="601.32" y2="501.72"/><line x1="602.60" y1="507.25" x2="601.00" y2="512.30"/><line x1="601.00" y1="512.30" x2="592.40" y2="515.20"/><line x1="592.40" y1="515.20" x2="587.97" y2="510.90"/><line x1="606.71" y1="503.00" x2="612.10" y2="501.10"/><line x1="612.10" y1="501.10" x2="619.90" y2="506.50"/><line x1="619.90" y1="506.50" x2="617.70" y2="513.45"/><line x1="618.28" y1="505.99" x2="616.08" y2="512.94"/><line x1="619.90" y1="506.50" x2="625.26" y2="505.50"/><line x1="631.47" y1="507.21" x2="631.00" y2="507.71"/><line x1="632.25" y1="507.67" x2="631.51" y2="508.46"/><line x1="633.03" y1="508.14" x2="632.03" y2="509.21"/><line x1="633.81" y1="508.61" x2="632.55" y2="509.95"/><line x1="634.59" y1="509.08" x2="633.07" y2="510.70"/><line x1="635.37" y1="509.54" x2="633.58" y2="511.45"/><line x1="634.80" y1="510.80" x2="644.40" y2="508.60"/><line x1="644.40" y1="508.60" x2="645.39" y2="503.34"/><line x1="646.07" y1="508.91" x2="647.06" y2="503.66"/><line x1="644.40" y1="508.60" x2="648.47" y2="512.67"/><line x1="634.80" y1="510.80" x2="632.70" y2="522.00"/><line x1="632.70" y1="522.00" x2="624.20" y2="523.00"/><line x1="632.70" y1="522.00" x2="630.60" y2="529.40"/><line x1="632.70" y1="522.00" x2="640.20" y2="527.10"/><line x1="654.02" y1="514.29" x2="660.40" y2="512.90"/><line x1="660.40" y1="512.90" x2="664.70" y2="520.90"/><line x1="664.70" y1="520.90" x2="658.30" y2="527.80"/><line x1="658.30" y1="527.80" x2="650.30" y2="523.60"/><line x1="650.30" y1="523.60" x2="650.61" y2="518.29"/><line x1="660.46" y1="512.10" x2="661.06" y2="512.45"/><line x1="661.01" y1="510.76" x2="661.94" y2="511.29"/><line x1="661.56" y1="509.41" x2="662.82" y2="510.14"/><line x1="662.11" y1="508.07" x2="663.71" y2="508.98"/><line x1="662.66" y1="506.72" x2="664.59" y2="507.83"/><line x1="663.21" y1="505.38" x2="665.47" y2="506.67"/><line x1="664.70" y1="505.40" x2="669.43" y2="504.81"/><line x1="664.91" y1="507.09" x2="669.64" y2="506.50"/><line x1="664.70" y1="505.40" x2="659.68" y2="500.11"/><line x1="659.33" y1="494.60" x2="663.50" y2="488.90"/><line x1="663.50" y1="488.90" x2="657.70" y2="481.40"/><line x1="646.70" y1="465.00" x2="656.50" y2="464.70"/><line x1="648.15" y1="466.76" x2="655.16" y2="466.54"/><line x1="656.50" y1="464.70" x2="662.30" y2="472.80"/><line x1="662.30" y1="472.80" x2="657.70" y2="481.40"/><line x1="660.05" y1="473.19" x2="656.77" y2="479.32"/><line x1="657.70" y1="481.40" x2="647.90" y2="481.40"/><line x1="647.90" y1="481.40" x2="642.70" y2="473.40"/><line x1="648.65" y1="479.25" x2="644.97" y2="473.59"/><line x1="642.70" y1="473.40" x2="646.70" y2="465.00"/><line x1="646.70" y1="465.00" x2="642.70" y2="457.00"/><line x1="642.70" y1="457.00" x2="644.01" y2="452.85"/><line x1="642.41" y1="447.65" x2="636.90" y2="443.30"/><line x1="636.90" y1="443.30" x2="632.39" y2="446.86"/><line x1="636.92" y1="445.58" x2="634.60" y2="447.40"/><line x1="630.75" y1="452.06" x2="632.30" y2="457.20"/><line x1="632.30" y1="457.20" x2="642.70" y2="457.00"/><line x1="633.67" y1="455.37" x2="641.27" y2="455.23"/><line x1="632.30" y1="457.20" x2="626.80" y2="464.70"/></g>
<g stroke="#2a2a2a" stroke-width="0.7"><line x1="659.06" y1="528.35" x2="658.24" y2="528.73"/><line x1="660.03" y1="529.70" x2="658.67" y2="530.34"/><line x1="661.00" y1="531.05" x2="659.10" y2="531.95"/><line x1="661.97" y1="532.40" x2="659.53" y2="533.56"/><line x1="662.94" y1="533.75" x2="659.96" y2="535.17"/></g>
<text x="500.30" y="480.70" font-size="6.4" fill="#1a1a1a" text-anchor="middle">S</text>
<text x="513.20" y="489.10" font-size="6.4" fill="#1a1a1a" text-anchor="middle">N</text>
<text x="528.50" y="485.40" font-size="6.4" fill="#1a1a1a" text-anchor="middle">N</text>
<text x="528.50" y="494.70" font-size="6.4" fill="#1a1a1a" text-anchor="middle">N</text>
<text x="507.40" y="509.80" font-size="6.4" fill="#1a1a1a" text-anchor="middle">N</text>
<text x="465.80" y="525.50" font-size="6.4" fill="#1a1a1a" text-anchor="middle">Cl</text>
<text x="534.20" y="501.10" font-size="6.4" fill="#1a1a1a" text-anchor="middle">O</text>
<text x="539.20" y="516.50" font-size="6.4" fill="#1a1a1a" text-anchor="middle">N</text>
<text x="563.80" y="517.90" font-size="6.4" fill="#1a1a1a" text-anchor="middle">N</text>
<text x="585.60" y="510.90" font-size="6.4" fill="#1a1a1a" text-anchor="middle">N</text>
<text x="603.60" y="506.40" font-size="6.4" fill="#1a1a1a" text-anchor="middle">N</text>
<text x="616.70" y="518.90" font-size="6.4" fill="#1a1a1a" text-anchor="middle">O</text>
<text x="628.50" y="507.20" font-size="6.4" fill="#1a1a1a" text-anchor="middle">N</text>
<text x="646.00" y="502.40" font-size="6.4" fill="#1a1a1a" text-anchor="middle">O</text>
<text x="650.80" y="517.30" font-size="6.4" fill="#1a1a1a" text-anchor="middle">N</text>
<text x="661.80" y="541.10" font-size="6.4" fill="#1a1a1a" text-anchor="middle">OH</text>
<text x="672.70" y="506.70" font-size="6.4" fill="#1a1a1a" text-anchor="middle">O</text>
<text x="657.20" y="499.80" font-size="6.4" fill="#1a1a1a" text-anchor="middle">HN</text>
<text x="629.80" y="451.20" font-size="6.4" fill="#1a1a1a" text-anchor="middle">N</text>
<text x="645.00" y="452.00" font-size="6.4" fill="#1a1a1a" text-anchor="middle">S</text>
<text x="539.20" y="522.70" font-size="6.4" fill="#1a1a1a" text-anchor="middle">H</text>
<text x="628.50" y="501.50" font-size="6.4" fill="#1a1a1a" text-anchor="middle">H</text>
<text x="541.9" y="433.2" font-size="9.2" fill="#000" font-weight="bold" text-anchor="start" textLength="58.0" lengthAdjust="spacingAndGlyphs" >Compound 21</text>
<text x="542.6" y="540.1" font-size="9.2" fill="#000" font-weight="bold" text-anchor="start" textLength="57.7" lengthAdjust="spacingAndGlyphs" >Compound 25</text>
<text x="543.7" y="552.8" font-size="9.2" fill="#000" font-weight="bold" text-anchor="start" textLength="54.8" lengthAdjust="spacingAndGlyphs" >(E3 negative)</text>
<polygon points="670.2,531.8 674.6,528.0 674.6,530.0 684.5,530.0 684.5,533.6 674.6,533.6 674.6,535.6" fill="#000"/>
</svg></body></html>
